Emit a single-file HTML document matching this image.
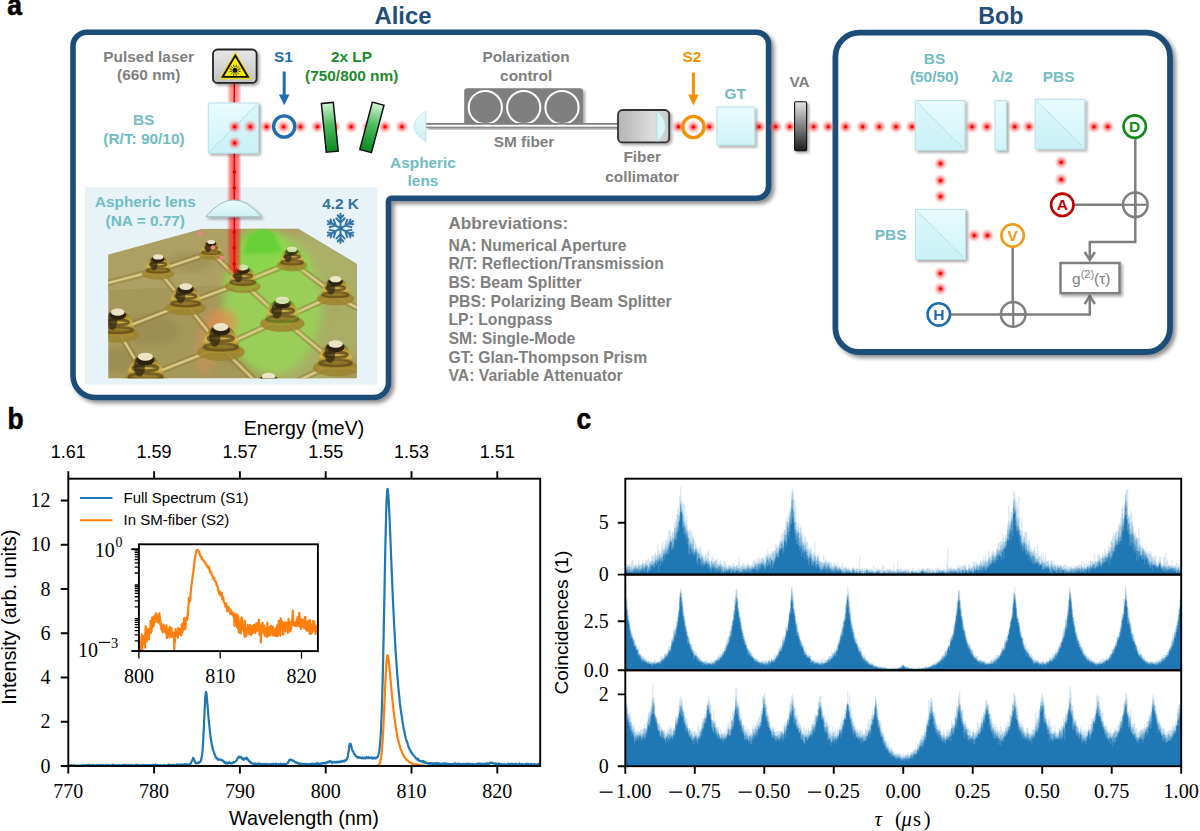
<!DOCTYPE html>
<html><head><meta charset="utf-8"><title>figure</title>
<style>html,body{margin:0;padding:0;background:#fff;overflow:hidden;}svg{display:block;}</style>
</head><body>
<svg width="1200" height="831" viewBox="0 0 1200 831">
<rect width="1200" height="831" fill="#fff"/>
<defs>
<filter id="sh" x="-20%" y="-20%" width="150%" height="150%">
  <feGaussianBlur in="SourceAlpha" stdDeviation="2.2"/>
  <feOffset dx="2.5" dy="3" result="ob"/>
  <feComponentTransfer><feFuncA type="linear" slope="0.45"/></feComponentTransfer>
  <feMerge><feMergeNode/><feMergeNode in="SourceGraphic"/></feMerge>
</filter>
<filter id="sh2" x="-30%" y="-30%" width="160%" height="160%">
  <feGaussianBlur in="SourceAlpha" stdDeviation="1.5"/>
  <feOffset dx="1.5" dy="2" result="ob"/>
  <feComponentTransfer><feFuncA type="linear" slope="0.35"/></feComponentTransfer>
  <feMerge><feMergeNode/><feMergeNode in="SourceGraphic"/></feMerge>
</filter>
<filter id="blur1"><feGaussianBlur stdDeviation="1.6"/></filter>
<filter id="blur3"><feGaussianBlur stdDeviation="3"/></filter>
<filter id="blur5"><feGaussianBlur stdDeviation="5"/></filter>
<radialGradient id="glow">
  <stop offset="0" stop-color="#ff0000" stop-opacity="0.85"/>
  <stop offset="0.35" stop-color="#ff2020" stop-opacity="0.6"/>
  <stop offset="0.65" stop-color="#ff4a4a" stop-opacity="0.28"/>
  <stop offset="1" stop-color="#ff7070" stop-opacity="0"/>
</radialGradient>
<linearGradient id="cube" x1="0" y1="0" x2="0" y2="1">
  <stop offset="0" stop-color="#e9fbfd"/><stop offset="1" stop-color="#cff4f8"/>
</linearGradient>
<linearGradient id="gfil" x1="0" y1="0" x2="0" y2="1">
  <stop offset="0" stop-color="#d2f3d6"/><stop offset="0.45" stop-color="#4dbb5c"/><stop offset="1" stop-color="#078a22"/>
</linearGradient>
<linearGradient id="lasbox" x1="0" y1="0" x2="0" y2="1">
  <stop offset="0" stop-color="#e8e8e8"/><stop offset="1" stop-color="#c2c2c2"/>
</linearGradient>
<linearGradient id="coll" x1="0" y1="0" x2="1" y2="0">
  <stop offset="0" stop-color="#b4b4b4"/><stop offset="0.7" stop-color="#dedede"/><stop offset="1" stop-color="#c8c8c8"/>
</linearGradient>
<linearGradient id="va" x1="0" y1="0" x2="0" y2="1">
  <stop offset="0" stop-color="#e4e4e4"/><stop offset="1" stop-color="#1e1e1e"/>
</linearGradient>
<linearGradient id="lensg" x1="0" y1="0" x2="0" y2="1">
  <stop offset="0" stop-color="#eafcfd"/><stop offset="1" stop-color="#cdeff3"/>
</linearGradient>
<linearGradient id="qdbase" x1="0" y1="0" x2="0" y2="1">
  <stop offset="0" stop-color="#a49455"/><stop offset="1" stop-color="#a39152"/>
</linearGradient>
<radialGradient id="greenglow" cx="0.5" cy="0.5" r="0.5">
  <stop offset="0" stop-color="#8fe04a" stop-opacity="0.95"/>
  <stop offset="0.6" stop-color="#8fdc50" stop-opacity="0.6"/>
  <stop offset="1" stop-color="#8fdc50" stop-opacity="0"/>
</radialGradient>
<radialGradient id="dome" cx="0.5" cy="0.35" r="0.6">
  <stop offset="0" stop-color="#f4ecc4"/>
  <stop offset="0.25" stop-color="#3b3218"/>
  <stop offset="0.45" stop-color="#c9a33a"/>
  <stop offset="0.7" stop-color="#6a5422"/>
  <stop offset="1" stop-color="#c2a64c" stop-opacity="0.2"/>
</radialGradient>
<linearGradient id="domeg" x1="0" y1="0" x2="0" y2="1">
  <stop offset="0" stop-color="#5e4c1c"/><stop offset="0.3" stop-color="#b49634"/><stop offset="0.55" stop-color="#d6b84c"/><stop offset="0.8" stop-color="#8c7226"/><stop offset="1" stop-color="#b09030"/>
</linearGradient>
<clipPath id="qdclip"><path d="M108.3,254.7 L201.6,229 L298.2,228.7 L356.9,264 L356.9,378.3 L108.3,378.3 Z"/></clipPath>
</defs>
<text transform="translate(7.3,15.2) scale(0.92,1)" font-family="Liberation Sans" font-weight="bold" font-size="28.7" fill="#000" stroke="#000" stroke-width="0.6">a</text>
<text x="403" y="24" font-family="Liberation Sans" font-weight="bold" font-size="23.8" fill="#1f4e79" text-anchor="middle" >Alice</text>
<text x="1000.8" y="23.7" font-family="Liberation Sans" font-weight="bold" font-size="23.2" fill="#1f4e79" text-anchor="middle" >Bob</text>
<path d="M73,46.2 A14,14 0 0 1 87,32.2 L756.6,32.2 A12,12 0 0 1 768.6,44.2 L768.6,186.3 A12,12 0 0 1 756.6,198.3 L391.5,198.3 A3,3 0 0 0 388.5,201.3 L388.5,382.5 A15,15 0 0 1 373.5,397.5 L95,397.5 A22,22 0 0 1 73,375.5 Z" fill="#fff" stroke="#1f4e79" stroke-width="5.6" filter="url(#sh)"/>
<rect x="835.4" y="32.7" width="334.6" height="319.3" rx="24" fill="#fff" stroke="#1f4e79" stroke-width="5.8" filter="url(#sh)"/>
<rect x="85" y="187.2" width="292.7" height="197.2" fill="#e7f3f7"/>
<g clip-path="url(#qdclip)">
<rect x="100" y="220" width="260" height="165" fill="#a6975a"/>
<path d="M108,254 L202,229 L298,229 L357,264 L357,280 L108,290Z" fill="#b2a468" opacity="0.7"/>
<ellipse cx="150" cy="330" rx="30" ry="16" fill="#8e8048" opacity="0.35" filter="url(#blur3)"/>
<ellipse cx="250" cy="355" rx="28" ry="14" fill="#8e8048" opacity="0.35" filter="url(#blur3)"/>
<ellipse cx="190" cy="262" rx="22" ry="10" fill="#8e8048" opacity="0.35" filter="url(#blur3)"/>
<ellipse cx="300" cy="330" rx="25" ry="14" fill="#8e8048" opacity="0.35" filter="url(#blur3)"/>
<ellipse cx="330" cy="310" rx="20" ry="12" fill="#8e8048" opacity="0.35" filter="url(#blur3)"/>
<ellipse cx="120" cy="360" rx="18" ry="12" fill="#8e8048" opacity="0.35" filter="url(#blur3)"/>
<ellipse cx="300" cy="310" rx="70" ry="75" fill="#aab46a" opacity="0.8" filter="url(#blur5)"/>
<ellipse cx="272" cy="305" rx="50" ry="70" fill="#98d458" opacity="0.85" filter="url(#blur5)"/>
<ellipse cx="262" cy="250" rx="26" ry="22" fill="#86d848" opacity="0.8" filter="url(#blur3)"/>
<path d="M248,236 L262,228 L274,233 L282,252 L244,254Z" fill="#5fcf30" opacity="0.8" filter="url(#blur1)"/>
<ellipse cx="222" cy="322" rx="16" ry="13" fill="#f08a50" opacity="0.6" filter="url(#blur3)"/>
<ellipse cx="205" cy="350" rx="10" ry="25" fill="#e8905a" opacity="0.35" filter="url(#blur3)"/>
<line x1="158.1" y1="270.4" x2="211.2" y2="252.5" stroke="#8a7434" stroke-width="6.5" opacity="0.45"/>
<line x1="158.1" y1="270.4" x2="211.2" y2="252.5" stroke="#d8c27a" stroke-width="3" opacity="0.75"/>
<line x1="158.1" y1="270.4" x2="211.2" y2="252.5" stroke="#f0e6b8" stroke-width="1" opacity="0.7"/>
<line x1="211.2" y1="252.5" x2="242.7" y2="282.5" stroke="#8a7434" stroke-width="6.5" opacity="0.45"/>
<line x1="211.2" y1="252.5" x2="242.7" y2="282.5" stroke="#d8c27a" stroke-width="3" opacity="0.75"/>
<line x1="211.2" y1="252.5" x2="242.7" y2="282.5" stroke="#f0e6b8" stroke-width="1" opacity="0.7"/>
<line x1="158.1" y1="270.4" x2="185.7" y2="303.6" stroke="#8a7434" stroke-width="6.5" opacity="0.45"/>
<line x1="158.1" y1="270.4" x2="185.7" y2="303.6" stroke="#d8c27a" stroke-width="3" opacity="0.75"/>
<line x1="158.1" y1="270.4" x2="185.7" y2="303.6" stroke="#f0e6b8" stroke-width="1" opacity="0.7"/>
<line x1="185.7" y1="303.6" x2="242.7" y2="282.5" stroke="#8a7434" stroke-width="6.5" opacity="0.45"/>
<line x1="185.7" y1="303.6" x2="242.7" y2="282.5" stroke="#d8c27a" stroke-width="3" opacity="0.75"/>
<line x1="185.7" y1="303.6" x2="242.7" y2="282.5" stroke="#f0e6b8" stroke-width="1" opacity="0.7"/>
<line x1="242.7" y1="282.5" x2="292" y2="262.4" stroke="#8a7434" stroke-width="6.5" opacity="0.45"/>
<line x1="242.7" y1="282.5" x2="292" y2="262.4" stroke="#d8c27a" stroke-width="3" opacity="0.75"/>
<line x1="242.7" y1="282.5" x2="292" y2="262.4" stroke="#f0e6b8" stroke-width="1" opacity="0.7"/>
<line x1="292" y1="262.4" x2="335.6" y2="294.7" stroke="#8a7434" stroke-width="6.5" opacity="0.45"/>
<line x1="292" y1="262.4" x2="335.6" y2="294.7" stroke="#d8c27a" stroke-width="3" opacity="0.75"/>
<line x1="292" y1="262.4" x2="335.6" y2="294.7" stroke="#f0e6b8" stroke-width="1" opacity="0.7"/>
<line x1="242.7" y1="282.5" x2="282.4" y2="318.9" stroke="#8a7434" stroke-width="6.5" opacity="0.45"/>
<line x1="242.7" y1="282.5" x2="282.4" y2="318.9" stroke="#d8c27a" stroke-width="3" opacity="0.75"/>
<line x1="242.7" y1="282.5" x2="282.4" y2="318.9" stroke="#f0e6b8" stroke-width="1" opacity="0.7"/>
<line x1="282.4" y1="318.9" x2="335.6" y2="294.7" stroke="#8a7434" stroke-width="6.5" opacity="0.45"/>
<line x1="282.4" y1="318.9" x2="335.6" y2="294.7" stroke="#d8c27a" stroke-width="3" opacity="0.75"/>
<line x1="282.4" y1="318.9" x2="335.6" y2="294.7" stroke="#f0e6b8" stroke-width="1" opacity="0.7"/>
<line x1="185.7" y1="303.6" x2="117.7" y2="330.1" stroke="#8a7434" stroke-width="6.5" opacity="0.45"/>
<line x1="185.7" y1="303.6" x2="117.7" y2="330.1" stroke="#d8c27a" stroke-width="3" opacity="0.75"/>
<line x1="185.7" y1="303.6" x2="117.7" y2="330.1" stroke="#f0e6b8" stroke-width="1" opacity="0.7"/>
<line x1="185.7" y1="303.6" x2="220.8" y2="347.0" stroke="#8a7434" stroke-width="6.5" opacity="0.45"/>
<line x1="185.7" y1="303.6" x2="220.8" y2="347.0" stroke="#d8c27a" stroke-width="3" opacity="0.75"/>
<line x1="185.7" y1="303.6" x2="220.8" y2="347.0" stroke="#f0e6b8" stroke-width="1" opacity="0.7"/>
<line x1="220.8" y1="347.0" x2="282.4" y2="318.9" stroke="#8a7434" stroke-width="6.5" opacity="0.45"/>
<line x1="220.8" y1="347.0" x2="282.4" y2="318.9" stroke="#d8c27a" stroke-width="3" opacity="0.75"/>
<line x1="220.8" y1="347.0" x2="282.4" y2="318.9" stroke="#f0e6b8" stroke-width="1" opacity="0.7"/>
<line x1="117.7" y1="330.1" x2="145.4" y2="376.7" stroke="#8a7434" stroke-width="6.5" opacity="0.45"/>
<line x1="117.7" y1="330.1" x2="145.4" y2="376.7" stroke="#d8c27a" stroke-width="3" opacity="0.75"/>
<line x1="117.7" y1="330.1" x2="145.4" y2="376.7" stroke="#f0e6b8" stroke-width="1" opacity="0.7"/>
<line x1="220.8" y1="347.0" x2="145.4" y2="376.7" stroke="#8a7434" stroke-width="6.5" opacity="0.45"/>
<line x1="220.8" y1="347.0" x2="145.4" y2="376.7" stroke="#d8c27a" stroke-width="3" opacity="0.75"/>
<line x1="220.8" y1="347.0" x2="145.4" y2="376.7" stroke="#f0e6b8" stroke-width="1" opacity="0.7"/>
<line x1="220.8" y1="347.0" x2="268.6" y2="394.3" stroke="#8a7434" stroke-width="6.5" opacity="0.45"/>
<line x1="220.8" y1="347.0" x2="268.6" y2="394.3" stroke="#d8c27a" stroke-width="3" opacity="0.75"/>
<line x1="220.8" y1="347.0" x2="268.6" y2="394.3" stroke="#f0e6b8" stroke-width="1" opacity="0.7"/>
<line x1="282.4" y1="318.9" x2="335.6" y2="363.0" stroke="#8a7434" stroke-width="6.5" opacity="0.45"/>
<line x1="282.4" y1="318.9" x2="335.6" y2="363.0" stroke="#d8c27a" stroke-width="3" opacity="0.75"/>
<line x1="282.4" y1="318.9" x2="335.6" y2="363.0" stroke="#f0e6b8" stroke-width="1" opacity="0.7"/>
<line x1="335.6" y1="363.0" x2="268.6" y2="394.3" stroke="#8a7434" stroke-width="6.5" opacity="0.45"/>
<line x1="335.6" y1="363.0" x2="268.6" y2="394.3" stroke="#d8c27a" stroke-width="3" opacity="0.75"/>
<line x1="335.6" y1="363.0" x2="268.6" y2="394.3" stroke="#f0e6b8" stroke-width="1" opacity="0.7"/>
<line x1="117.7" y1="330" x2="100" y2="318" stroke="#8a7434" stroke-width="6.5" opacity="0.45"/>
<line x1="117.7" y1="330" x2="100" y2="318" stroke="#d8c27a" stroke-width="3" opacity="0.75"/>
<line x1="117.7" y1="330" x2="100" y2="318" stroke="#f0e6b8" stroke-width="1" opacity="0.7"/>
<line x1="158.1" y1="270" x2="100" y2="285" stroke="#8a7434" stroke-width="6.5" opacity="0.45"/>
<line x1="158.1" y1="270" x2="100" y2="285" stroke="#d8c27a" stroke-width="3" opacity="0.75"/>
<line x1="158.1" y1="270" x2="100" y2="285" stroke="#f0e6b8" stroke-width="1" opacity="0.7"/>
<line x1="335.6" y1="297" x2="362" y2="310" stroke="#8a7434" stroke-width="6.5" opacity="0.45"/>
<line x1="335.6" y1="297" x2="362" y2="310" stroke="#d8c27a" stroke-width="3" opacity="0.75"/>
<line x1="335.6" y1="297" x2="362" y2="310" stroke="#f0e6b8" stroke-width="1" opacity="0.7"/>
<line x1="335.6" y1="362" x2="362" y2="372" stroke="#8a7434" stroke-width="6.5" opacity="0.45"/>
<line x1="335.6" y1="362" x2="362" y2="372" stroke="#d8c27a" stroke-width="3" opacity="0.75"/>
<line x1="335.6" y1="362" x2="362" y2="372" stroke="#f0e6b8" stroke-width="1" opacity="0.7"/>
<line x1="145.4" y1="376" x2="140" y2="390" stroke="#8a7434" stroke-width="6.5" opacity="0.45"/>
<line x1="145.4" y1="376" x2="140" y2="390" stroke="#d8c27a" stroke-width="3" opacity="0.75"/>
<line x1="145.4" y1="376" x2="140" y2="390" stroke="#f0e6b8" stroke-width="1" opacity="0.7"/>
<ellipse cx="211.2" cy="255.12" rx="12.6" ry="4.73" fill="#9c842e" opacity="0.85"/>
<path d="M201.22,255.65 C201.75,245.67 205.42,240.95 211.2,240.95 C216.97,240.95 220.65,245.67 221.17,255.65 Z" fill="url(#domeg)"/>
<ellipse cx="211.2" cy="247.98" rx="6.51" ry="1.47" fill="none" stroke="#3a2c10" stroke-width="1.68" opacity="0.6"/>
<ellipse cx="211.2" cy="252.5" rx="8.61" ry="1.68" fill="none" stroke="#4a3814" stroke-width="1.47" opacity="0.55"/>
<ellipse cx="208.05" cy="247.25" rx="2.94" ry="5.25" fill="#2a200c" opacity="0.65"/>
<ellipse cx="211.2" cy="243.78" rx="4.83" ry="2.73" fill="#2c2210"/>
<ellipse cx="211.2" cy="242" rx="3.99" ry="2.1" fill="#ebe5c6"/>
<ellipse cx="158.1" cy="273.77" rx="16.2" ry="6.08" fill="#9c842e" opacity="0.85"/>
<path d="M145.28,274.45 C145.95,261.62 150.67,255.55 158.1,255.55 C165.53,255.55 170.25,261.62 170.92,274.45 Z" fill="url(#domeg)"/>
<ellipse cx="158.1" cy="264.59" rx="8.37" ry="1.89" fill="none" stroke="#3a2c10" stroke-width="2.16" opacity="0.6"/>
<ellipse cx="158.1" cy="270.4" rx="11.07" ry="2.16" fill="none" stroke="#4a3814" stroke-width="1.89" opacity="0.55"/>
<ellipse cx="154.05" cy="263.65" rx="3.78" ry="6.75" fill="#2a200c" opacity="0.65"/>
<ellipse cx="158.1" cy="259.19" rx="6.21" ry="3.51" fill="#2c2210"/>
<ellipse cx="158.1" cy="256.9" rx="5.13" ry="2.7" fill="#ebe5c6"/>
<ellipse cx="242.7" cy="286.25" rx="18" ry="6.75" fill="#9c842e" opacity="0.85"/>
<path d="M228.45,287 C229.2,272.75 234.45,266 242.7,266 C250.95,266 256.2,272.75 256.95,287 Z" fill="url(#domeg)"/>
<ellipse cx="242.7" cy="276.05" rx="9.3" ry="2.1" fill="none" stroke="#3a2c10" stroke-width="2.4" opacity="0.6"/>
<ellipse cx="242.7" cy="282.5" rx="12.3" ry="2.4" fill="none" stroke="#4a3814" stroke-width="2.1" opacity="0.55"/>
<ellipse cx="238.2" cy="275" rx="4.2" ry="7.5" fill="#2a200c" opacity="0.65"/>
<ellipse cx="242.7" cy="270.05" rx="6.9" ry="3.9" fill="#2c2210"/>
<ellipse cx="242.7" cy="267.5" rx="5.7" ry="3" fill="#ebe5c6"/>
<ellipse cx="292" cy="265.65" rx="15.6" ry="5.85" fill="#9c842e" opacity="0.85"/>
<path d="M279.65,266.3 C280.3,253.95 284.85,248.1 292,248.1 C299.15,248.1 303.7,253.95 304.35,266.3 Z" fill="url(#domeg)"/>
<ellipse cx="292" cy="256.81" rx="8.06" ry="1.82" fill="none" stroke="#3a2c10" stroke-width="2.08" opacity="0.6"/>
<ellipse cx="292" cy="262.4" rx="10.66" ry="2.08" fill="none" stroke="#4a3814" stroke-width="1.82" opacity="0.55"/>
<ellipse cx="288.1" cy="255.9" rx="3.64" ry="6.5" fill="#2a200c" opacity="0.65"/>
<ellipse cx="292" cy="251.61" rx="5.98" ry="3.38" fill="#2c2210"/>
<ellipse cx="292" cy="249.4" rx="4.94" ry="2.6" fill="#ebe5c6"/>
<ellipse cx="335.6" cy="298.57" rx="18.6" ry="6.98" fill="#9c842e" opacity="0.85"/>
<path d="M320.88,299.35 C321.65,284.62 327.08,277.65 335.6,277.65 C344.12,277.65 349.55,284.62 350.33,299.35 Z" fill="url(#domeg)"/>
<ellipse cx="335.6" cy="288.04" rx="9.61" ry="2.17" fill="none" stroke="#3a2c10" stroke-width="2.48" opacity="0.6"/>
<ellipse cx="335.6" cy="294.7" rx="12.71" ry="2.48" fill="none" stroke="#4a3814" stroke-width="2.17" opacity="0.55"/>
<ellipse cx="330.95" cy="286.95" rx="4.34" ry="7.75" fill="#2a200c" opacity="0.65"/>
<ellipse cx="335.6" cy="281.84" rx="7.13" ry="4.03" fill="#2c2210"/>
<ellipse cx="335.6" cy="279.2" rx="5.89" ry="3.1" fill="#ebe5c6"/>
<ellipse cx="185.7" cy="307.85" rx="20.4" ry="7.65" fill="#9c842e" opacity="0.85"/>
<path d="M169.55,308.7 C170.4,292.55 176.35,284.9 185.7,284.9 C195.05,284.9 201,292.55 201.85,308.7 Z" fill="url(#domeg)"/>
<ellipse cx="185.7" cy="296.29" rx="10.54" ry="2.38" fill="none" stroke="#3a2c10" stroke-width="2.72" opacity="0.6"/>
<ellipse cx="185.7" cy="303.6" rx="13.94" ry="2.72" fill="none" stroke="#4a3814" stroke-width="2.38" opacity="0.55"/>
<ellipse cx="180.6" cy="295.1" rx="4.76" ry="8.5" fill="#2a200c" opacity="0.65"/>
<ellipse cx="185.7" cy="289.49" rx="7.82" ry="4.42" fill="#2c2210"/>
<ellipse cx="185.7" cy="286.6" rx="6.46" ry="3.4" fill="#ebe5c6"/>
<ellipse cx="117.7" cy="334.6" rx="21.6" ry="8.1" fill="#9c842e" opacity="0.85"/>
<path d="M100.6,335.5 C101.5,318.4 107.8,310.3 117.7,310.3 C127.6,310.3 133.9,318.4 134.8,335.5 Z" fill="url(#domeg)"/>
<ellipse cx="117.7" cy="322.36" rx="11.16" ry="2.52" fill="none" stroke="#3a2c10" stroke-width="2.88" opacity="0.6"/>
<ellipse cx="117.7" cy="330.1" rx="14.76" ry="2.88" fill="none" stroke="#4a3814" stroke-width="2.52" opacity="0.55"/>
<ellipse cx="112.3" cy="321.1" rx="5.04" ry="9" fill="#2a200c" opacity="0.65"/>
<ellipse cx="117.7" cy="315.16" rx="8.28" ry="4.68" fill="#2c2210"/>
<ellipse cx="117.7" cy="312.1" rx="6.84" ry="3.6" fill="#ebe5c6"/>
<ellipse cx="282.4" cy="323.52" rx="22.2" ry="8.33" fill="#9c842e" opacity="0.85"/>
<path d="M264.82,324.45 C265.75,306.87 272.22,298.55 282.4,298.55 C292.57,298.55 299.05,306.87 299.97,324.45 Z" fill="url(#domeg)"/>
<ellipse cx="282.4" cy="310.94" rx="11.47" ry="2.59" fill="none" stroke="#3a2c10" stroke-width="2.96" opacity="0.6"/>
<ellipse cx="282.4" cy="318.9" rx="15.17" ry="2.96" fill="none" stroke="#4a3814" stroke-width="2.59" opacity="0.55"/>
<ellipse cx="276.85" cy="309.65" rx="5.18" ry="9.25" fill="#2a200c" opacity="0.65"/>
<ellipse cx="282.4" cy="303.54" rx="8.51" ry="4.81" fill="#2c2210"/>
<ellipse cx="282.4" cy="300.4" rx="7.03" ry="3.7" fill="#ebe5c6"/>
<ellipse cx="220.8" cy="352" rx="24" ry="9" fill="#9c842e" opacity="0.85"/>
<path d="M201.8,353 C202.8,334 209.8,325 220.8,325 C231.8,325 238.8,334 239.8,353 Z" fill="url(#domeg)"/>
<ellipse cx="220.8" cy="338.4" rx="12.4" ry="2.8" fill="none" stroke="#3a2c10" stroke-width="3.2" opacity="0.6"/>
<ellipse cx="220.8" cy="347" rx="16.4" ry="3.2" fill="none" stroke="#4a3814" stroke-width="2.8" opacity="0.55"/>
<ellipse cx="214.8" cy="337" rx="5.6" ry="10" fill="#2a200c" opacity="0.65"/>
<ellipse cx="220.8" cy="330.4" rx="9.2" ry="5.2" fill="#2c2210"/>
<ellipse cx="220.8" cy="327" rx="7.6" ry="4" fill="#ebe5c6"/>
<ellipse cx="335.6" cy="367.75" rx="22.8" ry="8.55" fill="#9c842e" opacity="0.85"/>
<path d="M317.55,368.7 C318.5,350.65 325.15,342.1 335.6,342.1 C346.05,342.1 352.7,350.65 353.65,368.7 Z" fill="url(#domeg)"/>
<ellipse cx="335.6" cy="354.83" rx="11.78" ry="2.66" fill="none" stroke="#3a2c10" stroke-width="3.04" opacity="0.6"/>
<ellipse cx="335.6" cy="363" rx="15.58" ry="3.04" fill="none" stroke="#4a3814" stroke-width="2.66" opacity="0.55"/>
<ellipse cx="329.9" cy="353.5" rx="5.32" ry="9.5" fill="#2a200c" opacity="0.65"/>
<ellipse cx="335.6" cy="347.23" rx="8.74" ry="4.94" fill="#2c2210"/>
<ellipse cx="335.6" cy="344" rx="7.22" ry="3.8" fill="#ebe5c6"/>
<ellipse cx="145.4" cy="381.7" rx="24" ry="9" fill="#9c842e" opacity="0.85"/>
<path d="M126.4,382.7 C127.4,363.7 134.4,354.7 145.4,354.7 C156.4,354.7 163.4,363.7 164.4,382.7 Z" fill="url(#domeg)"/>
<ellipse cx="145.4" cy="368.1" rx="12.4" ry="2.8" fill="none" stroke="#3a2c10" stroke-width="3.2" opacity="0.6"/>
<ellipse cx="145.4" cy="376.7" rx="16.4" ry="3.2" fill="none" stroke="#4a3814" stroke-width="2.8" opacity="0.55"/>
<ellipse cx="139.4" cy="366.7" rx="5.6" ry="10" fill="#2a200c" opacity="0.65"/>
<ellipse cx="145.4" cy="360.1" rx="9.2" ry="5.2" fill="#2c2210"/>
<ellipse cx="145.4" cy="356.7" rx="7.6" ry="4" fill="#ebe5c6"/>
<ellipse cx="268.6" cy="398.8" rx="21.6" ry="8.1" fill="#9c842e" opacity="0.85"/>
<path d="M251.5,399.7 C252.4,382.6 258.7,374.5 268.6,374.5 C278.5,374.5 284.8,382.6 285.7,399.7 Z" fill="url(#domeg)"/>
<ellipse cx="268.6" cy="386.56" rx="11.16" ry="2.52" fill="none" stroke="#3a2c10" stroke-width="2.88" opacity="0.6"/>
<ellipse cx="268.6" cy="394.3" rx="14.76" ry="2.88" fill="none" stroke="#4a3814" stroke-width="2.52" opacity="0.55"/>
<ellipse cx="263.2" cy="385.3" rx="5.04" ry="9" fill="#2a200c" opacity="0.65"/>
<ellipse cx="268.6" cy="379.36" rx="8.28" ry="4.68" fill="#2c2210"/>
<ellipse cx="268.6" cy="376.3" rx="6.84" ry="3.6" fill="#ebe5c6"/>
<ellipse cx="243" cy="278" rx="17" ry="11" fill="none" stroke="#7fe040" stroke-width="2" opacity="0.6" filter="url(#blur1)"/>
<ellipse cx="282" cy="312" rx="17" ry="11" fill="none" stroke="#7fe040" stroke-width="2" opacity="0.6" filter="url(#blur1)"/>
<ellipse cx="292" cy="262" rx="17" ry="11" fill="none" stroke="#7fe040" stroke-width="2" opacity="0.6" filter="url(#blur1)"/>
<circle cx="200" cy="233.5" r="2.2" fill="#f58080"/>
<circle cx="213" cy="247.5" r="2.2" fill="#f58080"/>
<circle cx="221.5" cy="258" r="2.2" fill="#f58080"/>
</g>
<rect x="228.8" y="84" width="11" height="19" fill="#ff2828" opacity="0.5" filter="url(#blur1)"/>
<rect x="228.8" y="154" width="11" height="118" fill="#ff1818" opacity="0.6" filter="url(#blur1)"/>
<line x1="234.3" y1="83" x2="234.3" y2="103" stroke="#e80000" stroke-width="1.5"/>
<line x1="234.3" y1="153" x2="234.3" y2="273" stroke="#f00000" stroke-width="1.6"/>
<circle cx="234.3" cy="172" r="1.8" fill="#e00000"/>
<circle cx="234.3" cy="188" r="1.8" fill="#e00000"/>
<circle cx="234.3" cy="232" r="1.8" fill="#e00000"/>
<circle cx="234.3" cy="248" r="1.8" fill="#e00000"/>
<circle cx="234.3" cy="264" r="1.8" fill="#e00000"/>
<circle cx="266.7" cy="126.7" r="7" fill="url(#glow)"/><circle cx="266.7" cy="126.7" r="1.5" fill="#ff0000"/>
<circle cx="283.6" cy="126.7" r="7" fill="url(#glow)"/><circle cx="283.6" cy="126.7" r="1.5" fill="#ff0000"/>
<circle cx="300.5" cy="126.7" r="7" fill="url(#glow)"/><circle cx="300.5" cy="126.7" r="1.5" fill="#ff0000"/>
<circle cx="317.4" cy="126.7" r="7" fill="url(#glow)"/><circle cx="317.4" cy="126.7" r="1.5" fill="#ff0000"/>
<circle cx="334.3" cy="126.7" r="7" fill="url(#glow)"/><circle cx="334.3" cy="126.7" r="1.5" fill="#ff0000"/>
<circle cx="351.2" cy="126.7" r="7" fill="url(#glow)"/><circle cx="351.2" cy="126.7" r="1.5" fill="#ff0000"/>
<circle cx="368.1" cy="126.7" r="7" fill="url(#glow)"/><circle cx="368.1" cy="126.7" r="1.5" fill="#ff0000"/>
<circle cx="385" cy="126.7" r="7" fill="url(#glow)"/><circle cx="385" cy="126.7" r="1.5" fill="#ff0000"/>
<circle cx="401.9" cy="126.7" r="7" fill="url(#glow)"/><circle cx="401.9" cy="126.7" r="1.5" fill="#ff0000"/>
<circle cx="678.5" cy="126.7" r="7" fill="url(#glow)"/><circle cx="678.5" cy="126.7" r="1.5" fill="#ff0000"/>
<circle cx="709.3" cy="126.7" r="7" fill="url(#glow)"/><circle cx="709.3" cy="126.7" r="1.5" fill="#ff0000"/>
<circle cx="759.2" cy="126.7" r="7" fill="url(#glow)"/><circle cx="759.2" cy="126.7" r="1.5" fill="#ff0000"/>
<circle cx="775.6" cy="126.7" r="7" fill="url(#glow)"/><circle cx="775.6" cy="126.7" r="1.5" fill="#ff0000"/>
<circle cx="789.8" cy="126.7" r="7" fill="url(#glow)"/><circle cx="789.8" cy="126.7" r="1.5" fill="#ff0000"/>
<circle cx="813.6" cy="126.7" r="7" fill="url(#glow)"/><circle cx="813.6" cy="126.7" r="1.5" fill="#ff0000"/>
<circle cx="828.2" cy="126.7" r="7" fill="url(#glow)"/><circle cx="828.2" cy="126.7" r="1.5" fill="#ff0000"/>
<circle cx="845.6" cy="126.7" r="7" fill="url(#glow)"/><circle cx="845.6" cy="126.7" r="1.5" fill="#ff0000"/>
<circle cx="862.7" cy="126.7" r="7" fill="url(#glow)"/><circle cx="862.7" cy="126.7" r="1.5" fill="#ff0000"/>
<circle cx="879.3" cy="126.7" r="7" fill="url(#glow)"/><circle cx="879.3" cy="126.7" r="1.5" fill="#ff0000"/>
<circle cx="896" cy="126.7" r="7" fill="url(#glow)"/><circle cx="896" cy="126.7" r="1.5" fill="#ff0000"/>
<circle cx="912" cy="126.7" r="7" fill="url(#glow)"/><circle cx="912" cy="126.7" r="1.5" fill="#ff0000"/>
<circle cx="972" cy="126.7" r="7" fill="url(#glow)"/><circle cx="972" cy="126.7" r="1.5" fill="#ff0000"/>
<circle cx="987" cy="126.7" r="7" fill="url(#glow)"/><circle cx="987" cy="126.7" r="1.5" fill="#ff0000"/>
<circle cx="1014.8" cy="126.7" r="7" fill="url(#glow)"/><circle cx="1014.8" cy="126.7" r="1.5" fill="#ff0000"/>
<circle cx="1028.9" cy="126.7" r="7" fill="url(#glow)"/><circle cx="1028.9" cy="126.7" r="1.5" fill="#ff0000"/>
<circle cx="1094" cy="126.7" r="7" fill="url(#glow)"/><circle cx="1094" cy="126.7" r="1.5" fill="#ff0000"/>
<circle cx="1107.8" cy="126.7" r="7" fill="url(#glow)"/><circle cx="1107.8" cy="126.7" r="1.5" fill="#ff0000"/>
<circle cx="940.5" cy="163.6" r="7" fill="url(#glow)"/><circle cx="940.5" cy="163.6" r="1.5" fill="#ff0000"/>
<circle cx="940.5" cy="180.5" r="7" fill="url(#glow)"/><circle cx="940.5" cy="180.5" r="1.5" fill="#ff0000"/>
<circle cx="940.5" cy="196.5" r="7" fill="url(#glow)"/><circle cx="940.5" cy="196.5" r="1.5" fill="#ff0000"/>
<circle cx="940.5" cy="273.4" r="7" fill="url(#glow)"/><circle cx="940.5" cy="273.4" r="1.5" fill="#ff0000"/>
<circle cx="940.5" cy="288.8" r="7" fill="url(#glow)"/><circle cx="940.5" cy="288.8" r="1.5" fill="#ff0000"/>
<circle cx="974.2" cy="235.4" r="7" fill="url(#glow)"/><circle cx="974.2" cy="235.4" r="1.5" fill="#ff0000"/>
<circle cx="987.5" cy="235.4" r="7" fill="url(#glow)"/><circle cx="987.5" cy="235.4" r="1.5" fill="#ff0000"/>
<circle cx="1061.2" cy="162.2" r="7" fill="url(#glow)"/><circle cx="1061.2" cy="162.2" r="1.5" fill="#ff0000"/>
<circle cx="1061.2" cy="179.6" r="7" fill="url(#glow)"/><circle cx="1061.2" cy="179.6" r="1.5" fill="#ff0000"/>
<rect x="213" y="49.5" width="43.6" height="33.4" rx="4.5" fill="url(#lasbox)" stroke="#222" stroke-width="1.8" filter="url(#sh2)"/>
<polygon points="235.3,52.3 251,78.8 219.6,78.8" fill="#f0dc00" stroke="#f0dc00" stroke-width="0.8" stroke-linejoin="round"/>
<polygon points="235.3,55.6 248,76.9 222.6,76.9" fill="#ffec00" stroke="#111" stroke-width="1.9" stroke-linejoin="miter"/>
<circle cx="235" cy="70.2" r="2.5" fill="#111"/>
<line x1="238.09" y1="71.03" x2="240.41" y2="71.65" stroke="#222" stroke-width="0.9"/>
<line x1="237.26" y1="72.46" x2="238.96" y2="74.16" stroke="#222" stroke-width="0.9"/>
<line x1="235.83" y1="73.29" x2="236.45" y2="75.61" stroke="#222" stroke-width="0.9"/>
<line x1="234.17" y1="73.29" x2="233.55" y2="75.61" stroke="#222" stroke-width="0.9"/>
<line x1="232.74" y1="72.46" x2="231.04" y2="74.16" stroke="#222" stroke-width="0.9"/>
<line x1="231.91" y1="71.03" x2="229.59" y2="71.65" stroke="#222" stroke-width="0.9"/>
<line x1="231.91" y1="69.37" x2="229.59" y2="68.75" stroke="#222" stroke-width="0.9"/>
<line x1="232.74" y1="67.94" x2="231.04" y2="66.24" stroke="#222" stroke-width="0.9"/>
<line x1="234.17" y1="67.11" x2="233.55" y2="64.79" stroke="#222" stroke-width="0.9"/>
<line x1="235.83" y1="67.11" x2="236.45" y2="64.79" stroke="#222" stroke-width="0.9"/>
<line x1="237.26" y1="67.94" x2="238.96" y2="66.24" stroke="#222" stroke-width="0.9"/>
<line x1="238.09" y1="69.37" x2="240.41" y2="68.75" stroke="#222" stroke-width="0.9"/>
<text x="148.7" y="61.7" font-family="Liberation Sans" font-weight="bold" font-size="15.4" fill="#7f7f7f" text-anchor="middle" >Pulsed laser</text>
<text x="148.7" y="80.2" font-family="Liberation Sans" font-weight="bold" font-size="15.4" fill="#7f7f7f" text-anchor="middle" >(660 nm)</text>
<rect x="208.3" y="103" width="50" height="50" fill="url(#cube)" stroke="#b5e2e7" stroke-width="1" filter="url(#sh2)"/>
<line x1="210.3" y1="151" x2="256.3" y2="105" stroke="#a9cfd4" stroke-width="1.1" stroke-dasharray="1.6,1.6"/>
<path d="M257.3,104 L209.3,152 L257.3,152Z" fill="#c4eef3" opacity="0.35"/>
<circle cx="234.7" cy="126.7" r="7" fill="url(#glow)"/><circle cx="234.7" cy="126.7" r="1.5" fill="#ff0000"/>
<circle cx="250.3" cy="126.7" r="7" fill="url(#glow)"/><circle cx="250.3" cy="126.7" r="1.5" fill="#ff0000"/>
<circle cx="234.7" cy="143" r="7" fill="url(#glow)"/><circle cx="234.7" cy="143" r="1.5" fill="#ff0000"/>
<text x="143.7" y="124.7" font-family="Liberation Sans" font-weight="bold" font-size="15.4" fill="#6fbcc4" text-anchor="middle" >BS</text>
<text x="144" y="143.8" font-family="Liberation Sans" font-weight="bold" font-size="15.4" fill="#6fbcc4" text-anchor="middle" >(R/T: 90/10)</text>
<text x="283.5" y="62" font-family="Liberation Sans" font-weight="bold" font-size="15.4" fill="#1f6cb0" text-anchor="middle" >S1</text>
<line x1="284.2" y1="71.5" x2="284.2" y2="96" stroke="#1f6cb0" stroke-width="3"/>
<polygon points="278.9,94.5 289.5,94.5 284.2,105.3" fill="#1f6cb0"/>
<circle cx="284.2" cy="126.5" r="10.6" fill="none" stroke="#1f6cb0" stroke-width="3.4"/>
<rect x="-6" y="-24.5" width="12" height="49" fill="url(#gfil)" stroke="#111" stroke-width="1.5" transform="translate(329.8,127.3) rotate(-5.8)"/>
<rect x="-6" y="-24.5" width="12" height="49" fill="url(#gfil)" stroke="#111" stroke-width="1.5" transform="translate(371.9,127.4) rotate(14.8)"/>
<text x="351.5" y="62" font-family="Liberation Sans" font-weight="bold" font-size="15.4" fill="#1c8b2c" text-anchor="middle" >2x LP</text>
<text x="351.7" y="80.6" font-family="Liberation Sans" font-weight="bold" font-size="15.4" fill="#1c8b2c" text-anchor="middle" >(750/800 nm)</text>
<rect x="426" y="123" width="192" height="5" fill="#9a9a9a" filter="url(#sh2)"/>
<path d="M464.2,124 L464.2,91.5 Q464.2,88.3 467.4,88.3 L579.8,88.3 Q583,88.3 583,91.5 L583,124Z" fill="#7f7f7f" filter="url(#sh2)"/>
<circle cx="485.3" cy="107.5" r="16.6" fill="#7f7f7f" stroke="#fff" stroke-width="2"/>
<circle cx="523.7" cy="107.5" r="16.6" fill="#7f7f7f" stroke="#fff" stroke-width="2"/>
<circle cx="562" cy="107.5" r="16.6" fill="#7f7f7f" stroke="#fff" stroke-width="2"/>
<rect x="426" y="123" width="192" height="1.8" fill="#808080"/>
<rect x="426" y="124.8" width="192" height="2" fill="#ffffff"/>
<rect x="426" y="126.8" width="192" height="1.4" fill="#8a8a8a"/>
<path d="M425.8,111.3 Q402.2,126.5 425.8,141.7 Z" fill="url(#lensg)" stroke="#b8dfe4" stroke-width="0.8"/>
<text x="526" y="62" font-family="Liberation Sans" font-weight="bold" font-size="15.4" fill="#7f7f7f" text-anchor="middle" >Polarization</text>
<text x="526.2" y="80.5" font-family="Liberation Sans" font-weight="bold" font-size="15.4" fill="#7f7f7f" text-anchor="middle" >control</text>
<text x="524" y="146.7" font-family="Liberation Sans" font-weight="bold" font-size="15.4" fill="#7f7f7f" text-anchor="middle" >SM fiber</text>
<text x="423" y="168" font-family="Liberation Sans" font-weight="bold" font-size="15.4" fill="#6fbcc4" text-anchor="middle" >Aspheric</text>
<text x="423" y="185.5" font-family="Liberation Sans" font-weight="bold" font-size="15.4" fill="#6fbcc4" text-anchor="middle" >lens</text>
<rect x="618" y="110" width="51.2" height="32.4" rx="4.5" fill="url(#coll)" stroke="#333" stroke-width="1.8" filter="url(#sh2)"/>
<path d="M657,111 Q674,126.3 657,141.6 Z" fill="#d8f5f8" stroke="#a9d8de" stroke-width="0.6"/>
<text x="642.2" y="162.2" font-family="Liberation Sans" font-weight="bold" font-size="15.4" fill="#7f7f7f" text-anchor="middle" >Fiber</text>
<text x="642" y="181.5" font-family="Liberation Sans" font-weight="bold" font-size="15.4" fill="#7f7f7f" text-anchor="middle" >collimator</text>
<text x="692" y="62" font-family="Liberation Sans" font-weight="bold" font-size="15.4" fill="#f39200" text-anchor="middle" >S2</text>
<line x1="693.4" y1="72.5" x2="693.4" y2="96" stroke="#f39200" stroke-width="3"/>
<polygon points="688.1,94.5 698.7,94.5 693.4,105.4" fill="#f39200"/>
<circle cx="693.4" cy="127" r="7" fill="url(#glow)"/><circle cx="693.4" cy="127" r="1.5" fill="#ff0000"/>
<circle cx="693.4" cy="127" r="10.6" fill="none" stroke="#f39200" stroke-width="3.4"/>
<rect x="717" y="107" width="37.6" height="38" fill="url(#cube)" stroke="#b5e2e7" stroke-width="1" filter="url(#sh2)"/>
<text x="735.1" y="99.3" font-family="Liberation Sans" font-weight="bold" font-size="15.4" fill="#6fbcc4" text-anchor="middle" >GT</text>
<rect x="794.6" y="101.7" width="12" height="49" rx="1.2" fill="url(#va)" stroke="#111" stroke-width="1.1" filter="url(#sh2)"/>
<text x="799.5" y="87.2" font-family="Liberation Sans" font-weight="bold" font-size="15.4" fill="#7f7f7f" text-anchor="middle" >VA</text>
<rect x="915.3" y="100.6" width="49.5" height="49.5" fill="url(#cube)" stroke="#b5e2e7" stroke-width="1" filter="url(#sh2)"/>
<line x1="917.3" y1="102.6" x2="962.8" y2="148.1" stroke="#a9cfd4" stroke-width="1.1" stroke-dasharray="1.6,1.6"/>
<path d="M916.3,101.6 L963.8,149.1 L916.3,149.1Z" fill="#c4eef3" opacity="0.35"/>
<rect x="995" y="100.6" width="11.3" height="49.5" fill="url(#cube)" stroke="#b5e2e7" stroke-width="1" filter="url(#sh2)"/>
<rect x="1035.2" y="99.3" width="49.5" height="49.5" fill="url(#cube)" stroke="#b5e2e7" stroke-width="1" filter="url(#sh2)"/>
<line x1="1037.2" y1="101.3" x2="1082.7" y2="146.8" stroke="#a9cfd4" stroke-width="1.1" stroke-dasharray="1.6,1.6"/>
<path d="M1036.2,100.3 L1083.7,147.8 L1036.2,147.8Z" fill="#c4eef3" opacity="0.35"/>
<rect x="915.5" y="209.4" width="50" height="50" fill="url(#cube)" stroke="#b5e2e7" stroke-width="1" filter="url(#sh2)"/>
<line x1="917.5" y1="211.4" x2="963.5" y2="257.4" stroke="#a9cfd4" stroke-width="1.1" stroke-dasharray="1.6,1.6"/>
<path d="M916.5,210.4 L964.5,258.4 L916.5,258.4Z" fill="#c4eef3" opacity="0.35"/>
<text x="934.5" y="63.5" font-family="Liberation Sans" font-weight="bold" font-size="15.4" fill="#6fbcc4" text-anchor="middle" >BS</text>
<text x="934.3" y="82" font-family="Liberation Sans" font-weight="bold" font-size="15.4" fill="#6fbcc4" text-anchor="middle" >(50/50)</text>
<text x="1002.2" y="82" font-family="Liberation Sans" font-weight="bold" font-size="15.4" fill="#6fbcc4" text-anchor="middle" >λ/2</text>
<text x="1058.7" y="82.3" font-family="Liberation Sans" font-weight="bold" font-size="15.4" fill="#6fbcc4" text-anchor="middle" >PBS</text>
<text x="890.7" y="240.1" font-family="Liberation Sans" font-weight="bold" font-size="15.4" fill="#6fbcc4" text-anchor="middle" >PBS</text>
<path d="M1135.3,139 L1135.3,242 L1089.8,242 L1089.8,259" fill="none" stroke="#7f7f7f" stroke-width="2.5"/>
<path d="M1084.7,252 L1089.8,260 L1094.9,252" fill="none" stroke="#7f7f7f" stroke-width="2.5"/>
<line x1="1074" y1="204.8" x2="1124" y2="204.8" stroke="#7f7f7f" stroke-width="2.5"/>
<line x1="1012.7" y1="248" x2="1012.7" y2="304" stroke="#7f7f7f" stroke-width="2.5"/>
<path d="M951,314.4 L1089.8,314.4 L1089.8,297" fill="none" stroke="#7f7f7f" stroke-width="2.5"/>
<path d="M1084.7,304 L1089.8,296 L1094.9,304" fill="none" stroke="#7f7f7f" stroke-width="2.5"/>
<circle cx="1135.3" cy="204.8" r="12.3" fill="none" stroke="#7f7f7f" stroke-width="2.5"/>
<line x1="1123.0" y1="204.8" x2="1147.6" y2="204.8" stroke="#7f7f7f" stroke-width="2.2"/>
<line x1="1135.3" y1="192.5" x2="1135.3" y2="217.10000000000002" stroke="#7f7f7f" stroke-width="2.2"/>
<circle cx="1013.2" cy="314.4" r="12.3" fill="none" stroke="#7f7f7f" stroke-width="2.5"/>
<line x1="1000.9000000000001" y1="314.4" x2="1025.5" y2="314.4" stroke="#7f7f7f" stroke-width="2.2"/>
<line x1="1013.2" y1="302.09999999999997" x2="1013.2" y2="326.7" stroke="#7f7f7f" stroke-width="2.2"/>
<circle cx="1134.7" cy="126.6" r="11.2" fill="#fff" stroke="#118a17" stroke-width="2.6"/>
<text x="1134.7" y="132.2" font-family="Liberation Sans" font-weight="bold" font-size="15.5" fill="#118a17" text-anchor="middle" >D</text>
<circle cx="1062.3" cy="204.8" r="11.2" fill="#fff" stroke="#c00000" stroke-width="2.6"/>
<text x="1062.3" y="210.4" font-family="Liberation Sans" font-weight="bold" font-size="15.5" fill="#c00000" text-anchor="middle" >A</text>
<circle cx="1012.6" cy="235.5" r="11.2" fill="#fff" stroke="#f59a10" stroke-width="2.6"/>
<text x="1012.6" y="241.1" font-family="Liberation Sans" font-weight="bold" font-size="15.5" fill="#f59a10" text-anchor="middle" >V</text>
<circle cx="938.8" cy="314.4" r="11.2" fill="#fff" stroke="#1f6cb0" stroke-width="2.6"/>
<text x="938.8" y="320" font-family="Liberation Sans" font-weight="bold" font-size="15.5" fill="#1f6cb0" text-anchor="middle" >H</text>
<rect x="1060.5" y="263" width="59" height="30.2" fill="#fff" stroke="#7f7f7f" stroke-width="2.5" filter="url(#sh2)"/>
<text x="1072" y="284" font-family="Liberation Sans" font-size="15.5" fill="#7f7f7f">g<tspan dy="-6" font-size="11">(2)</tspan><tspan dy="6">(τ)</tspan></text>
<text x="145.3" y="207" font-family="Liberation Sans" font-weight="bold" font-size="15.4" fill="#6fbcc4" text-anchor="middle" >Aspheric lens</text>
<text x="145.3" y="225.6" font-family="Liberation Sans" font-weight="bold" font-size="15.4" fill="#6fbcc4" text-anchor="middle" >(NA = 0.77)</text>
<path d="M205.8,216.8 Q233.6,183 261.4,216.8 Z" fill="url(#lensg)" stroke="#9fb9bd" stroke-width="1" filter="url(#sh2)"/>
<text x="340.6" y="208.9" font-family="Liberation Sans" font-weight="bold" font-size="15.4" fill="#3472a3" text-anchor="middle" >4.2 K</text>
<path d="M340.5,228.4 L340.5,213.8 M340.5,222.85 L344.65,218.24 M340.5,222.85 L336.35,218.24 M340.5,218.47 L343.31,215.35 M340.5,218.47 L337.69,215.35 M340.5,228.4 L327.86,221.1 M335.7,225.63 L333.78,219.73 M335.7,225.63 L329.63,226.92 M331.9,223.44 L330.6,219.44 M331.9,223.44 L327.79,224.31 M340.5,228.4 L327.86,235.7 M335.7,231.17 L329.63,229.88 M335.7,231.17 L333.78,237.07 M331.9,233.36 L327.79,232.49 M331.9,233.36 L330.6,237.36 M340.5,228.4 L340.5,243 M340.5,233.95 L336.35,238.56 M340.5,233.95 L344.65,238.56 M340.5,238.33 L337.69,241.45 M340.5,238.33 L343.31,241.45 M340.5,228.4 L353.14,235.7 M345.3,231.17 L347.22,237.07 M345.3,231.17 L351.37,229.88 M349.1,233.36 L350.4,237.36 M349.1,233.36 L353.21,232.49 M340.5,228.4 L353.14,221.1 M345.3,225.63 L351.37,226.92 M345.3,225.63 L347.22,219.73 M349.1,223.44 L353.21,224.31 M349.1,223.44 L350.4,219.44" stroke="#3473a5" stroke-width="2" stroke-linecap="round" fill="none"/>
<circle cx="340.5" cy="228.4" r="2.2" fill="#3473a5"/>
<text x="448.5" y="228.7" font-family="Liberation Sans" font-weight="bold" font-size="17.1" fill="#7f7f7f">Abbreviations:</text>
<text x="448.5" y="250.7" font-family="Liberation Sans" font-weight="bold" font-size="15.75" fill="#7f7f7f">NA: Numerical Aperture</text>
<text x="448.5" y="269.37" font-family="Liberation Sans" font-weight="bold" font-size="15.75" fill="#7f7f7f">R/T: Reflection/Transmission</text>
<text x="448.5" y="288.04" font-family="Liberation Sans" font-weight="bold" font-size="15.75" fill="#7f7f7f">BS: Beam Splitter</text>
<text x="448.5" y="306.71" font-family="Liberation Sans" font-weight="bold" font-size="15.75" fill="#7f7f7f">PBS: Polarizing Beam Splitter</text>
<text x="448.5" y="325.38" font-family="Liberation Sans" font-weight="bold" font-size="15.75" fill="#7f7f7f">LP: Longpass</text>
<text x="448.5" y="344.05" font-family="Liberation Sans" font-weight="bold" font-size="15.75" fill="#7f7f7f">SM: Single-Mode</text>
<text x="448.5" y="362.72" font-family="Liberation Sans" font-weight="bold" font-size="15.75" fill="#7f7f7f">GT: Glan-Thompson Prism</text>
<text x="448.5" y="381.39" font-family="Liberation Sans" font-weight="bold" font-size="15.75" fill="#7f7f7f">VA: Variable Attenuator</text>
<text transform="translate(7.6,428.8) scale(0.92,1)" font-family="Liberation Sans" font-weight="bold" font-size="28.7" fill="#000" stroke="#000" stroke-width="0.6">b</text>
<clipPath id="clipb"><rect x="68.3" y="478.7" width="471.90000000000003" height="287.3"/></clipPath>
<g clip-path="url(#clipb)">
<path d="M68.3,765.56L68.73,765.44 69.16,765.66 69.59,765.91 70.02,765.73 70.44,765.95 70.87,765.53 71.3,765.02 71.73,765.75 72.16,765.8 72.59,765.35 73.02,765.4 73.45,765.5 73.88,765.92 74.31,765.56 74.73,765.27 75.16,766.08 75.59,765.72 76.02,766.3 76.45,766.05 76.88,766.27 77.31,765.63 77.74,766.04 78.17,765.43 78.6,765.47 79.02,765.61 79.45,766.53 79.88,765.74 80.31,765.55 80.74,765.48 81.17,766.14 81.6,765.72 82.03,765.92 82.46,765.85 82.89,765.1 83.31,765.84 83.74,765.53 84.17,765.17 84.6,765.75 85.03,765.56 85.46,765.47 85.89,765.49 86.32,766 86.75,765.48 87.18,764.97 87.6,766.13 88.03,765.17 88.46,765.46 88.89,765.76 89.32,764.71 89.75,765.2 90.18,765.98 90.61,765.48 91.04,765.27 91.47,765.58 91.89,765.23 92.32,765.53 92.75,765.23 93.18,764.93 93.61,765.77 94.04,765.42 94.47,765.68 94.9,765.44 95.33,765.97 95.76,765.72 96.18,765.57 96.61,765.13 97.04,765.03 97.47,766.02 97.9,765.8 98.33,765.23 98.76,766.28 99.19,765.67 99.62,765.52 100.05,764.98 100.47,765.21 100.9,765.61 101.33,765.63 101.76,765.58 102.19,764.87 102.62,765.65 103.05,765.6 103.48,765.33 103.91,765.52 104.34,765.55 104.76,765.92 105.19,765.48 105.62,765.65 106.05,765 106.48,765.21 106.91,765.48 107.34,765.2 107.77,765.6 108.2,765.05 108.63,765.47 109.05,765.23 109.48,765.98 109.91,765.32 110.34,766.13 110.77,766.27 111.2,765.58 111.63,765.81 112.06,765.39 112.49,764.56 112.92,765.78 113.34,765.7 113.77,765.37 114.2,765.25 114.63,765.52 115.06,765.53 115.49,765.17 115.92,765.24 116.35,765.86 116.78,765.48 117.21,765.43 117.63,765.86 118.06,765.34 118.49,765.78 118.92,765.05 119.35,765.36 119.78,765.4 120.21,765.67 120.64,765.48 121.07,766.23 121.5,765.88 121.92,765.29 122.35,766.28 122.78,765.09 123.21,766.12 123.64,765.13 124.07,765.76 124.5,765.12 124.93,765.37 125.36,766.04 125.79,764.93 126.21,764.85 126.64,765.45 127.07,765.53 127.5,765.48 127.93,765.81 128.36,764.98 128.79,765.63 129.22,765.44 129.65,765.73 130.08,765.66 130.5,765.92 130.93,764.91 131.36,765.47 131.79,765.02 132.22,765.4 132.65,765.68 133.08,765.54 133.51,765.63 133.94,765.4 134.37,765.55 134.79,765.52 135.22,765.95 135.65,765.72 136.08,764.74 136.51,765.66 136.94,765.82 137.37,765.26 137.8,764.83 138.23,765.97 138.66,765.48 139.08,765.64 139.51,766.09 139.94,765.1 140.37,765.4 140.8,765.36 141.23,765.69 141.66,765.2 142.09,765.6 142.52,765.44 142.95,765.82 143.37,765.87 143.8,764.85 144.23,765.58 144.66,765.26 145.09,765.39 145.52,765.55 145.95,765.58 146.38,765.12 146.81,765.49 147.24,765.43 147.66,765.36 148.09,764.9 148.52,765.1 148.95,765.22 149.38,765.59 149.81,765.92 150.24,764.99 150.67,764.98 151.1,765.42 151.53,765.15 151.95,765.05 152.38,765.03 152.81,764.99 153.24,765.54 153.67,764.75 154.1,765.85 154.53,765.01 154.96,765.16 155.39,765.01 155.82,764.6 156.24,764.76 156.67,765.81 157.1,766.02 157.53,765.02 157.96,765.75 158.39,765.35 158.82,765.01 159.25,766 159.68,766.18 160.11,765.24 160.53,765.32 160.96,765.44 161.39,765.32 161.82,765.68 162.25,765.94 162.68,765.4 163.11,765.71 163.54,765.97 163.97,765.1 164.4,765.32 164.82,765.12 165.25,765.66 165.68,765.52 166.11,765.65 166.54,765.59 166.97,765.15 167.4,765.53 167.83,765.06 168.26,765.06 168.69,764.38 169.11,765.73 169.54,764.81 169.97,765.18 170.4,765.14 170.83,765.7 171.26,765.3 171.69,764.81 172.12,765.13 172.55,765.05 172.98,765.19 173.4,764.6 173.83,765.06 174.26,765.91 174.69,765.3 175.12,765.8 175.55,766.3 175.98,765.2 176.41,764.45 176.84,764.95 177.27,765.43 177.69,765.32 178.12,764.49 178.55,764.86 178.98,764.9 179.41,764.93 179.84,764.88 180.27,764.56 180.7,764.65 181.13,764.77 181.56,765.26 181.98,764.64 182.41,765.1 182.84,764.38 183.27,765.31 183.7,764.85 184.13,764.79 184.56,765.3 184.99,764.08 185.42,764.17 185.85,764.92 186.27,764.42 186.7,764.57 187.13,765.75 187.56,764.59 187.99,764.71 188.42,764.63 188.85,765.05 189.28,764.66 189.71,764.52 190.14,763.78 190.56,763.75 190.99,763.25 191.42,761.69 191.85,761.3 192.28,759.97 192.71,759.55 193.14,757.79 193.57,758.33 194,759.22 194.43,760.47 194.85,761.79 195.28,762.57 195.71,763.25 196.14,763.46 196.57,763.41 197,762.78 197.43,763.05 197.86,763.16 198.29,763.2 198.72,763.05 199.14,761.94 199.57,762.11 200,761.92 200.43,761.56 200.86,761.06 201.29,759.35 201.72,756.96 202.15,754.41 202.58,749.93 203.01,743.91 203.43,736.12 203.86,727.76 204.29,717.46 204.72,708.19 205.15,699.42 205.58,694.59 206.01,691.99 206.44,692.91 206.87,697.36 207.3,702.52 207.72,707.69 208.15,713.19 208.58,718.7 209.01,722.83 209.44,726.48 209.87,731.23 210.3,734.7 210.73,738.17 211.16,740.43 211.59,743.56 212.01,745.74 212.44,746.79 212.87,749.45 213.3,750.25 213.73,751.51 214.16,753.28 214.59,754.3 215.02,754.74 215.45,756.47 215.88,757.39 216.3,758.34 216.73,758.33 217.16,758.18 217.59,758.71 218.02,759.7 218.45,759.81 218.88,759.74 219.31,759.46 219.74,759.68 220.17,759.55 220.59,759.59 221.02,759.96 221.45,760.05 221.88,760.2 222.31,760.63 222.74,760.73 223.17,760.54 223.6,761.38 224.03,761.9 224.46,762.86 224.88,762.26 225.31,763.37 225.74,763.29 226.17,762.48 226.6,762.61 227.03,763 227.46,763.65 227.89,763.14 228.32,763.28 228.75,762.76 229.17,762.11 229.6,762.92 230.03,763.31 230.46,763.45 230.89,762.99 231.32,763.01 231.75,763.37 232.18,762.82 232.61,763.27 233.04,762.28 233.46,762.18 233.89,762.01 234.32,762.41 234.75,761.73 235.18,761.63 235.61,761.29 236.04,760.75 236.47,760.54 236.9,759.96 237.33,758.42 237.75,758.18 238.18,757.46 238.61,756.7 239.04,757.49 239.47,756.97 239.9,756.62 240.33,756.72 240.76,757.34 241.19,757.16 241.62,757.91 242.04,758.86 242.47,759.08 242.9,758.61 243.33,758.86 243.76,759.81 244.19,758.44 244.62,758.61 245.05,758.17 245.48,758.74 245.91,758.65 246.33,759.02 246.76,757.7 247.19,759.04 247.62,758.68 248.05,760 248.48,760.14 248.91,761.36 249.34,761.32 249.77,761.23 250.2,762.51 250.62,761.93 251.05,762.52 251.48,763.3 251.91,763.28 252.34,763.41 252.77,763.37 253.2,763.66 253.63,763.86 254.06,763.72 254.49,764.07 254.91,764.24 255.34,763.79 255.77,763.47 256.2,764.48 256.63,763.91 257.06,764.22 257.49,764.37 257.92,763.67 258.35,764.24 258.78,763.46 259.2,764.39 259.63,763.94 260.06,764.21 260.49,764.43 260.92,763.91 261.35,764.22 261.78,763.93 262.21,764.2 262.64,764.63 263.07,764.25 263.49,764.19 263.92,763.84 264.35,764.59 264.78,764.25 265.21,764.93 265.64,763.99 266.07,764.68 266.5,764.98 266.93,764.28 267.36,763.82 267.78,764.87 268.21,764.7 268.64,764.57 269.07,764.73 269.5,764.13 269.93,764.6 270.36,764.57 270.79,764.05 271.22,764.59 271.65,764.12 272.07,764.68 272.5,764.78 272.93,765.03 273.36,763.56 273.79,764.43 274.22,764.21 274.65,764.32 275.08,764.24 275.51,764.29 275.94,763.55 276.36,764.73 276.79,764.94 277.22,764.72 277.65,764.85 278.08,764.02 278.51,764 278.94,764.71 279.37,764.88 279.8,764.47 280.23,763.78 280.65,765.45 281.08,764.12 281.51,764.76 281.94,763.92 282.37,764.77 282.8,764.45 283.23,764.94 283.66,764.72 284.09,763.77 284.52,763.97 284.94,764.41 285.37,764.53 285.8,764.83 286.23,764.08 286.66,763.71 287.09,763.43 287.52,763.05 287.95,762.98 288.38,762.02 288.81,761.43 289.23,760.32 289.66,759.56 290.09,759.93 290.52,759.91 290.95,759.54 291.38,759.85 291.81,760.13 292.24,760.15 292.67,760.84 293.1,760.47 293.52,761.03 293.95,761.16 294.38,761.57 294.81,762.02 295.24,762.31 295.67,762.23 296.1,762.53 296.53,762.39 296.96,762.63 297.39,763.32 297.81,762.88 298.24,763.56 298.67,763.38 299.1,763.36 299.53,764.16 299.96,763.39 300.39,763.44 300.82,763.64 301.25,763.82 301.68,763.86 302.1,764.16 302.53,763.93 302.96,764.09 303.39,763.88 303.82,764.44 304.25,763.91 304.68,763.98 305.11,764.13 305.54,764.28 305.97,763.91 306.39,764.82 306.82,764 307.25,764.11 307.68,764.11 308.11,764.09 308.54,764.52 308.97,764.35 309.4,763.98 309.83,764.05 310.26,764.12 310.68,764.79 311.11,763.96 311.54,763.69 311.97,763.73 312.4,764.02 312.83,764.71 313.26,763.7 313.69,764.11 314.12,765.04 314.55,763.86 314.97,764.58 315.4,764.48 315.83,764.19 316.26,763.41 316.69,764.04 317.12,763.76 317.55,763.14 317.98,763.18 318.41,763.83 318.84,763.86 319.26,764.24 319.69,763.99 320.12,763.52 320.55,763.5 320.98,763.59 321.41,763.21 321.84,763.88 322.27,763.57 322.7,763.22 323.13,763.23 323.55,762.99 323.98,763.19 324.41,763.39 324.84,763.01 325.27,763.41 325.7,763.5 326.13,762.41 326.56,762.43 326.99,762.03 327.42,762.58 327.84,761.82 328.27,761.73 328.7,761.69 329.13,762.18 329.56,761.41 329.99,760.98 330.42,761.31 330.85,761.86 331.28,761.8 331.71,761.66 332.13,763.23 332.56,762.31 332.99,762.15 333.42,762.17 333.85,761.81 334.28,762.06 334.71,762.39 335.14,762.38 335.57,762.16 336,762.66 336.42,762.43 336.85,762.02 337.28,761.57 337.71,762.38 338.14,762.29 338.57,762.16 339,761.59 339.43,762.03 339.86,761.32 340.29,762.18 340.71,761.76 341.14,761.65 341.57,761.15 342,760.94 342.43,761.84 342.86,761.5 343.29,760.89 343.72,761.17 344.15,761.41 344.58,760.27 345,760.37 345.43,760.23 345.86,760.43 346.29,759.53 346.72,759.53 347.15,758.14 347.58,757.53 348.01,755.45 348.44,752.32 348.87,749.6 349.29,746.1 349.72,744.09 350.15,743.69 350.58,743.84 351.01,745.44 351.44,746.6 351.87,748.82 352.3,750.17 352.73,750.75 353.16,751.38 353.58,752.35 354.01,753.85 354.44,754.38 354.87,754.33 355.3,755.49 355.73,756.25 356.16,756.17 356.59,756.33 357.02,757.09 357.45,757.62 357.87,757.71 358.3,757.02 358.73,757.71 359.16,757.57 359.59,757.51 360.02,757.42 360.45,757.86 360.88,757.58 361.31,758.17 361.74,758 362.16,758.29 362.59,757.46 363.02,757.94 363.45,758.24 363.88,758.1 364.31,758.06 364.74,757.71 365.17,758.63 365.6,758.41 366.03,758.16 366.45,757 366.88,757.63 367.31,758.06 367.74,757.74 368.17,757.21 368.6,758.12 369.03,758.17 369.46,757.55 369.89,757.83 370.32,757.76 370.74,758.23 371.17,757.27 371.6,757.35 372.03,757.81 372.46,757.76 372.89,758.84 373.32,757.77 373.75,758.1 374.18,757.84 374.61,757.72 375.03,758.09 375.46,758.57 375.89,757.65 376.32,757.93 376.75,757.51 377.18,757.23 377.61,756.69 378.04,756.76 378.47,754.22 378.9,752.9 379.32,750.11 379.75,746.36 380.18,742.51 380.61,737.14 381.04,728.92 381.47,719.2 381.9,706.88 382.33,692.29 382.76,676.44 383.19,656.67 383.61,636.73 384.04,613.99 384.47,591.48 384.9,569.08 385.33,547.65 385.76,528.62 386.19,512.39 386.62,500.52 387.05,492.21 387.48,488.88 387.9,490.29 388.33,494.74 388.76,501.49 389.19,510.31 389.62,518.98 390.05,529.87 390.48,540.57 390.91,551.48 391.34,562.1 391.77,572.87 392.19,583 392.62,593.32 393.05,602.56 393.48,610.61 393.91,620.23 394.34,628.56 394.77,636.1 395.2,643.46 395.63,651.22 396.06,657.51 396.48,663.34 396.91,669.53 397.34,675.18 397.77,679.88 398.2,685.74 398.63,690.12 399.06,694.76 399.49,698.11 399.92,703.39 400.35,706.55 400.77,709.95 401.2,712.72 401.63,715.8 402.06,718.36 402.49,722.25 402.92,723.86 403.35,726.67 403.78,729.06 404.21,730.69 404.64,733.26 405.06,735.58 405.49,736.66 405.92,738.75 406.35,739.96 406.78,741.01 407.21,742.4 407.64,743.18 408.07,745.1 408.5,746.77 408.93,747.53 409.35,748.6 409.78,749.66 410.21,749.89 410.64,751.16 411.07,752.47 411.5,752.15 411.93,753.17 412.36,753.63 412.79,754.35 413.22,754.72 413.64,755.5 414.07,755.54 414.5,756.34 414.93,756.81 415.36,757.23 415.79,758.38 416.22,758.25 416.65,758.64 417.08,758.8 417.51,759.74 417.93,758.85 418.36,759.74 418.79,760.53 419.22,760.99 419.65,760.66 420.08,760.81 420.51,761.25 420.94,761.11 421.37,761.57 421.8,761.26 422.22,761.91 422.65,761.78 423.08,761.51 423.51,761 423.94,762.54 424.37,762.44 424.8,762.69 425.23,762.14 425.66,763 426.09,762.83 426.51,762.73 426.94,763.18 427.37,763.25 427.8,763.12 428.23,763.83 428.66,763.63 429.09,763.28 429.52,763.11 429.95,763.3 430.38,763.98 430.8,763.5 431.23,763.04 431.66,763.18 432.09,763.47 432.52,763.83 432.95,763.26 433.38,763.77 433.81,764.04 434.24,763.92 434.67,763.06 435.09,763.57 435.52,763.22 435.95,763.9 436.38,763.36 436.81,763.99 437.24,763.84 437.67,762.81 438.1,763.51 438.53,764.03 438.96,763.88 439.38,763.74 439.81,763.4 440.24,764.09 440.67,764.61 441.1,764.04 441.53,763.94 441.96,763.91 442.39,763.44 442.82,763.85 443.25,763.67 443.67,764.44 444.1,763.67 444.53,763.19 444.96,763.73 445.39,763.94 445.82,763.99 446.25,763.35 446.68,764.44 447.11,764.13 447.54,763.91 447.96,763.8 448.39,764.28 448.82,763.99 449.25,764.24 449.68,764.09 450.11,764.19 450.54,764.6 450.97,764.16 451.4,763.81 451.83,764.56 452.25,764.27 452.68,763.92 453.11,764.62 453.54,764.13 453.97,764.63 454.4,763.76 454.83,763.29 455.26,763.41 455.69,764.31 456.12,763.93 456.54,764.17 456.97,764.18 457.4,763.61 457.83,764.75 458.26,763.81 458.69,764.25 459.12,763.67 459.55,764.16 459.98,764.5 460.41,764.13 460.83,763.95 461.26,764.23 461.69,764.05 462.12,764.45 462.55,765.1 462.98,763.89 463.41,763.97 463.84,764.19 464.27,764.22 464.7,763.84 465.12,764.44 465.55,764.54 465.98,764.33 466.41,763.78 466.84,764.81 467.27,763.79 467.7,764.52 468.13,764.7 468.56,763.76 468.99,764.3 469.41,764.78 469.84,764.41 470.27,763.9 470.7,763.8 471.13,764.44 471.56,764.11 471.99,763.99 472.42,764.53 472.85,764.14 473.28,764.29 473.7,764.49 474.13,764.48 474.56,764.25 474.99,764.27 475.42,764.51 475.85,764.45 476.28,763.84 476.71,764.2 477.14,763.94 477.57,763.81 477.99,764.06 478.42,763.39 478.85,764.62 479.28,763.97 479.71,764.42 480.14,763.55 480.57,763.61 481,765.06 481.43,764.66 481.86,764.01 482.28,763.95 482.71,763.95 483.14,764.25 483.57,764.02 484,763.91 484.43,764.16 484.86,763.67 485.29,764.92 485.72,763.7 486.15,764.29 486.57,763.42 487,763.8 487.43,763.96 487.86,763.36 488.29,763.78 488.72,763.68 489.15,763.85 489.58,763.16 490.01,762.89 490.44,762.63 490.86,763.06 491.29,762.58 491.72,763 492.15,763.08 492.58,762.86 493.01,762.74 493.44,763.38 493.87,763.43 494.3,763.49 494.73,763.5 495.15,763.99 495.58,763.32 496.01,763.98 496.44,763.72 496.87,764.31 497.3,763.91 497.73,763.96 498.16,764.33 498.59,763.4 499.02,764.09 499.44,763.56 499.87,763.91 500.3,764.57 500.73,764.47 501.16,764.16 501.59,764.31 502.02,764.32 502.45,764.46 502.88,765.07 503.31,764.44 503.73,765.24 504.16,764.21 504.59,764.65 505.02,764.65 505.45,764.45 505.88,764.25 506.31,764.93 506.74,765.06 507.17,764.79 507.6,765.18 508.02,764.75 508.45,763.74 508.88,764.79 509.31,764.11 509.74,764.92 510.17,764.26 510.6,764.5 511.03,764.4 511.46,764.15 511.89,763.68 512.31,764.3 512.74,764.33 513.17,764.77 513.6,764.15 514.03,764.48 514.46,764.05 514.89,764.4 515.32,763.69 515.75,765.18 516.18,764.51 516.6,764.04 517.03,764.53 517.46,764.71 517.89,764.5 518.32,764.94 518.75,764.35 519.18,763.43 519.61,763.94 520.04,764.84 520.47,764.75 520.89,764.56 521.32,764 521.75,764.73 522.18,764.68 522.61,764.05 523.04,764.06 523.47,764.56 523.9,764.85 524.33,765.03 524.76,764.69 525.18,765.3 525.61,764.12 526.04,764.67 526.47,764.22 526.9,763.67 527.33,763.95 527.76,764.88 528.19,764.07 528.62,763.96 529.05,764.72 529.47,764.8 529.9,764.47 530.33,765.06 530.76,763.84 531.19,765.39 531.62,764.87 532.05,764.54 532.48,764.52 532.91,764.37 533.34,764.33 533.76,764.52 534.19,763.98 534.62,765.29 535.05,764.44 535.48,764.72 535.91,764.39 536.34,764.35 536.77,764.81 537.2,764.7 537.63,764.13 538.05,764.31 538.48,764.72 538.91,763.64 539.34,763.53 539.77,765.03 540.2,764.33" fill="none" stroke="#1f77b4" stroke-width="2.2" stroke-linejoin="round"/>
<path d="M376.32,766L376.75,765.75 377.18,766 377.61,765.5 378.04,765.31 378.47,765.43 378.9,765.02 379.32,764.21 379.75,763.31 380.18,762.21 380.61,760.02 381.04,758.09 381.47,754.44 381.9,750.19 382.33,744.88 382.76,738.35 383.19,731.18 383.61,722.22 384.04,712.99 384.47,703.12 384.9,693.14 385.33,683.25 385.76,673.88 386.19,666.47 386.62,660.35 387.05,656.43 387.48,655.17 387.9,655.73 388.33,658.07 388.76,661.25 389.19,664.6 389.62,669.12 390.05,673.62 390.48,678.71 390.91,683.32 391.34,688.2 391.77,692.9 392.19,697.46 392.62,701.8 393.05,705.95 393.48,709.85 393.91,713.37 394.34,717.17 394.77,719.94 395.2,723.42 395.63,726.05 396.06,728.99 396.48,731.55 396.91,733.4 397.34,736.12 397.77,738.4 398.2,740.2 398.63,741.9 399.06,743.03 399.49,745.02 399.92,746.31 400.35,748.09 400.77,749.05 401.2,750.16 401.63,751 402.06,752.58 402.49,753.24 402.92,754.19 403.35,755.3 403.78,755.85 404.21,756.61 404.64,757.73 405.06,757.7 405.49,758.29 405.92,759.04 406.35,759.73 406.78,759.57 407.21,760.27 407.64,760.5 408.07,760.78 408.5,761.56 408.93,761.58 409.35,762.11 409.78,762.35 410.21,762.61 410.64,762.84 411.07,762.81 411.5,763.24 411.93,763.49 412.36,763.7 412.79,763.73 413.22,764.16 413.64,764.21 414.07,764.25 414.5,764.49 414.93,764.5 415.36,764.72 415.79,764.24 416.22,764.48 416.65,764.76 417.08,764.96 417.51,764.53 417.93,765.02 418.36,765.17 418.79,765.15 419.22,765.2 419.65,765.01 420.08,765.37 420.51,764.95 420.94,765.65 421.37,765.34 421.8,765.75 422.22,765.16 422.65,765.67 423.08,765.63 423.51,765.44 423.94,765.4 424.37,765.94 424.8,765.79 425.23,766" fill="none" stroke="#ff7f0e" stroke-width="2.2" stroke-linejoin="round"/>
</g>
<rect x="68.3" y="478.7" width="471.9" height="287.3" fill="none" stroke="#000" stroke-width="1.9"/>
<text x="68.3" y="797.5" font-family="Liberation Serif" font-size="20" text-anchor="middle">770</text>
<text x="154.1" y="797.5" font-family="Liberation Serif" font-size="20" text-anchor="middle">780</text>
<text x="239.9" y="797.5" font-family="Liberation Serif" font-size="20" text-anchor="middle">790</text>
<text x="325.7" y="797.5" font-family="Liberation Serif" font-size="20" text-anchor="middle">800</text>
<text x="411.5" y="797.5" font-family="Liberation Serif" font-size="20" text-anchor="middle">810</text>
<text x="497.3" y="797.5" font-family="Liberation Serif" font-size="20" text-anchor="middle">820</text>
<text x="50.5" y="772.6" font-family="Liberation Serif" font-size="20" text-anchor="end">0</text>
<text x="50.5" y="728.36" font-family="Liberation Serif" font-size="20" text-anchor="end">2</text>
<text x="50.5" y="684.12" font-family="Liberation Serif" font-size="20" text-anchor="end">4</text>
<text x="50.5" y="639.88" font-family="Liberation Serif" font-size="20" text-anchor="end">6</text>
<text x="50.5" y="595.64" font-family="Liberation Serif" font-size="20" text-anchor="end">8</text>
<text x="50.5" y="551.4" font-family="Liberation Serif" font-size="20" text-anchor="end">10</text>
<text x="50.5" y="507.16" font-family="Liberation Serif" font-size="20" text-anchor="end">12</text>
<text x="68.3" y="457.5" font-family="Liberation Sans" font-size="18" text-anchor="middle">1.61</text>
<text x="154.1" y="457.5" font-family="Liberation Sans" font-size="18" text-anchor="middle">1.59</text>
<text x="239.9" y="457.5" font-family="Liberation Sans" font-size="18" text-anchor="middle">1.57</text>
<text x="325.7" y="457.5" font-family="Liberation Sans" font-size="18" text-anchor="middle">1.55</text>
<text x="411.5" y="457.5" font-family="Liberation Sans" font-size="18" text-anchor="middle">1.53</text>
<text x="497.3" y="457.5" font-family="Liberation Sans" font-size="18" text-anchor="middle">1.51</text>
<path d="M68.3,766.0V773.5M154.1,766.0V773.5M239.9,766.0V773.5M325.7,766.0V773.5M411.5,766.0V773.5M497.3,766.0V773.5M68.3,766H60.8M68.3,721.76H60.8M68.3,677.52H60.8M68.3,633.28H60.8M68.3,589.04H60.8M68.3,544.8H60.8M68.3,500.56H60.8M68.3,478.7V471.2M154.1,478.7V471.2M239.9,478.7V471.2M325.7,478.7V471.2M411.5,478.7V471.2M497.3,478.7V471.2" stroke="#000" stroke-width="1.9" fill="none"/>
<text x="304" y="435" font-family="Liberation Sans" font-size="19.5" text-anchor="middle">Energy (meV)</text>
<text x="304" y="825.3" font-family="Liberation Sans" font-size="19.8" text-anchor="middle">Wavelength (nm)</text>
<text transform="translate(15.6,617.2) rotate(-90)" font-family="Liberation Sans" font-size="19.95" text-anchor="middle">Intensity (arb. units)</text>
<line x1="80" y1="498" x2="112.5" y2="498" stroke="#1f77b4" stroke-width="1.9"/>
<line x1="80" y1="520.3" x2="112.5" y2="520.3" stroke="#ff7f0e" stroke-width="1.9"/>
<text x="123.5" y="503.4" font-family="Liberation Sans" font-size="15">Full Spectrum (S1)</text>
<text x="123.5" y="525.4" font-family="Liberation Sans" font-size="15">In SM-fiber (S2)</text>
<clipPath id="clipi"><rect x="138.9" y="544.3" width="179" height="106.8"/></clipPath>
<rect x="138.9" y="544.3" width="179" height="106.8" fill="#fff"/>
<path d="M138.9,647.98L139.23,635.7 139.55,653.51 139.88,642.44 140.2,645.52 140.53,651.92 140.85,647.08 141.18,646.26 141.5,647.99 141.83,634.23 142.15,652.84 142.48,640.87 142.8,640.54 143.13,644.42 143.45,640.28 143.78,636.2 144.1,639.11 144.43,637.28 144.75,635.41 145.08,647.62 145.4,630.64 145.73,626.43 146.05,631.9 146.38,631.22 146.7,641.65 147.03,635.25 147.36,637.78 147.68,636.2 148.01,628.79 148.33,635.99 148.66,632.48 148.98,639.57 149.31,631.48 149.63,629.86 149.96,632.64 150.28,632.12 150.61,620.75 150.93,632.97 151.26,631.72 151.58,630.15 151.91,621.53 152.23,617.37 152.56,623.7 152.88,627.09 153.21,625.29 153.53,619.01 153.86,625.71 154.18,616.38 154.51,615.92 154.83,620.1 155.16,617.43 155.49,616.44 155.81,613.28 156.14,621.79 156.46,613.89 156.79,618.75 157.11,619.68 157.44,616.44 157.76,617.11 158.09,619.6 158.41,622.67 158.74,621.54 159.06,614.28 159.39,613.34 159.71,618.92 160.04,617.87 160.36,624.88 160.69,623.94 161.01,623.26 161.34,629.26 161.66,629.65 161.99,626.05 162.31,628.43 162.64,632.19 162.96,626.81 163.29,629.72 163.62,624.6 163.94,629.08 164.27,630.54 164.59,628.96 164.92,630.44 165.24,632.75 165.57,631.85 165.89,627.18 166.22,627.83 166.54,625.31 166.87,638.27 167.19,632.92 167.52,633.24 167.84,630.93 168.17,633.84 168.49,634.33 168.82,628.91 169.14,631.69 169.47,637.65 169.79,626.8 170.12,628.36 170.44,635.33 170.77,629.25 171.09,636.21 171.42,628.11 171.75,634.11 172.07,636.77 172.4,634.97 172.72,636.79 173.05,632.64 173.37,632.8 173.7,633.5 174.02,636.21 174.35,650.09 174.67,633.5 175,642.44 175.32,632.99 175.65,629.04 175.97,632.76 176.3,635.61 176.62,634.58 176.95,634.28 177.27,636.02 177.6,636.08 177.92,637.48 178.25,628.06 178.57,633.27 178.9,628.9 179.22,634.11 179.55,632.6 179.88,633.56 180.2,630.69 180.53,629.01 180.85,631.48 181.18,635.37 181.5,635.3 181.83,624.27 182.15,632.1 182.48,631.63 182.8,623.71 183.13,624.82 183.45,626.65 183.78,630.01 184.1,618.2 184.43,625.74 184.75,623.81 185.08,625.29 185.4,628.59 185.73,626.8 186.05,619.1 186.38,617.84 186.7,618.64 187.03,620 187.35,618.77 187.68,613.38 188.01,614.6 188.33,606.21 188.66,603.8 188.98,597.96 189.31,600.31 189.63,600.98 189.96,598.97 190.28,600.83 190.61,593.39 190.93,590.27 191.26,586.34 191.58,584.44 191.91,582.09 192.23,580.04 192.56,577.2 192.88,574.11 193.21,573.57 193.53,570.34 193.86,568.25 194.18,563.52 194.51,561.09 194.83,558.74 195.16,557.59 195.48,555.36 195.81,553.98 196.14,552.29 196.46,550.83 196.79,549.83 197.11,550.22 197.44,549.84 197.76,550.13 198.09,550.39 198.41,550.74 198.74,551.64 199.06,551.92 199.39,553.12 199.71,553.65 200.04,554.72 200.36,556 200.69,555.66 201.01,557.09 201.34,556.74 201.66,557.35 201.99,558.91 202.31,559.05 202.64,559.32 202.96,559.99 203.29,560.69 203.61,560.11 203.94,561.16 204.27,561.29 204.59,562.26 204.92,562.32 205.24,563.46 205.57,563.51 205.89,563.61 206.22,564.45 206.54,565.27 206.87,566.18 207.19,565.84 207.52,566.21 207.84,567.12 208.17,567.98 208.49,567.54 208.82,566.63 209.14,569.14 209.47,569.16 209.79,569.73 210.12,572.7 210.44,571.34 210.77,572.71 211.09,571.74 211.42,573.79 211.74,574.94 212.07,575.19 212.4,575.57 212.72,576.92 213.05,577.19 213.37,579.08 213.7,578.77 214.02,578.55 214.35,578.11 214.67,580.02 215,581.15 215.32,580.95 215.65,581.81 215.97,581.83 216.3,583.1 216.62,585.11 216.95,585.39 217.27,586.19 217.6,586.74 217.92,587.57 218.25,589.59 218.57,592.15 218.9,590.92 219.22,593.65 219.55,591.29 219.87,592.1 220.2,595.48 220.53,592.4 220.85,592.79 221.18,594.79 221.5,592.72 221.83,593 222.15,599.32 222.48,595.84 222.8,597.62 223.13,598.26 223.45,597.83 223.78,601.79 224.1,602.18 224.43,603.33 224.75,603.83 225.08,603.02 225.4,606.72 225.73,606.46 226.05,603.28 226.38,605.44 226.7,604.94 227.03,611.25 227.35,609.13 227.68,609.19 228,608.27 228.33,610.56 228.66,607.04 228.98,610.38 229.31,610.79 229.63,611.41 229.96,610 230.28,613.95 230.61,609.67 230.93,612.13 231.26,613.54 231.58,614.36 231.91,613.34 232.23,612.23 232.56,612.91 232.88,615.21 233.21,614.03 233.53,617.01 233.86,613.68 234.18,618.46 234.51,625.99 234.83,614.7 235.16,619.45 235.48,624.46 235.81,621.42 236.13,624.21 236.46,613.75 236.79,619.86 237.11,627.76 237.44,620.3 237.76,624.12 238.09,615.78 238.41,627.25 238.74,632.12 239.06,623.67 239.39,625.58 239.71,626.17 240.04,633.21 240.36,623.54 240.69,618.94 241.01,633.41 241.34,621.5 241.66,628.77 241.99,617.34 242.31,625.36 242.64,628.22 242.96,623.24 243.29,625.93 243.61,630.86 243.94,625.78 244.26,631.18 244.59,636.86 244.92,620.88 245.24,630.86 245.57,631.96 245.89,628 246.22,635.97 246.54,635.11 246.87,631.55 247.19,631.64 247.52,629.17 247.84,624.78 248.17,631.48 248.49,627.44 248.82,626.99 249.14,634.08 249.47,628.58 249.79,633.51 250.12,625.09 250.44,627.66 250.77,629.51 251.09,635.22 251.42,629.12 251.74,632.84 252.07,626.66 252.39,630.14 252.72,633.06 253.05,625.77 253.37,626.64 253.7,632.18 254.02,624.81 254.35,630.96 254.67,631.02 255,629.21 255.32,632.91 255.65,631.61 255.97,630.44 256.3,623.33 256.62,623.47 256.95,630.88 257.27,623.02 257.6,630 257.92,628.22 258.25,626.11 258.57,628.62 258.9,619.68 259.22,628.84 259.55,634.93 259.87,624.39 260.2,631.64 260.52,631.2 260.85,642.55 261.18,625.71 261.5,626.49 261.83,626.59 262.15,625.84 262.48,622.84 262.8,630.19 263.13,626.04 263.45,633.16 263.78,631.52 264.1,625.57 264.43,628.39 264.75,635.69 265.08,628.54 265.4,630.85 265.73,633.55 266.05,628.26 266.38,631.82 266.7,636.77 267.03,634.84 267.35,622.66 267.68,636.57 268,629.22 268.33,627.6 268.65,627.48 268.98,635.39 269.31,631.57 269.63,629.63 269.96,626.84 270.28,632.98 270.61,635.19 270.93,626.02 271.26,625.59 271.58,628.72 271.91,632.88 272.23,628.58 272.56,629.86 272.88,626.78 273.21,635.64 273.53,629.86 273.86,631.04 274.18,635.09 274.51,629.47 274.83,630.22 275.16,632.05 275.48,628.57 275.81,636.21 276.13,630.37 276.46,628.26 276.78,628.83 277.11,625.43 277.44,634.99 277.76,636.22 278.09,628.8 278.41,627.83 278.74,620.78 279.06,627.05 279.39,633.25 279.71,626.14 280.04,633.02 280.36,635.64 280.69,618.43 281.01,627.94 281.34,626.26 281.66,626.84 281.99,621.57 282.31,627.89 282.64,623.95 282.96,633.25 283.29,634.71 283.61,622.92 283.94,622.67 284.26,626.62 284.59,627.75 284.91,627.94 285.24,631.43 285.57,622.15 285.89,625.74 286.22,626.32 286.54,626.8 286.87,623.97 287.19,626.16 287.52,625.11 287.84,632.94 288.17,625.98 288.49,619.03 288.82,629.67 289.14,627.62 289.47,623.05 289.79,622.36 290.12,623.24 290.44,631.58 290.77,622.84 291.09,628.88 291.42,627.01 291.74,621.33 292.07,624.05 292.39,619.48 292.72,610.6 293.04,619.24 293.37,619.35 293.7,625.19 294.02,624.16 294.35,625.6 294.67,623.56 295,625.49 295.32,623.82 295.65,622.08 295.97,624.85 296.3,626.25 296.62,625.94 296.95,619.31 297.27,620.63 297.6,617.08 297.92,616.92 298.25,621.77 298.57,618.35 298.9,626.11 299.22,612.9 299.55,617 299.87,622.3 300.2,625.96 300.52,620.52 300.85,628.98 301.17,625.18 301.5,619.72 301.83,622.4 302.15,624.71 302.48,619.51 302.8,627.18 303.13,622.38 303.45,625.54 303.78,627.08 304.1,622.25 304.43,627.99 304.75,617.02 305.08,626.74 305.4,616.94 305.73,629.04 306.05,622.6 306.38,629.79 306.7,630.52 307.03,624.79 307.35,622.91 307.68,630.76 308,621.19 308.33,629.21 308.65,625.67 308.98,624.83 309.3,624.12 309.63,633.89 309.96,620.2 310.28,624.5 310.61,628.53 310.93,631 311.26,633.77 311.58,632.48 311.91,624.82 312.23,628.46 312.56,631.72 312.88,629.32 313.21,620.88 313.53,628.63 313.86,629.72 314.18,621.89 314.51,625.56 314.83,627.31 315.16,630.03 315.48,633.94 315.81,632.44 316.13,629.67 316.46,628.66 316.78,626.35 317.11,625.6 317.43,627 317.76,627.06 318.09,632.16 318.41,636.93 318.74,630.27 319.06,632.1 319.39,630.92 319.71,629.41 320.04,633.46" fill="none" stroke="#ff7f0e" stroke-width="2.2" stroke-linejoin="round" clip-path="url(#clipi)"/>
<rect x="138.9" y="544.3" width="179" height="106.8" fill="none" stroke="#000" stroke-width="1.9"/>
<text x="138.9" y="682.5" font-family="Liberation Serif" font-size="20" text-anchor="middle">800</text>
<text x="220.2" y="682.5" font-family="Liberation Serif" font-size="20" text-anchor="middle">810</text>
<text x="301.5" y="682.5" font-family="Liberation Serif" font-size="20" text-anchor="middle">820</text>
<path d="M138.9,651.1V658.6M220.2,651.1V658.6M301.5,651.1V658.6M138.9,549.3H131.4M138.9,651.09H131.4M138.9,640.88H134.70000000000002M138.9,634.9H134.70000000000002M138.9,630.66H134.70000000000002M138.9,627.37H134.70000000000002M138.9,624.69H134.70000000000002M138.9,622.42H134.70000000000002M138.9,620.45H134.70000000000002M138.9,618.71H134.70000000000002M138.9,606.95H134.70000000000002M138.9,600.97H134.70000000000002M138.9,596.73H134.70000000000002M138.9,593.44H134.70000000000002M138.9,590.76H134.70000000000002M138.9,588.49H134.70000000000002M138.9,586.52H134.70000000000002M138.9,584.78H134.70000000000002M138.9,573.02H134.70000000000002M138.9,567.04H134.70000000000002M138.9,562.8H134.70000000000002M138.9,559.51H134.70000000000002M138.9,556.83H134.70000000000002M138.9,554.56H134.70000000000002M138.9,552.59H134.70000000000002M138.9,550.85H134.70000000000002" stroke="#000" stroke-width="1.3" fill="none"/>
<path d="M138.9,549.3H131.4M138.9,651.09H131.4" stroke="#000" stroke-width="1.9"/>
<text x="114.7" y="556.8" font-family="Liberation Serif" font-size="20" text-anchor="end">10</text>
<text x="115.5" y="547" font-family="Liberation Serif" font-size="14">0</text>
<text x="98" y="657.2" font-family="Liberation Serif" font-size="20" text-anchor="end">10</text>
<rect x="99" y="641.8" width="11" height="1.2" fill="#000"/>
<text x="111" y="648" font-family="Liberation Serif" font-size="14.5">3</text>
<text transform="translate(576.6,428.9) scale(0.92,1)" font-family="Liberation Sans" font-weight="bold" font-size="28.7" fill="#000" stroke="#000" stroke-width="0.6">c</text>
<path d="M625.3,574.6V564.3h1V563.9h1V566.0h1V564.6h1V564.1h1V564.2h1V561.6h1V559.5h1V565.1h1V563.9h1V564.6h1V563.4h1V566.3h1V560.2h1V565.0h1V564.3h1V564.6h1V560.6h1V562.8h1V564.6h1V559.5h1V559.6h1V560.7h1V557.7h1V561.3h1V561.1h1V554.6h1V556.3h1V556.3h1V553.4h1V552.3h1V555.0h1V544.8h1V550.1h1V552.8h1V551.1h1V545.8h1V542.3h1V548.9h1V543.8h1V539.6h1V540.3h1V538.7h1V530.6h1V529.4h1V531.4h1V537.1h1V531.1h1V533.0h1V522.8h1V519.6h1V514.4h1V509.6h1V505.4h1V495.8h1V487.1h1V500.8h1V503.8h1V502.9h1V504.9h1V520.2h1V515.9h1V528.9h1V531.3h1V529.1h1V530.4h1V532.3h1V536.0h1V538.3h1V549.0h1V541.7h1V547.8h1V548.1h1V550.3h1V545.7h1V547.9h1V552.6h1V554.0h1V556.9h1V557.4h1V554.8h1V558.9h1V552.5h1V550.0h1V561.8h1V561.0h1V557.4h1V556.2h1V561.5h1V558.8h1V560.4h1V559.4h1V558.2h1V564.3h1V562.1h1V560.4h1V564.8h1V564.6h1V561.4h1V560.9h1V563.6h1V565.2h1V567.2h1V564.4h1V564.9h1V564.5h1V566.6h1V563.5h1V563.6h1V566.1h1V565.9h1V565.0h1V564.4h1V557.6h1V562.3h1V565.9h1V565.2h1V563.3h1V562.9h1V565.0h1V565.4h1V564.1h1V561.7h1V564.4h1V564.6h1V566.7h1V563.8h1V561.6h1V559.9h1V561.3h1V558.8h1V561.9h1V559.0h1V556.5h1V559.1h1V559.2h1V557.7h1V557.1h1V559.0h1V558.4h1V553.1h1V555.8h1V549.8h1V553.5h1V554.6h1V553.6h1V550.9h1V551.6h1V550.8h1V550.2h1V543.8h1V545.4h1V546.4h1V545.9h1V540.4h1V539.3h1V533.9h1V533.2h1V529.9h1V528.7h1V518.2h1V521.8h1V516.5h1V513.3h1V508.2h1V505.9h1V490.8h1V488.6h1V498.5h1V499.9h1V506.0h1V523.1h1V525.5h1V522.7h1V532.4h1V525.0h1V533.1h1V534.0h1V540.1h1V536.3h1V536.8h1V542.0h1V542.2h1V547.3h1V549.4h1V547.3h1V548.5h1V555.4h1V551.9h1V540.9h1V554.1h1V559.0h1V554.7h1V552.8h1V560.7h1V560.5h1V561.6h1V562.0h1V554.7h1V562.0h1V558.6h1V562.6h1V562.0h1V560.4h1V562.0h1V563.5h1V561.9h1V566.8h1V563.6h1V562.1h1V564.4h1V566.2h1V561.5h1V567.6h1V565.4h1V567.5h1V567.1h1V562.6h1V568.1h1V566.7h1V566.5h1V568.0h1V568.9h1V567.6h1V568.6h1V569.8h1V567.5h1V567.7h1V566.4h1V568.3h1V569.9h1V567.8h1V568.3h1V568.6h1V557.0h1V569.1h1V569.1h1V567.3h1V570.9h1V568.0h1V569.6h1V567.4h1V568.6h1V569.8h1V568.9h1V569.4h1V568.9h1V570.6h1V566.0h1V571.2h1V568.3h1V570.1h1V567.7h1V569.0h1V568.8h1V570.0h1V569.3h1V565.3h1V565.6h1V570.6h1V569.2h1V568.5h1V569.5h1V568.7h1V569.0h1V568.9h1V570.0h1V570.4h1V564.3h1V571.0h1V569.7h1V568.4h1V562.4h1V569.1h1V568.9h1V566.6h1V568.7h1V570.8h1V569.1h1V571.0h1V568.3h1V570.6h1V569.5h1V568.4h1V571.4h1V571.3h1V570.2h1V567.9h1V569.3h1V571.2h1V569.5h1V570.5h1V570.2h1V568.3h1V569.2h1V570.5h1V569.1h1V568.1h1V568.7h1V569.8h1V571.0h1V568.8h1V567.7h1V568.3h1V568.7h1V568.4h1V570.4h1V568.1h1V569.9h1V570.7h1V567.9h1V568.8h1V568.1h1V567.0h1V570.0h1V568.8h1V569.4h1V569.7h1V568.2h1V568.9h1V570.9h1V563.7h1V548.7h1V567.9h1V567.3h1V568.1h1V566.7h1V568.2h1V568.5h1V568.4h1V568.9h1V567.5h1V566.8h1V565.4h1V568.0h1V566.7h1V565.8h1V564.8h1V565.8h1V563.3h1V566.0h1V568.8h1V569.4h1V564.5h1V563.8h1V567.3h1V566.9h1V565.9h1V561.7h1V561.4h1V565.6h1V561.4h1V564.3h1V563.3h1V563.3h1V560.0h1V562.6h1V560.2h1V556.9h1V559.8h1V555.3h1V560.4h1V558.7h1V549.6h1V555.0h1V556.9h1V553.3h1V551.3h1V551.4h1V552.0h1V553.8h1V548.2h1V544.8h1V542.3h1V542.3h1V540.7h1V540.7h1V533.4h1V537.7h1V541.4h1V534.0h1V534.8h1V524.1h1V505.9h1V523.3h1V512.1h1V512.0h1V508.6h1V490.6h1V492.8h1V501.2h1V502.5h1V507.6h1V496.6h1V517.5h1V529.7h1V518.2h1V530.9h1V535.8h1V531.7h1V531.2h1V533.5h1V545.2h1V539.6h1V542.3h1V547.6h1V549.8h1V551.1h1V548.9h1V546.9h1V551.3h1V553.0h1V543.5h1V556.1h1V556.0h1V556.1h1V552.2h1V558.7h1V554.7h1V560.6h1V554.8h1V560.4h1V560.4h1V561.1h1V565.4h1V561.0h1V560.1h1V563.6h1V560.4h1V565.2h1V564.2h1V566.8h1V564.3h1V566.0h1V564.9h1V564.2h1V566.8h1V566.0h1V565.2h1V564.2h1V564.4h1V565.7h1V566.6h1V566.3h1V566.8h1V566.6h1V566.0h1V568.3h1V565.3h1V568.3h1V565.7h1V566.2h1V565.1h1V565.4h1V563.6h1V565.2h1V561.3h1V566.9h1V563.0h1V564.2h1V567.1h1V563.5h1V564.4h1V561.0h1V564.8h1V561.1h1V563.7h1V561.2h1V563.0h1V554.1h1V561.5h1V561.1h1V555.7h1V553.6h1V555.7h1V558.4h1V557.2h1V553.2h1V555.1h1V548.5h1V552.1h1V552.7h1V553.1h1V545.4h1V547.3h1V541.3h1V540.4h1V536.2h1V532.8h1V536.1h1V531.4h1V532.0h1V530.5h1V524.2h1V523.7h1V517.7h1V508.8h1V505.5h1V518.9h1V501.9h1V492.1h1V488.7h1V489.7h1V514.5h1V516.8h1V510.4h1V514.5h1V524.3h1V529.2h1V535.0h1V532.1h1V536.5h1V538.2h1V529.2h1V538.2h1V545.7h1V547.3h1V545.3h1V548.9h1V550.5h1V548.5h1V551.7h1V553.1h1V551.0h1V553.5h1V551.2h1V553.6h1V557.8h1V555.6h1V557.2h1V555.5h1V562.2h1V563.9h1V560.6h1V556.5h1V557.3h1V563.9h1V564.8h1V556.7h1V557.7h1V552.9h1V561.8h1V559.9h1V565.0h1V564.6h1V565.8h1V559.6h1V565.1h1V565.3h1V566.0h1V565.3h1V563.1h1V566.8h1V564.0h1V564.9h1V567.1h1V574.6Z" fill="#1f77b4" fill-opacity="0.200"/>
<path d="M625.3,574.6V569.4h1V565.7h1V566.5h1V567.1h1V566.6h1V569.0h1V567.1h1V568.5h1V567.0h1V567.5h1V565.9h1V566.6h1V568.1h1V563.7h1V565.7h1V567.7h1V564.8h1V563.3h1V564.2h1V565.8h1V562.7h1V564.7h1V564.9h1V566.7h1V563.0h1V561.5h1V560.5h1V561.4h1V560.6h1V561.6h1V556.2h1V559.5h1V555.4h1V555.8h1V554.0h1V557.4h1V553.0h1V550.8h1V549.2h1V549.0h1V545.7h1V547.1h1V543.7h1V542.4h1V538.9h1V535.9h1V540.7h1V532.7h1V537.4h1V527.3h1V530.8h1V521.2h1V514.6h1V515.7h1V511.7h1V501.0h1V508.4h1V514.3h1V516.9h1V522.5h1V527.2h1V524.5h1V531.1h1V537.5h1V537.7h1V541.3h1V543.7h1V538.6h1V540.0h1V551.0h1V544.5h1V549.3h1V552.1h1V552.6h1V556.1h1V554.3h1V555.9h1V556.4h1V559.3h1V560.4h1V555.8h1V560.3h1V558.4h1V560.7h1V564.5h1V564.2h1V561.1h1V563.7h1V562.4h1V561.0h1V561.3h1V563.5h1V564.6h1V565.4h1V564.2h1V563.5h1V565.6h1V567.1h1V566.4h1V567.0h1V566.4h1V567.7h1V569.9h1V566.2h1V567.6h1V566.8h1V568.0h1V567.1h1V567.0h1V566.4h1V568.4h1V566.1h1V568.3h1V567.3h1V568.0h1V568.4h1V566.1h1V566.8h1V567.4h1V567.1h1V568.5h1V566.3h1V565.5h1V565.6h1V566.3h1V568.2h1V566.5h1V566.8h1V566.3h1V564.2h1V562.9h1V564.3h1V562.8h1V563.4h1V562.4h1V562.7h1V561.1h1V558.7h1V560.8h1V562.1h1V562.9h1V556.6h1V555.2h1V558.2h1V556.8h1V554.7h1V557.6h1V552.9h1V552.2h1V554.4h1V550.3h1V548.0h1V551.9h1V548.4h1V543.8h1V541.9h1V540.9h1V540.7h1V539.1h1V530.4h1V534.2h1V525.4h1V521.3h1V524.3h1V515.7h1V511.4h1V496.7h1V492.6h1V511.0h1V522.3h1V521.6h1V530.2h1V531.4h1V528.6h1V538.0h1V528.2h1V538.1h1V542.6h1V543.5h1V545.4h1V542.7h1V550.1h1V549.8h1V556.2h1V550.4h1V552.6h1V554.2h1V559.2h1V555.1h1V556.4h1V556.3h1V560.4h1V556.5h1V560.3h1V562.7h1V561.4h1V563.2h1V563.1h1V563.8h1V562.5h1V560.5h1V563.6h1V563.7h1V563.0h1V565.3h1V567.0h1V566.3h1V567.1h1V566.9h1V566.3h1V565.3h1V567.4h1V567.2h1V567.8h1V567.6h1V569.1h1V569.7h1V570.4h1V569.7h1V568.5h1V567.5h1V568.7h1V569.7h1V569.4h1V570.1h1V571.2h1V571.2h1V568.9h1V569.0h1V569.3h1V570.9h1V568.7h1V571.6h1V570.5h1V569.0h1V571.1h1V571.3h1V570.6h1V573.2h1V570.3h1V572.0h1V569.5h1V570.0h1V570.6h1V570.7h1V571.5h1V569.8h1V571.2h1V571.0h1V573.0h1V571.3h1V570.9h1V570.6h1V569.9h1V570.7h1V572.2h1V571.4h1V571.3h1V571.0h1V571.3h1V570.8h1V571.9h1V570.8h1V570.8h1V569.5h1V570.7h1V571.3h1V571.6h1V570.8h1V571.9h1V571.4h1V572.1h1V570.1h1V571.4h1V570.8h1V572.0h1V570.3h1V571.5h1V570.9h1V571.4h1V569.9h1V572.5h1V571.0h1V570.9h1V572.8h1V571.7h1V570.8h1V571.0h1V571.7h1V572.3h1V571.7h1V571.5h1V572.3h1V572.3h1V571.2h1V571.1h1V569.3h1V569.8h1V571.0h1V570.2h1V571.7h1V569.4h1V571.1h1V571.7h1V570.1h1V572.5h1V571.5h1V571.1h1V571.2h1V572.8h1V572.0h1V569.9h1V570.9h1V569.7h1V570.3h1V571.1h1V570.6h1V569.8h1V571.1h1V571.0h1V572.3h1V569.8h1V570.6h1V569.1h1V570.4h1V569.2h1V569.4h1V570.4h1V569.0h1V569.5h1V570.6h1V569.1h1V570.1h1V567.9h1V569.1h1V569.6h1V569.8h1V568.5h1V569.2h1V566.9h1V567.5h1V570.1h1V569.8h1V568.0h1V568.8h1V569.5h1V568.0h1V568.8h1V566.7h1V565.3h1V569.3h1V563.9h1V566.0h1V565.6h1V565.2h1V561.9h1V563.4h1V565.4h1V561.5h1V562.2h1V561.3h1V562.3h1V560.8h1V558.4h1V557.3h1V559.8h1V556.3h1V554.0h1V555.3h1V556.7h1V555.3h1V549.6h1V549.5h1V551.2h1V549.0h1V545.1h1V544.9h1V544.3h1V542.0h1V542.5h1V538.2h1V538.0h1V527.0h1V520.4h1V524.5h1V520.9h1V517.1h1V513.3h1V499.1h1V499.8h1V509.1h1V516.6h1V517.7h1V519.4h1V529.3h1V534.5h1V538.5h1V541.7h1V539.1h1V537.0h1V543.3h1V542.2h1V548.2h1V544.2h1V549.5h1V551.7h1V551.7h1V552.7h1V551.5h1V554.9h1V557.0h1V558.5h1V558.9h1V557.3h1V561.6h1V563.5h1V560.3h1V561.6h1V562.6h1V563.3h1V561.6h1V564.8h1V562.0h1V563.4h1V568.0h1V565.2h1V562.6h1V566.4h1V566.3h1V565.6h1V565.1h1V568.6h1V564.8h1V566.9h1V566.7h1V565.8h1V567.9h1V566.4h1V568.9h1V568.3h1V567.9h1V569.5h1V569.8h1V567.8h1V569.6h1V568.1h1V568.0h1V569.5h1V568.0h1V569.6h1V567.0h1V566.9h1V567.8h1V567.7h1V567.6h1V568.8h1V565.5h1V567.7h1V568.3h1V567.0h1V568.4h1V567.1h1V566.0h1V566.6h1V565.1h1V561.3h1V565.8h1V562.0h1V563.7h1V561.5h1V561.8h1V561.9h1V561.2h1V559.9h1V557.6h1V561.5h1V559.1h1V556.4h1V557.9h1V555.4h1V555.5h1V556.8h1V553.7h1V550.8h1V552.4h1V547.6h1V541.9h1V543.4h1V545.6h1V538.8h1V533.5h1V539.2h1V538.0h1V528.6h1V526.5h1V525.7h1V522.8h1V513.9h1V521.4h1V505.5h1V494.9h1V502.3h1V518.5h1V517.1h1V522.8h1V529.1h1V521.5h1V526.1h1V533.8h1V536.8h1V539.5h1V537.8h1V542.0h1V546.5h1V544.5h1V548.7h1V553.8h1V547.9h1V550.7h1V551.9h1V552.8h1V553.8h1V555.3h1V559.2h1V554.6h1V561.0h1V557.0h1V560.4h1V561.8h1V560.1h1V562.4h1V564.8h1V566.2h1V562.6h1V561.9h1V561.9h1V566.8h1V566.6h1V564.1h1V564.5h1V565.9h1V565.8h1V567.2h1V565.6h1V566.1h1V566.6h1V566.2h1V567.3h1V567.6h1V566.8h1V565.9h1V568.2h1V567.8h1V567.3h1V570.5h1V569.4h1V574.6Z" fill="#1f77b4" fill-opacity="0.250"/>
<path d="M625.3,574.6V570.0h1V567.9h1V567.6h1V570.4h1V566.7h1V569.9h1V571.3h1V570.0h1V569.3h1V568.1h1V567.4h1V567.7h1V568.9h1V566.3h1V569.1h1V568.2h1V565.8h1V566.3h1V568.2h1V567.3h1V564.6h1V565.0h1V566.2h1V567.8h1V564.3h1V564.5h1V564.0h1V563.3h1V563.9h1V562.1h1V559.5h1V560.8h1V557.8h1V559.0h1V555.6h1V557.6h1V556.3h1V556.6h1V552.9h1V551.4h1V549.2h1V550.8h1V547.5h1V544.9h1V542.3h1V540.1h1V542.0h1V538.1h1V540.1h1V528.0h1V533.1h1V527.0h1V526.6h1V521.4h1V515.8h1V503.5h1V510.8h1V520.2h1V522.0h1V525.7h1V530.2h1V531.6h1V533.8h1V538.7h1V544.1h1V543.0h1V548.6h1V543.9h1V548.9h1V552.7h1V548.7h1V551.6h1V558.1h1V553.5h1V557.8h1V559.6h1V557.1h1V559.4h1V561.7h1V562.9h1V560.5h1V561.8h1V563.9h1V562.1h1V565.4h1V566.6h1V561.5h1V564.1h1V563.5h1V566.3h1V565.0h1V567.8h1V566.5h1V566.3h1V565.3h1V565.9h1V568.4h1V568.2h1V570.8h1V567.9h1V570.2h1V568.4h1V570.5h1V568.2h1V568.1h1V569.0h1V568.9h1V569.5h1V567.9h1V570.2h1V569.7h1V567.5h1V570.1h1V568.6h1V570.2h1V571.0h1V568.9h1V569.3h1V568.8h1V568.4h1V569.4h1V567.9h1V567.4h1V568.1h1V568.5h1V568.6h1V567.0h1V567.1h1V568.3h1V565.3h1V564.8h1V566.0h1V564.4h1V564.3h1V563.2h1V564.1h1V561.9h1V562.7h1V563.8h1V565.1h1V563.2h1V558.4h1V558.1h1V560.6h1V558.6h1V558.0h1V560.0h1V560.3h1V560.7h1V557.6h1V552.8h1V552.7h1V554.8h1V550.5h1V545.4h1V547.9h1V542.9h1V544.2h1V546.3h1V535.0h1V534.9h1V532.4h1V522.5h1V528.2h1V517.6h1V512.1h1V500.0h1V500.3h1V512.4h1V526.8h1V529.0h1V532.1h1V532.7h1V532.4h1V542.3h1V535.6h1V542.1h1V545.0h1V545.1h1V549.3h1V546.7h1V555.4h1V552.2h1V557.9h1V553.8h1V554.3h1V558.8h1V560.7h1V560.8h1V557.4h1V564.2h1V560.8h1V557.6h1V561.4h1V566.9h1V565.5h1V567.7h1V566.0h1V566.3h1V564.4h1V566.1h1V567.0h1V565.2h1V564.1h1V566.7h1V568.1h1V569.0h1V569.2h1V569.0h1V568.5h1V566.1h1V569.3h1V568.7h1V568.8h1V569.3h1V569.2h1V570.6h1V570.5h1V571.0h1V572.3h1V571.1h1V569.8h1V570.9h1V570.4h1V570.3h1V572.0h1V571.6h1V569.6h1V570.3h1V571.4h1V571.8h1V571.1h1V572.3h1V572.8h1V570.8h1V571.3h1V573.7h1V570.8h1V574.0h1V570.6h1V572.5h1V570.0h1V572.9h1V571.6h1V571.4h1V572.0h1V572.1h1V571.9h1V572.2h1V573.0h1V571.9h1V571.9h1V571.0h1V571.9h1V571.8h1V573.0h1V573.4h1V572.9h1V571.4h1V571.9h1V573.3h1V572.4h1V572.4h1V571.7h1V571.4h1V572.0h1V572.7h1V572.2h1V571.4h1V572.8h1V572.6h1V572.4h1V570.4h1V572.4h1V571.7h1V572.6h1V571.6h1V572.0h1V571.6h1V571.6h1V570.3h1V573.3h1V572.4h1V571.8h1V573.0h1V573.1h1V571.2h1V572.2h1V571.9h1V572.5h1V572.2h1V572.1h1V573.2h1V573.4h1V572.0h1V572.2h1V570.6h1V570.8h1V571.7h1V571.0h1V572.4h1V570.5h1V572.4h1V572.8h1V571.6h1V573.0h1V572.5h1V571.7h1V571.6h1V573.2h1V572.4h1V572.0h1V572.0h1V570.6h1V571.7h1V571.9h1V571.1h1V571.5h1V571.7h1V571.5h1V572.7h1V571.3h1V571.4h1V571.4h1V571.6h1V570.3h1V570.5h1V571.2h1V569.9h1V570.6h1V570.9h1V570.4h1V571.9h1V568.7h1V570.5h1V571.6h1V570.9h1V569.7h1V571.6h1V571.0h1V569.6h1V570.3h1V571.7h1V568.6h1V568.9h1V570.6h1V568.6h1V571.0h1V569.8h1V567.4h1V569.8h1V566.1h1V569.2h1V567.9h1V565.9h1V566.3h1V564.6h1V566.5h1V565.4h1V565.8h1V563.2h1V566.4h1V564.6h1V561.3h1V560.1h1V563.3h1V559.9h1V555.9h1V556.3h1V559.1h1V556.9h1V553.5h1V551.3h1V552.5h1V550.7h1V550.3h1V548.7h1V548.9h1V547.4h1V545.1h1V540.7h1V540.9h1V530.6h1V533.4h1V528.7h1V525.4h1V519.0h1V519.7h1V502.9h1V506.8h1V510.9h1V522.4h1V524.7h1V527.1h1V530.4h1V535.0h1V542.6h1V543.1h1V542.2h1V542.6h1V547.5h1V545.0h1V552.1h1V550.5h1V552.5h1V553.6h1V555.4h1V556.0h1V554.6h1V559.3h1V557.9h1V561.2h1V560.4h1V561.9h1V563.8h1V564.1h1V562.6h1V563.0h1V565.6h1V563.4h1V566.1h1V565.9h1V565.8h1V565.7h1V568.3h1V566.7h1V564.1h1V567.7h1V569.8h1V566.8h1V567.8h1V568.7h1V566.0h1V567.9h1V567.7h1V566.8h1V568.6h1V569.4h1V569.3h1V570.1h1V569.0h1V571.3h1V571.1h1V570.7h1V570.7h1V569.8h1V568.7h1V570.1h1V569.1h1V569.8h1V568.0h1V568.5h1V569.1h1V568.3h1V568.6h1V569.5h1V567.2h1V568.9h1V569.4h1V568.7h1V569.1h1V568.3h1V566.5h1V567.7h1V566.7h1V565.5h1V566.6h1V563.7h1V564.5h1V564.9h1V566.1h1V564.4h1V562.6h1V561.5h1V560.0h1V563.0h1V563.0h1V558.0h1V559.0h1V558.1h1V556.8h1V557.8h1V555.8h1V551.0h1V552.8h1V551.3h1V549.0h1V550.3h1V547.8h1V545.2h1V540.2h1V541.6h1V540.2h1V532.9h1V537.8h1V535.4h1V528.3h1V518.6h1V523.7h1V508.0h1V499.2h1V507.0h1V522.3h1V523.4h1V529.6h1V533.6h1V533.5h1V532.0h1V535.5h1V539.2h1V542.1h1V539.1h1V547.7h1V550.8h1V546.4h1V552.6h1V554.8h1V548.5h1V551.1h1V553.4h1V554.5h1V556.4h1V557.4h1V560.4h1V564.2h1V561.5h1V561.6h1V563.8h1V563.8h1V564.1h1V564.2h1V565.4h1V567.4h1V565.3h1V562.5h1V565.6h1V567.4h1V567.1h1V566.1h1V566.9h1V568.0h1V566.6h1V568.7h1V566.9h1V567.4h1V568.7h1V566.9h1V567.9h1V568.0h1V568.4h1V568.1h1V570.4h1V569.2h1V567.8h1V571.5h1V570.2h1V574.6Z" fill="#1f77b4" fill-opacity="0.333"/>
<path d="M625.3,574.6V571.6h1V569.5h1V570.2h1V571.7h1V569.7h1V571.5h1V571.6h1V571.2h1V570.4h1V569.0h1V570.9h1V569.5h1V570.2h1V570.7h1V569.4h1V570.3h1V569.5h1V567.7h1V568.7h1V569.2h1V566.2h1V567.6h1V572.1h1V569.6h1V567.5h1V565.7h1V564.9h1V564.6h1V566.2h1V562.9h1V559.6h1V564.0h1V560.5h1V560.8h1V558.5h1V560.2h1V558.1h1V560.2h1V554.5h1V553.8h1V553.6h1V552.7h1V549.8h1V549.4h1V544.8h1V541.1h1V548.6h1V546.2h1V544.6h1V538.0h1V535.5h1V532.4h1V529.2h1V523.8h1V519.7h1V505.6h1V511.9h1V523.8h1V526.4h1V527.6h1V532.8h1V534.7h1V537.9h1V548.4h1V545.9h1V545.8h1V551.6h1V549.7h1V551.9h1V553.6h1V549.4h1V553.9h1V560.2h1V554.3h1V558.8h1V561.5h1V558.8h1V564.1h1V562.7h1V564.0h1V562.3h1V562.2h1V564.6h1V563.3h1V567.3h1V568.1h1V567.5h1V566.1h1V565.7h1V568.6h1V568.1h1V568.1h1V568.9h1V567.7h1V567.0h1V567.4h1V571.6h1V570.0h1V571.8h1V570.3h1V570.7h1V569.3h1V571.0h1V569.8h1V569.1h1V570.8h1V571.7h1V570.0h1V570.1h1V572.6h1V570.1h1V570.5h1V570.9h1V570.3h1V571.0h1V571.9h1V570.9h1V572.0h1V569.3h1V570.0h1V570.8h1V569.3h1V569.9h1V568.6h1V570.1h1V569.4h1V569.2h1V567.9h1V569.1h1V567.1h1V566.9h1V569.2h1V567.4h1V564.8h1V567.0h1V564.7h1V563.4h1V564.2h1V565.4h1V569.1h1V564.8h1V560.6h1V560.2h1V563.2h1V561.5h1V563.5h1V560.2h1V566.8h1V562.7h1V559.9h1V557.6h1V553.6h1V557.2h1V553.1h1V547.9h1V549.3h1V544.3h1V548.3h1V547.2h1V539.1h1V542.0h1V540.6h1V527.0h1V532.1h1V522.8h1V520.5h1V508.0h1V508.8h1V518.8h1V530.1h1V534.9h1V536.2h1V534.6h1V538.4h1V545.6h1V545.6h1V546.6h1V549.7h1V549.7h1V551.9h1V550.0h1V556.2h1V555.2h1V558.4h1V557.4h1V557.3h1V563.7h1V561.6h1V563.0h1V560.5h1V565.0h1V564.7h1V564.1h1V564.5h1V568.2h1V568.9h1V569.5h1V570.0h1V567.2h1V565.2h1V567.4h1V568.9h1V565.9h1V568.5h1V567.7h1V569.4h1V570.1h1V571.1h1V570.0h1V569.4h1V568.1h1V570.2h1V570.5h1V570.8h1V569.6h1V570.6h1V571.3h1V572.4h1V572.4h1V572.7h1V571.5h1V571.0h1V571.7h1V571.9h1V571.9h1V573.1h1V572.3h1V569.9h1V570.6h1V572.7h1V573.0h1V571.5h1V572.7h1V573.6h1V571.4h1V571.7h1V573.9h1V573.9h1V574.4h1V572.5h1V573.5h1V570.2h1V573.2h1V572.3h1V572.3h1V572.3h1V572.5h1V572.2h1V573.3h1V574.1h1V573.0h1V572.0h1V572.0h1V572.4h1V572.6h1V573.3h1V574.6h1V574.6h1V572.1h1V573.0h1V573.9h1V573.1h1V573.6h1V572.5h1V573.2h1V573.7h1V573.2h1V574.6h1V573.3h1V573.6h1V573.5h1V573.2h1V572.0h1V573.5h1V572.7h1V572.9h1V572.7h1V572.6h1V572.6h1V574.6h1V572.2h1V574.5h1V573.0h1V573.4h1V573.4h1V574.0h1V572.6h1V572.4h1V572.2h1V573.5h1V573.8h1V572.4h1V573.7h1V574.4h1V572.7h1V573.1h1V570.9h1V571.3h1V573.2h1V572.6h1V572.9h1V573.2h1V573.4h1V573.6h1V572.5h1V573.0h1V574.2h1V573.1h1V572.4h1V574.0h1V572.8h1V572.6h1V573.3h1V572.2h1V572.1h1V572.5h1V571.6h1V571.8h1V572.1h1V573.2h1V573.1h1V572.7h1V573.0h1V572.0h1V572.3h1V571.1h1V571.1h1V572.0h1V571.7h1V572.2h1V571.0h1V572.1h1V572.9h1V571.5h1V571.6h1V572.7h1V572.8h1V570.1h1V572.5h1V572.7h1V570.2h1V571.9h1V573.2h1V571.1h1V570.0h1V571.0h1V571.1h1V573.7h1V571.4h1V569.1h1V570.1h1V567.4h1V570.0h1V571.1h1V566.8h1V569.1h1V567.4h1V569.3h1V566.4h1V567.4h1V569.0h1V566.6h1V566.1h1V565.7h1V563.1h1V564.3h1V562.2h1V558.9h1V560.2h1V560.1h1V557.8h1V555.5h1V555.4h1V553.9h1V555.6h1V555.5h1V551.7h1V551.3h1V548.7h1V547.3h1V545.9h1V541.3h1V537.7h1V540.0h1V530.5h1V529.0h1V521.1h1V524.7h1V507.7h1V511.4h1V520.2h1V529.5h1V526.8h1V531.3h1V537.0h1V536.1h1V543.8h1V549.1h1V544.9h1V543.9h1V550.2h1V550.0h1V553.4h1V551.6h1V555.3h1V558.3h1V557.7h1V556.4h1V555.6h1V561.4h1V562.0h1V561.4h1V562.1h1V563.2h1V565.1h1V564.7h1V564.1h1V566.7h1V569.4h1V566.0h1V567.6h1V566.2h1V568.0h1V567.1h1V570.2h1V570.4h1V567.2h1V567.9h1V571.5h1V569.3h1V571.2h1V572.6h1V569.5h1V568.7h1V569.4h1V570.3h1V570.1h1V570.0h1V570.1h1V572.1h1V570.6h1V571.6h1V571.8h1V571.4h1V572.4h1V570.9h1V571.6h1V572.7h1V570.7h1V571.2h1V571.7h1V569.9h1V570.9h1V568.9h1V570.1h1V571.0h1V568.8h1V571.5h1V570.1h1V568.7h1V569.9h1V569.0h1V566.9h1V569.8h1V568.1h1V567.1h1V567.7h1V566.3h1V564.8h1V567.1h1V568.3h1V566.2h1V565.1h1V563.0h1V561.9h1V565.4h1V563.7h1V562.0h1V561.2h1V561.3h1V557.3h1V558.3h1V558.4h1V553.8h1V556.3h1V556.5h1V556.9h1V551.2h1V551.4h1V547.7h1V542.8h1V544.4h1V543.8h1V536.7h1V540.8h1V536.9h1V532.4h1V526.1h1V526.1h1V515.0h1V504.9h1V514.2h1V528.7h1V524.2h1V534.6h1V537.2h1V534.3h1V535.2h1V544.3h1V544.7h1V547.1h1V550.0h1V551.3h1V551.9h1V551.0h1V555.4h1V555.5h1V551.4h1V554.9h1V556.8h1V555.4h1V557.8h1V559.7h1V563.1h1V566.3h1V564.3h1V564.4h1V565.5h1V564.9h1V565.5h1V566.2h1V565.9h1V568.0h1V565.8h1V564.1h1V566.3h1V568.2h1V569.7h1V568.1h1V567.3h1V569.3h1V569.2h1V569.9h1V569.1h1V568.4h1V569.6h1V568.3h1V569.9h1V568.5h1V569.7h1V570.6h1V572.2h1V570.2h1V570.0h1V572.7h1V572.2h1V574.6Z" fill="#1f77b4" fill-opacity="0.500"/>
<path d="M625.3,574.6V572.6h1V570.4h1V572.6h1V573.2h1V571.9h1V573.7h1V572.3h1V572.8h1V573.1h1V570.1h1V574.6h1V571.5h1V571.0h1V574.6h1V571.9h1V572.6h1V570.3h1V569.9h1V571.4h1V572.2h1V567.4h1V571.0h1V573.9h1V571.2h1V569.6h1V570.4h1V566.4h1V566.3h1V568.3h1V567.0h1V563.8h1V565.4h1V562.0h1V572.1h1V560.9h1V565.4h1V560.9h1V562.5h1V555.6h1V559.6h1V556.3h1V553.4h1V555.3h1V553.0h1V546.6h1V542.5h1V550.5h1V548.7h1V548.5h1V539.6h1V541.3h1V539.7h1V532.6h1V530.8h1V521.4h1V512.1h1V513.9h1V527.8h1V533.5h1V534.8h1V539.8h1V537.1h1V544.2h1V555.1h1V553.6h1V548.9h1V554.2h1V553.4h1V555.6h1V556.2h1V552.3h1V562.2h1V565.3h1V558.0h1V559.5h1V565.9h1V564.0h1V567.1h1V565.3h1V566.0h1V564.5h1V563.9h1V568.1h1V565.8h1V570.3h1V571.5h1V569.6h1V568.4h1V567.2h1V569.7h1V571.8h1V570.0h1V571.6h1V570.5h1V570.9h1V570.3h1V572.9h1V572.0h1V574.1h1V572.1h1V572.6h1V571.1h1V571.4h1V571.4h1V570.3h1V574.1h1V573.1h1V571.1h1V571.9h1V574.4h1V571.9h1V570.8h1V571.6h1V573.0h1V572.9h1V572.9h1V571.9h1V574.6h1V570.5h1V572.0h1V572.6h1V571.4h1V571.5h1V571.9h1V571.8h1V571.1h1V573.3h1V569.5h1V570.2h1V568.7h1V570.0h1V571.8h1V570.7h1V570.3h1V568.4h1V568.5h1V565.5h1V565.3h1V567.0h1V571.2h1V568.3h1V566.0h1V566.0h1V565.2h1V565.4h1V569.4h1V561.0h1V567.7h1V564.0h1V562.0h1V558.7h1V556.1h1V557.8h1V557.5h1V550.4h1V550.1h1V548.0h1V554.3h1V551.5h1V541.0h1V543.1h1V546.3h1V535.1h1V537.4h1V531.1h1V525.0h1V523.6h1V517.3h1V522.5h1V533.0h1V539.7h1V543.9h1V543.4h1V546.1h1V550.1h1V548.2h1V556.7h1V552.3h1V553.5h1V559.3h1V551.8h1V559.1h1V560.6h1V565.4h1V561.6h1V558.1h1V565.7h1V564.4h1V566.1h1V561.7h1V567.1h1V568.3h1V564.8h1V566.8h1V569.5h1V572.4h1V569.8h1V570.4h1V568.2h1V569.8h1V569.4h1V572.6h1V568.6h1V572.0h1V569.8h1V571.0h1V572.3h1V572.2h1V571.5h1V573.5h1V571.1h1V571.2h1V570.9h1V572.5h1V570.5h1V571.3h1V572.9h1V573.4h1V573.4h1V574.6h1V573.6h1V572.5h1V573.0h1V572.9h1V572.0h1V573.4h1V574.0h1V573.4h1V572.1h1V573.9h1V573.8h1V573.1h1V573.6h1V574.6h1V574.2h1V573.8h1V574.6h1V574.1h1V574.6h1V572.9h1V574.6h1V571.5h1V574.5h1V574.4h1V573.7h1V573.7h1V573.9h1V574.6h1V574.6h1V574.6h1V573.5h1V573.2h1V572.8h1V574.2h1V574.0h1V574.6h1V574.6h1V574.6h1V572.9h1V574.1h1V574.6h1V574.6h1V574.6h1V573.6h1V574.6h1V574.6h1V573.8h1V574.6h1V573.9h1V574.6h1V574.6h1V574.2h1V574.2h1V574.6h1V574.6h1V573.0h1V574.3h1V573.7h1V573.9h1V574.6h1V574.3h1V574.6h1V573.9h1V574.3h1V574.6h1V574.6h1V573.2h1V572.9h1V574.6h1V574.6h1V574.3h1V573.1h1V574.6h1V574.6h1V574.1h1V574.3h1V571.7h1V571.8h1V573.7h1V573.2h1V574.6h1V574.6h1V574.6h1V574.6h1V574.6h1V573.7h1V574.6h1V574.3h1V573.0h1V574.6h1V573.4h1V573.3h1V574.6h1V574.4h1V572.8h1V573.2h1V574.6h1V571.9h1V572.7h1V574.2h1V574.6h1V574.6h1V573.3h1V574.0h1V574.2h1V573.7h1V573.0h1V574.5h1V572.2h1V573.2h1V572.2h1V574.6h1V573.6h1V574.3h1V573.2h1V574.0h1V573.4h1V570.6h1V574.6h1V573.3h1V570.9h1V572.2h1V574.4h1V573.2h1V572.1h1V572.4h1V571.7h1V574.4h1V573.5h1V571.1h1V572.0h1V570.0h1V570.6h1V572.8h1V570.3h1V571.5h1V569.8h1V571.9h1V567.6h1V570.5h1V571.2h1V569.4h1V568.0h1V568.5h1V565.1h1V566.0h1V563.5h1V562.5h1V562.7h1V564.1h1V561.3h1V560.4h1V560.0h1V555.6h1V556.3h1V556.9h1V559.8h1V552.0h1V558.1h1V548.6h1V548.8h1V546.1h1V540.5h1V540.7h1V533.7h1V539.6h1V531.6h1V536.0h1V514.1h1V512.8h1V526.1h1V532.1h1V530.5h1V534.5h1V541.5h1V547.3h1V545.0h1V551.5h1V546.9h1V550.1h1V555.2h1V553.8h1V554.5h1V560.2h1V556.0h1V560.3h1V561.4h1V563.6h1V563.6h1V563.6h1V564.2h1V564.1h1V563.2h1V567.0h1V565.6h1V565.3h1V566.9h1V570.1h1V569.7h1V568.2h1V569.2h1V567.7h1V569.1h1V569.0h1V572.4h1V572.5h1V573.9h1V569.4h1V571.8h1V570.4h1V572.0h1V574.5h1V570.6h1V572.9h1V573.5h1V572.4h1V573.5h1V570.7h1V571.1h1V574.0h1V573.4h1V573.1h1V573.2h1V572.9h1V573.7h1V571.9h1V572.4h1V573.2h1V573.3h1V572.4h1V573.8h1V570.9h1V574.3h1V570.7h1V572.1h1V573.6h1V572.1h1V571.8h1V572.3h1V573.6h1V571.8h1V570.9h1V569.5h1V574.6h1V569.9h1V570.7h1V568.8h1V568.1h1V569.5h1V568.2h1V569.5h1V567.2h1V566.4h1V566.8h1V564.7h1V566.5h1V567.2h1V564.2h1V563.4h1V563.0h1V560.6h1V562.6h1V560.6h1V557.2h1V565.3h1V559.1h1V559.1h1V555.3h1V552.5h1V551.6h1V546.5h1V545.6h1V545.1h1V542.1h1V544.3h1V541.1h1V540.0h1V531.5h1V530.4h1V518.2h1V515.0h1V519.2h1V531.6h1V534.0h1V546.0h1V543.3h1V547.2h1V542.2h1V550.0h1V553.0h1V550.4h1V561.0h1V554.6h1V559.2h1V555.8h1V556.5h1V559.0h1V559.6h1V558.6h1V564.3h1V560.2h1V558.3h1V565.0h1V563.3h1V567.8h1V567.8h1V565.0h1V570.2h1V565.6h1V565.9h1V568.3h1V567.0h1V569.0h1V567.0h1V564.8h1V568.4h1V569.0h1V571.2h1V571.2h1V570.7h1V572.6h1V571.7h1V570.4h1V570.6h1V569.7h1V571.6h1V568.9h1V571.6h1V571.3h1V571.1h1V571.8h1V573.4h1V571.4h1V574.0h1V573.2h1V572.7h1V574.6Z" fill="#1f77b4"/>
<path d="M625.3,670.3V588.7h1V598.6h1V610.3h1V616.2h1V622.4h1V628.5h1V631.8h1V636.4h1V638.3h1V640.7h1V644.3h1V646.3h1V648.5h1V647.1h1V653.6h1V654.5h1V656.1h1V655.8h1V656.4h1V659.4h1V658.0h1V658.6h1V660.7h1V660.5h1V661.4h1V661.3h1V660.9h1V662.2h1V660.7h1V660.4h1V659.9h1V661.8h1V661.3h1V661.2h1V659.6h1V657.0h1V656.0h1V657.4h1V656.5h1V653.6h1V653.1h1V652.1h1V651.0h1V647.1h1V645.2h1V645.9h1V638.7h1V636.9h1V629.7h1V628.5h1V626.0h1V620.4h1V612.7h1V610.2h1V592.8h1V588.6h1V594.8h1V603.1h1V611.8h1V615.3h1V622.3h1V629.5h1V632.4h1V636.5h1V641.0h1V643.1h1V643.7h1V649.0h1V650.5h1V650.6h1V652.0h1V652.6h1V656.0h1V657.5h1V656.6h1V658.1h1V660.5h1V661.5h1V661.4h1V660.9h1V660.7h1V660.2h1V662.3h1V662.3h1V662.0h1V660.7h1V660.8h1V660.9h1V661.1h1V659.6h1V659.2h1V658.9h1V656.2h1V655.7h1V654.1h1V653.7h1V653.8h1V651.2h1V650.9h1V646.9h1V643.1h1V639.8h1V637.7h1V636.2h1V630.5h1V626.3h1V622.0h1V618.7h1V610.2h1V599.8h1V590.7h1V588.0h1V599.0h1V607.3h1V613.4h1V616.9h1V626.2h1V630.3h1V632.6h1V636.8h1V639.7h1V645.0h1V647.5h1V649.0h1V650.8h1V650.2h1V652.9h1V654.4h1V657.2h1V657.9h1V658.8h1V659.4h1V659.0h1V659.9h1V661.5h1V661.2h1V661.4h1V660.2h1V661.5h1V660.0h1V659.9h1V661.4h1V660.3h1V660.3h1V659.0h1V661.4h1V658.8h1V660.1h1V657.8h1V653.7h1V655.6h1V653.6h1V650.4h1V647.5h1V647.0h1V644.4h1V645.2h1V638.3h1V635.1h1V635.4h1V627.0h1V625.9h1V623.2h1V612.3h1V610.7h1V595.0h1V587.1h1V592.0h1V602.7h1V609.9h1V619.1h1V622.6h1V622.5h1V631.4h1V635.4h1V640.2h1V641.8h1V644.3h1V645.0h1V650.2h1V646.9h1V654.5h1V654.5h1V654.1h1V655.7h1V655.8h1V659.0h1V660.1h1V659.4h1V660.7h1V660.3h1V661.8h1V659.8h1V662.0h1V661.5h1V660.6h1V659.0h1V661.3h1V659.1h1V660.7h1V659.7h1V660.1h1V659.0h1V656.3h1V655.5h1V656.1h1V650.8h1V653.0h1V652.2h1V648.2h1V649.5h1V645.5h1V643.0h1V640.0h1V636.2h1V631.9h1V627.7h1V622.4h1V620.2h1V613.6h1V602.9h1V596.1h1V586.0h1V591.3h1V603.0h1V609.6h1V621.4h1V625.3h1V629.8h1V633.9h1V638.5h1V638.5h1V643.0h1V646.3h1V646.2h1V648.0h1V651.9h1V655.2h1V654.5h1V655.5h1V659.0h1V659.7h1V661.1h1V661.5h1V662.5h1V663.1h1V662.4h1V663.6h1V664.3h1V664.8h1V665.2h1V665.8h1V665.8h1V665.1h1V666.7h1V665.9h1V666.4h1V666.6h1V667.1h1V667.1h1V667.3h1V668.1h1V667.9h1V668.3h1V668.1h1V667.7h1V668.1h1V668.0h1V667.3h1V667.8h1V667.7h1V668.2h1V667.0h1V666.9h1V667.0h1V665.9h1V664.7h1V663.8h1V664.8h1V665.9h1V666.2h1V666.5h1V666.6h1V667.1h1V667.9h1V667.9h1V667.8h1V667.8h1V666.8h1V668.3h1V667.9h1V668.3h1V667.6h1V667.9h1V667.5h1V667.8h1V667.6h1V667.4h1V667.4h1V666.6h1V666.1h1V666.7h1V666.5h1V666.0h1V666.1h1V665.4h1V664.0h1V663.9h1V663.3h1V662.7h1V661.8h1V661.7h1V660.6h1V659.3h1V660.4h1V657.9h1V655.4h1V655.5h1V653.5h1V650.9h1V650.2h1V648.6h1V646.1h1V644.5h1V640.8h1V637.3h1V633.4h1V633.5h1V625.7h1V621.4h1V615.0h1V602.1h1V597.3h1V589.6h1V590.7h1V604.9h1V611.0h1V620.8h1V624.0h1V628.6h1V631.8h1V636.7h1V641.1h1V644.0h1V643.4h1V647.4h1V649.0h1V650.4h1V655.1h1V655.6h1V654.4h1V655.7h1V656.1h1V659.9h1V658.7h1V659.9h1V659.6h1V661.3h1V660.4h1V660.8h1V661.4h1V662.4h1V662.4h1V661.6h1V661.3h1V661.3h1V659.5h1V659.8h1V657.6h1V658.5h1V654.6h1V656.9h1V655.0h1V654.6h1V654.9h1V651.7h1V648.0h1V645.3h1V646.9h1V640.6h1V637.8h1V636.6h1V631.5h1V629.0h1V621.1h1V618.6h1V614.0h1V602.8h1V592.4h1V587.0h1V599.5h1V608.8h1V614.5h1V619.0h1V624.7h1V631.2h1V634.5h1V636.6h1V638.7h1V645.3h1V643.3h1V648.4h1V648.8h1V650.0h1V654.6h1V653.6h1V653.9h1V656.7h1V658.9h1V658.5h1V659.4h1V659.5h1V661.1h1V660.1h1V662.3h1V661.2h1V662.2h1V659.9h1V662.3h1V661.7h1V660.8h1V661.0h1V660.4h1V660.1h1V656.9h1V657.7h1V655.9h1V654.4h1V652.4h1V653.7h1V650.3h1V651.1h1V648.0h1V645.9h1V642.5h1V641.8h1V639.8h1V633.7h1V628.6h1V627.6h1V618.3h1V616.2h1V605.2h1V596.4h1V586.5h1V591.7h1V604.5h1V610.5h1V617.1h1V624.3h1V631.2h1V631.7h1V635.5h1V638.7h1V642.9h1V643.5h1V646.4h1V647.9h1V651.0h1V653.3h1V653.6h1V656.1h1V655.7h1V656.9h1V659.0h1V658.1h1V659.8h1V661.4h1V660.1h1V662.3h1V662.0h1V662.4h1V662.0h1V661.9h1V661.1h1V661.3h1V659.1h1V660.3h1V657.9h1V659.0h1V659.4h1V657.1h1V657.9h1V656.8h1V654.7h1V653.8h1V650.3h1V648.8h1V646.6h1V645.2h1V643.1h1V638.6h1V635.8h1V632.8h1V629.1h1V624.2h1V616.8h1V612.9h1V599.1h1V597.6h1V585.0h1V595.7h1V607.7h1V609.0h1V619.4h1V622.1h1V632.4h1V632.2h1V634.8h1V639.0h1V643.8h1V645.2h1V649.8h1V652.4h1V647.4h1V653.1h1V654.1h1V655.3h1V657.4h1V657.8h1V660.6h1V660.5h1V660.7h1V661.4h1V662.3h1V660.9h1V662.1h1V661.6h1V661.2h1V661.6h1V661.0h1V659.8h1V661.4h1V659.7h1V659.8h1V658.2h1V657.2h1V654.4h1V657.4h1V654.4h1V654.9h1V652.7h1V651.4h1V649.9h1V647.3h1V644.6h1V640.0h1V634.6h1V636.0h1V632.0h1V626.8h1V622.0h1V616.3h1V608.7h1V600.3h1V587.4h1V670.3Z" fill="#1f77b4" fill-opacity="0.200"/>
<path d="M625.3,670.3V596.7h1V602.0h1V614.5h1V621.3h1V625.3h1V632.1h1V634.3h1V638.8h1V639.6h1V644.1h1V644.8h1V648.9h1V648.9h1V652.9h1V654.0h1V655.0h1V657.1h1V658.0h1V657.6h1V659.8h1V659.7h1V660.7h1V662.0h1V661.2h1V662.2h1V662.4h1V662.2h1V663.0h1V662.3h1V661.3h1V663.0h1V662.5h1V662.0h1V661.7h1V661.4h1V660.7h1V658.9h1V658.3h1V658.1h1V654.4h1V655.2h1V654.0h1V653.4h1V649.3h1V650.1h1V646.6h1V640.2h1V638.3h1V632.0h1V630.0h1V628.3h1V621.1h1V617.5h1V611.0h1V596.5h1V590.4h1V598.3h1V607.0h1V616.0h1V620.4h1V625.4h1V631.4h1V635.5h1V637.5h1V643.4h1V644.5h1V647.6h1V649.9h1V654.0h1V653.7h1V654.8h1V655.5h1V657.3h1V658.3h1V659.2h1V660.4h1V660.9h1V662.0h1V661.9h1V661.5h1V661.6h1V663.1h1V662.8h1V662.5h1V662.9h1V662.7h1V663.2h1V662.6h1V661.9h1V660.8h1V659.9h1V659.6h1V658.8h1V657.2h1V656.9h1V655.8h1V654.6h1V652.7h1V651.9h1V649.8h1V645.8h1V645.5h1V641.9h1V636.7h1V635.8h1V630.7h1V626.1h1V619.4h1V611.8h1V605.4h1V595.5h1V590.2h1V602.2h1V611.5h1V616.0h1V621.4h1V629.4h1V633.2h1V635.8h1V640.9h1V643.2h1V647.4h1V649.2h1V650.8h1V651.5h1V652.6h1V656.0h1V656.5h1V658.5h1V658.3h1V659.1h1V659.6h1V660.8h1V661.1h1V662.0h1V662.0h1V661.5h1V661.8h1V663.2h1V662.4h1V661.2h1V662.4h1V662.5h1V660.7h1V660.7h1V662.0h1V658.9h1V660.4h1V659.4h1V658.3h1V656.9h1V655.6h1V654.7h1V652.1h1V649.2h1V647.3h1V646.6h1V639.5h1V640.1h1V638.2h1V631.2h1V628.4h1V626.4h1V618.6h1V611.0h1V600.5h1V588.6h1V594.9h1V607.7h1V613.0h1V621.3h1V624.4h1V630.6h1V633.7h1V638.0h1V640.6h1V644.5h1V645.7h1V650.0h1V651.9h1V652.1h1V655.0h1V655.8h1V655.7h1V656.1h1V659.2h1V660.0h1V660.9h1V660.2h1V662.1h1V661.9h1V662.1h1V661.6h1V662.5h1V662.8h1V662.9h1V661.9h1V662.4h1V663.0h1V662.4h1V660.4h1V661.0h1V659.3h1V658.1h1V657.0h1V656.4h1V655.9h1V653.4h1V653.6h1V651.7h1V652.1h1V649.6h1V645.6h1V641.5h1V639.1h1V634.6h1V630.1h1V626.5h1V621.1h1V616.5h1V605.3h1V599.2h1V593.4h1V601.9h1V612.0h1V618.5h1V623.6h1V628.4h1V632.8h1V636.4h1V639.2h1V643.2h1V646.2h1V647.7h1V649.8h1V650.9h1V654.1h1V656.2h1V657.8h1V656.9h1V659.5h1V660.1h1V662.3h1V661.9h1V663.7h1V664.3h1V664.0h1V663.8h1V666.0h1V665.4h1V665.5h1V666.3h1V666.8h1V667.2h1V667.1h1V667.3h1V667.3h1V668.0h1V667.4h1V668.0h1V667.7h1V668.2h1V668.4h1V668.5h1V668.4h1V668.6h1V668.4h1V668.6h1V668.7h1V668.3h1V668.4h1V668.3h1V667.4h1V667.5h1V667.4h1V666.8h1V665.8h1V664.9h1V665.2h1V666.6h1V666.7h1V667.0h1V667.6h1V668.0h1V668.0h1V668.2h1V668.0h1V668.8h1V668.5h1V668.3h1V668.7h1V668.9h1V668.2h1V668.0h1V668.0h1V668.2h1V668.0h1V667.9h1V668.1h1V667.5h1V667.0h1V667.1h1V666.9h1V666.8h1V666.7h1V666.2h1V665.2h1V665.0h1V664.2h1V663.9h1V663.9h1V662.7h1V662.0h1V661.6h1V660.7h1V659.0h1V658.2h1V656.1h1V655.6h1V654.6h1V651.4h1V651.4h1V648.0h1V645.1h1V645.3h1V638.5h1V637.3h1V634.0h1V630.3h1V624.6h1V616.4h1V608.4h1V601.3h1V591.2h1V599.6h1V607.9h1V615.9h1V623.5h1V627.4h1V631.6h1V636.9h1V640.7h1V642.7h1V644.9h1V644.4h1V649.2h1V649.9h1V652.1h1V656.2h1V656.5h1V656.9h1V658.2h1V660.0h1V660.5h1V660.3h1V660.3h1V661.8h1V661.5h1V661.3h1V662.1h1V663.2h1V663.2h1V662.8h1V663.3h1V662.6h1V663.2h1V660.1h1V662.3h1V659.9h1V659.6h1V658.1h1V658.1h1V655.4h1V655.0h1V655.8h1V652.5h1V648.7h1V648.9h1V648.0h1V642.3h1V641.3h1V639.8h1V635.7h1V633.2h1V627.0h1V621.3h1V615.6h1V607.4h1V593.5h1V593.6h1V602.6h1V611.9h1V617.7h1V622.1h1V627.3h1V631.4h1V637.2h1V642.5h1V643.3h1V647.6h1V648.7h1V650.6h1V652.1h1V652.6h1V656.0h1V655.7h1V657.3h1V659.9h1V660.3h1V660.7h1V660.4h1V661.0h1V661.3h1V662.3h1V663.2h1V662.3h1V663.6h1V661.8h1V662.9h1V662.9h1V663.1h1V661.7h1V661.5h1V661.0h1V659.0h1V659.0h1V659.5h1V657.5h1V656.9h1V655.5h1V653.3h1V652.7h1V648.9h1V648.8h1V645.8h1V643.7h1V641.3h1V636.1h1V631.3h1V629.0h1V619.4h1V619.7h1V610.8h1V601.6h1V589.4h1V594.7h1V605.5h1V617.1h1V620.5h1V625.7h1V632.6h1V634.8h1V639.2h1V640.8h1V644.1h1V646.5h1V648.0h1V648.9h1V653.5h1V654.3h1V655.4h1V657.1h1V658.4h1V658.8h1V660.4h1V660.0h1V661.0h1V661.5h1V661.8h1V662.5h1V662.5h1V662.7h1V663.3h1V662.8h1V662.1h1V662.5h1V662.3h1V662.1h1V660.8h1V660.4h1V659.9h1V659.0h1V658.6h1V658.8h1V656.0h1V654.0h1V653.3h1V650.1h1V649.1h1V647.2h1V643.3h1V640.9h1V636.6h1V637.4h1V632.0h1V626.8h1V620.3h1V614.9h1V610.5h1V601.1h1V588.4h1V600.2h1V611.9h1V617.2h1V622.4h1V624.7h1V633.4h1V633.4h1V639.1h1V641.2h1V645.0h1V646.8h1V650.1h1V654.3h1V654.0h1V654.3h1V656.1h1V658.0h1V659.7h1V658.8h1V660.9h1V661.4h1V662.1h1V662.8h1V662.6h1V661.5h1V662.2h1V662.0h1V662.4h1V663.3h1V662.7h1V662.4h1V662.1h1V660.9h1V661.4h1V660.1h1V659.0h1V657.8h1V658.2h1V655.0h1V656.8h1V654.8h1V652.1h1V650.8h1V648.4h1V646.1h1V642.6h1V638.7h1V638.6h1V634.1h1V629.2h1V624.9h1V620.2h1V614.1h1V606.1h1V593.2h1V670.3Z" fill="#1f77b4" fill-opacity="0.250"/>
<path d="M625.3,670.3V598.6h1V606.3h1V615.1h1V621.6h1V628.2h1V633.8h1V635.0h1V638.9h1V640.8h1V645.3h1V645.4h1V649.1h1V650.0h1V654.4h1V655.3h1V656.0h1V659.0h1V659.6h1V659.1h1V660.8h1V661.1h1V661.7h1V662.8h1V661.7h1V662.7h1V663.4h1V663.2h1V663.7h1V662.7h1V662.8h1V663.2h1V662.8h1V662.7h1V662.2h1V661.9h1V661.2h1V659.9h1V659.1h1V658.6h1V656.8h1V655.4h1V655.2h1V654.0h1V650.1h1V650.3h1V648.7h1V643.1h1V640.1h1V637.2h1V632.7h1V631.1h1V626.8h1V621.1h1V611.6h1V598.0h1V592.4h1V600.7h1V610.2h1V617.4h1V624.3h1V627.2h1V632.1h1V636.4h1V638.5h1V644.1h1V645.8h1V649.6h1V651.2h1V654.5h1V655.0h1V655.6h1V656.0h1V657.6h1V658.7h1V660.4h1V661.1h1V661.3h1V662.3h1V662.7h1V663.3h1V662.4h1V663.6h1V663.0h1V664.1h1V663.3h1V663.3h1V664.1h1V662.7h1V663.0h1V661.3h1V661.1h1V660.1h1V659.3h1V657.8h1V659.0h1V656.8h1V656.4h1V653.1h1V653.6h1V650.4h1V648.3h1V646.3h1V643.4h1V640.9h1V636.8h1V631.4h1V628.8h1V621.5h1V614.3h1V610.0h1V598.6h1V597.1h1V607.3h1V612.5h1V618.1h1V624.9h1V630.0h1V635.1h1V638.6h1V641.4h1V643.6h1V647.6h1V650.1h1V651.0h1V653.8h1V654.1h1V656.6h1V656.9h1V658.6h1V660.7h1V659.5h1V660.8h1V661.7h1V662.0h1V662.5h1V662.5h1V663.1h1V662.1h1V663.6h1V663.5h1V663.2h1V662.6h1V663.2h1V661.1h1V661.5h1V662.1h1V659.7h1V661.1h1V660.3h1V659.3h1V658.0h1V656.2h1V655.0h1V652.9h1V650.6h1V649.3h1V648.2h1V641.4h1V642.6h1V639.4h1V636.2h1V629.7h1V629.0h1V620.3h1V612.8h1V602.8h1V591.3h1V600.0h1V608.8h1V615.4h1V623.9h1V627.7h1V632.1h1V635.8h1V639.2h1V641.9h1V645.3h1V646.9h1V650.6h1V653.3h1V653.3h1V655.7h1V656.6h1V657.1h1V657.7h1V660.0h1V660.6h1V661.5h1V661.6h1V663.1h1V662.6h1V662.7h1V663.1h1V663.7h1V664.0h1V663.6h1V663.1h1V663.2h1V663.5h1V662.9h1V662.5h1V662.0h1V659.9h1V659.1h1V659.5h1V658.8h1V657.5h1V655.4h1V654.4h1V651.8h1V652.5h1V650.2h1V647.7h1V643.4h1V640.9h1V635.5h1V632.8h1V628.5h1V622.6h1V619.1h1V612.2h1V602.0h1V595.6h1V605.8h1V614.2h1V622.2h1V625.8h1V629.7h1V636.4h1V640.4h1V642.9h1V643.7h1V647.5h1V650.7h1V650.8h1V651.4h1V655.5h1V656.9h1V658.4h1V659.1h1V661.4h1V660.6h1V662.8h1V662.9h1V664.0h1V664.6h1V664.4h1V664.9h1V666.4h1V666.4h1V665.9h1V667.0h1V667.0h1V667.5h1V667.4h1V667.6h1V667.8h1V668.2h1V667.7h1V668.1h1V668.2h1V668.5h1V668.6h1V668.7h1V668.5h1V668.9h1V668.5h1V668.7h1V668.8h1V668.6h1V668.8h1V668.5h1V668.6h1V668.3h1V667.8h1V667.6h1V666.3h1V665.5h1V665.4h1V667.1h1V667.9h1V667.4h1V667.6h1V668.5h1V668.5h1V668.6h1V668.6h1V669.0h1V668.9h1V668.8h1V668.9h1V669.0h1V669.2h1V668.5h1V668.4h1V668.9h1V668.6h1V668.0h1V668.4h1V668.2h1V668.0h1V667.5h1V667.7h1V667.2h1V667.0h1V667.0h1V666.0h1V665.3h1V664.6h1V664.8h1V664.4h1V663.7h1V662.2h1V662.0h1V661.5h1V659.3h1V659.6h1V656.9h1V657.1h1V656.1h1V651.8h1V653.9h1V649.5h1V646.1h1V646.0h1V640.3h1V637.5h1V636.0h1V632.3h1V624.9h1V620.5h1V611.9h1V603.2h1V594.7h1V601.3h1V610.8h1V616.5h1V625.8h1V629.2h1V633.4h1V638.0h1V642.2h1V644.9h1V645.8h1V648.8h1V650.3h1V651.9h1V653.7h1V657.1h1V657.1h1V658.1h1V658.9h1V661.0h1V660.8h1V661.0h1V661.2h1V662.0h1V662.0h1V661.7h1V663.0h1V663.5h1V663.6h1V663.7h1V663.8h1V663.4h1V663.5h1V661.2h1V663.4h1V661.5h1V660.9h1V659.0h1V659.1h1V658.4h1V656.0h1V656.5h1V653.8h1V652.2h1V649.1h1V649.7h1V644.5h1V643.5h1V640.0h1V636.3h1V633.5h1V627.8h1V622.3h1V617.9h1V608.8h1V598.7h1V594.2h1V603.0h1V615.8h1V618.4h1V623.3h1V629.2h1V634.7h1V637.7h1V642.6h1V645.3h1V648.5h1V649.9h1V651.0h1V652.4h1V653.5h1V656.4h1V656.9h1V658.2h1V660.0h1V662.2h1V662.5h1V661.1h1V661.8h1V661.6h1V662.6h1V663.7h1V663.0h1V663.9h1V662.4h1V663.4h1V663.4h1V664.1h1V662.5h1V661.8h1V661.4h1V660.7h1V660.1h1V660.8h1V658.5h1V658.0h1V655.8h1V654.0h1V652.9h1V652.1h1V650.4h1V647.0h1V646.0h1V641.9h1V638.1h1V636.5h1V632.0h1V625.5h1V624.4h1V613.8h1V606.2h1V593.3h1V597.2h1V607.3h1V617.5h1V622.9h1V626.4h1V633.3h1V637.6h1V639.9h1V641.2h1V645.5h1V647.3h1V650.2h1V652.3h1V654.2h1V655.5h1V656.3h1V658.2h1V659.2h1V659.3h1V661.5h1V661.1h1V661.6h1V661.6h1V662.2h1V663.8h1V663.4h1V664.2h1V663.5h1V663.5h1V663.3h1V663.4h1V662.9h1V662.6h1V662.0h1V660.9h1V660.3h1V659.6h1V660.1h1V659.1h1V657.5h1V654.8h1V654.1h1V650.4h1V650.5h1V648.1h1V645.2h1V643.5h1V637.7h1V637.7h1V632.6h1V628.1h1V621.3h1V615.4h1V613.9h1V602.9h1V593.9h1V602.0h1V613.9h1V618.4h1V623.7h1V628.1h1V634.3h1V636.0h1V640.4h1V642.8h1V645.6h1V647.1h1V651.7h1V655.5h1V655.3h1V655.3h1V658.3h1V658.4h1V660.5h1V660.3h1V661.2h1V662.0h1V662.4h1V663.8h1V662.8h1V662.8h1V662.6h1V662.7h1V662.9h1V663.9h1V663.0h1V662.8h1V663.7h1V661.4h1V662.0h1V661.8h1V660.4h1V658.3h1V658.7h1V657.5h1V657.1h1V655.4h1V654.7h1V652.3h1V648.9h1V648.1h1V645.7h1V641.8h1V639.7h1V634.5h1V631.4h1V625.8h1V622.5h1V614.8h1V608.2h1V596.7h1V670.3Z" fill="#1f77b4" fill-opacity="0.333"/>
<path d="M625.3,670.3V600.6h1V608.9h1V618.7h1V623.0h1V630.3h1V634.2h1V637.2h1V639.8h1V642.5h1V646.5h1V646.8h1V649.7h1V651.6h1V654.5h1V656.4h1V657.7h1V659.3h1V660.6h1V660.2h1V661.1h1V661.3h1V662.2h1V663.5h1V662.7h1V664.1h1V663.7h1V665.3h1V664.6h1V663.2h1V664.0h1V664.1h1V663.1h1V662.9h1V662.5h1V662.8h1V662.3h1V660.3h1V659.6h1V659.6h1V657.8h1V656.8h1V656.1h1V654.7h1V651.8h1V650.8h1V649.5h1V643.7h1V641.8h1V639.9h1V634.6h1V634.4h1V628.3h1V622.7h1V615.0h1V602.7h1V593.1h1V602.5h1V612.8h1V619.3h1V626.2h1V629.8h1V635.5h1V642.3h1V640.7h1V644.9h1V646.8h1V650.6h1V651.5h1V655.4h1V655.6h1V656.1h1V657.3h1V659.8h1V659.3h1V661.0h1V661.8h1V661.4h1V663.0h1V663.0h1V663.9h1V663.8h1V664.5h1V663.6h1V664.4h1V663.5h1V664.5h1V664.5h1V663.3h1V663.4h1V662.4h1V661.5h1V660.7h1V659.9h1V660.9h1V659.9h1V657.5h1V656.9h1V655.1h1V654.2h1V650.9h1V651.3h1V647.0h1V644.3h1V642.7h1V638.3h1V633.8h1V630.4h1V623.8h1V619.7h1V610.6h1V603.3h1V598.9h1V607.8h1V616.4h1V621.5h1V625.3h1V632.2h1V635.9h1V639.5h1V644.1h1V644.8h1V649.0h1V651.5h1V652.3h1V655.0h1V656.1h1V657.5h1V658.2h1V658.9h1V661.3h1V660.9h1V661.1h1V663.0h1V662.1h1V663.6h1V662.8h1V663.4h1V663.5h1V663.6h1V664.2h1V664.2h1V664.0h1V664.0h1V661.6h1V662.3h1V663.0h1V660.7h1V662.0h1V661.3h1V660.0h1V659.0h1V656.6h1V656.0h1V654.1h1V651.6h1V650.7h1V648.8h1V645.4h1V643.3h1V640.4h1V636.6h1V630.9h1V630.9h1V622.2h1V613.4h1V608.1h1V597.4h1V602.8h1V612.2h1V616.2h1V624.2h1V632.1h1V633.0h1V636.8h1V640.8h1V643.0h1V645.4h1V647.1h1V651.1h1V655.4h1V654.8h1V657.3h1V657.0h1V657.6h1V657.9h1V662.6h1V662.2h1V661.7h1V662.6h1V663.4h1V663.3h1V663.0h1V663.9h1V663.7h1V664.2h1V664.8h1V663.7h1V663.7h1V663.7h1V663.3h1V663.1h1V662.1h1V661.4h1V659.7h1V660.7h1V659.4h1V658.1h1V657.6h1V655.5h1V653.9h1V654.1h1V650.4h1V649.9h1V644.9h1V642.8h1V637.0h1V634.7h1V631.2h1V625.9h1V620.7h1V614.3h1V604.9h1V596.9h1V606.6h1V615.9h1V624.2h1V628.1h1V632.0h1V637.4h1V640.9h1V643.1h1V645.2h1V648.1h1V651.7h1V652.4h1V652.4h1V656.5h1V658.6h1V659.1h1V660.1h1V661.7h1V661.3h1V663.8h1V664.3h1V664.5h1V664.9h1V665.0h1V665.4h1V666.7h1V667.2h1V666.7h1V667.3h1V667.9h1V667.9h1V668.4h1V668.0h1V668.3h1V668.4h1V668.2h1V668.9h1V669.1h1V669.0h1V668.9h1V669.0h1V668.9h1V669.4h1V668.9h1V668.8h1V669.2h1V668.8h1V669.0h1V669.1h1V668.9h1V669.0h1V668.0h1V667.9h1V667.4h1V665.9h1V665.9h1V667.3h1V668.4h1V668.1h1V667.9h1V668.6h1V668.6h1V668.7h1V668.8h1V669.2h1V669.2h1V669.2h1V669.0h1V669.2h1V669.7h1V668.6h1V669.2h1V669.0h1V668.9h1V668.2h1V668.8h1V668.5h1V668.5h1V667.9h1V668.2h1V667.9h1V667.3h1V667.2h1V666.2h1V666.0h1V665.0h1V665.0h1V664.9h1V664.3h1V663.2h1V662.5h1V661.7h1V660.0h1V660.0h1V657.8h1V658.2h1V656.7h1V653.5h1V655.2h1V649.8h1V646.7h1V647.0h1V641.2h1V639.6h1V636.7h1V634.4h1V627.4h1V620.9h1V614.8h1V606.6h1V599.2h1V601.8h1V614.9h1V618.2h1V626.9h1V630.5h1V635.0h1V639.5h1V642.6h1V646.1h1V647.5h1V649.4h1V651.5h1V654.7h1V654.0h1V657.8h1V657.5h1V659.5h1V659.5h1V662.2h1V661.3h1V662.1h1V661.6h1V662.2h1V662.6h1V662.6h1V664.2h1V664.3h1V664.2h1V664.3h1V664.1h1V663.7h1V664.0h1V662.8h1V663.9h1V662.2h1V661.3h1V660.5h1V660.2h1V658.8h1V657.9h1V657.0h1V654.6h1V653.1h1V650.4h1V650.3h1V648.5h1V644.4h1V640.9h1V640.0h1V634.6h1V629.1h1V622.5h1V618.8h1V612.4h1V602.6h1V596.3h1V605.7h1V617.9h1V622.1h1V624.7h1V632.2h1V636.3h1V638.2h1V644.6h1V647.2h1V649.2h1V650.8h1V652.0h1V653.8h1V655.3h1V657.6h1V658.3h1V660.1h1V660.1h1V662.9h1V663.2h1V662.6h1V663.4h1V662.7h1V662.9h1V665.1h1V664.1h1V664.5h1V662.6h1V663.9h1V663.9h1V664.9h1V663.0h1V662.5h1V662.8h1V661.6h1V660.5h1V661.0h1V659.3h1V658.5h1V656.2h1V654.6h1V656.0h1V653.6h1V651.6h1V647.7h1V646.5h1V642.2h1V640.0h1V638.0h1V633.7h1V627.6h1V627.3h1V615.8h1V609.6h1V594.5h1V599.0h1V609.1h1V618.3h1V624.2h1V630.3h1V634.4h1V638.6h1V641.2h1V642.9h1V646.9h1V649.7h1V650.6h1V653.8h1V655.6h1V656.0h1V657.5h1V659.0h1V660.4h1V660.6h1V662.5h1V661.6h1V662.2h1V662.7h1V663.4h1V664.0h1V665.0h1V664.7h1V664.0h1V664.4h1V664.3h1V664.0h1V663.8h1V663.5h1V662.5h1V662.4h1V661.2h1V660.8h1V660.6h1V659.8h1V657.6h1V657.0h1V654.4h1V652.8h1V651.9h1V648.6h1V646.0h1V644.7h1V640.2h1V638.0h1V636.1h1V630.3h1V625.7h1V619.0h1V615.2h1V605.1h1V598.9h1V606.1h1V618.0h1V620.7h1V626.0h1V629.5h1V635.7h1V641.3h1V641.3h1V643.7h1V648.6h1V649.4h1V652.3h1V655.6h1V655.9h1V656.7h1V659.0h1V658.8h1V660.9h1V661.2h1V662.9h1V662.4h1V662.5h1V664.5h1V663.2h1V663.9h1V663.5h1V663.7h1V664.1h1V664.2h1V663.7h1V663.5h1V663.9h1V662.5h1V662.3h1V662.0h1V661.1h1V659.0h1V660.2h1V659.0h1V657.9h1V655.6h1V656.4h1V653.9h1V649.5h1V650.2h1V646.4h1V642.8h1V642.0h1V635.8h1V633.0h1V629.1h1V626.0h1V618.9h1V610.0h1V598.9h1V670.3Z" fill="#1f77b4" fill-opacity="0.500"/>
<path d="M625.3,670.3V605.3h1V610.7h1V620.6h1V624.4h1V630.5h1V637.5h1V638.0h1V642.1h1V646.0h1V646.8h1V649.4h1V650.5h1V655.4h1V655.2h1V657.2h1V659.4h1V661.4h1V661.7h1V661.8h1V662.2h1V663.2h1V663.0h1V664.0h1V664.0h1V664.7h1V664.1h1V665.7h1V665.5h1V663.9h1V665.1h1V664.4h1V663.9h1V663.6h1V663.6h1V664.6h1V663.9h1V661.1h1V660.7h1V661.0h1V659.3h1V658.4h1V656.7h1V656.8h1V653.3h1V652.3h1V651.5h1V646.1h1V642.6h1V642.2h1V636.3h1V636.7h1V629.6h1V625.4h1V617.3h1V609.7h1V597.0h1V606.1h1V615.7h1V621.0h1V626.8h1V631.7h1V636.0h1V644.0h1V643.4h1V648.5h1V649.2h1V652.6h1V653.0h1V659.6h1V657.3h1V657.1h1V659.4h1V661.2h1V661.3h1V662.3h1V663.2h1V662.5h1V665.8h1V664.5h1V664.6h1V665.7h1V665.5h1V663.7h1V665.0h1V664.2h1V664.6h1V665.4h1V664.3h1V665.3h1V664.0h1V663.2h1V661.9h1V660.7h1V661.0h1V660.1h1V658.5h1V658.0h1V655.4h1V655.3h1V652.1h1V651.4h1V648.7h1V645.6h1V644.3h1V640.7h1V636.8h1V634.8h1V625.6h1V620.8h1V615.2h1V605.1h1V601.8h1V610.8h1V618.2h1V622.3h1V628.7h1V632.7h1V638.9h1V641.4h1V645.0h1V645.2h1V649.6h1V655.4h1V654.2h1V655.6h1V656.6h1V657.6h1V658.6h1V659.9h1V662.1h1V661.5h1V661.9h1V663.2h1V662.8h1V664.7h1V665.3h1V663.8h1V664.5h1V664.7h1V665.1h1V665.5h1V664.8h1V665.7h1V664.4h1V664.0h1V663.8h1V661.8h1V662.4h1V663.1h1V661.5h1V660.6h1V658.3h1V658.2h1V655.6h1V652.0h1V651.8h1V650.7h1V647.3h1V645.1h1V642.0h1V636.8h1V633.3h1V631.8h1V624.1h1V615.8h1V613.8h1V600.8h1V608.7h1V614.1h1V620.5h1V626.6h1V636.0h1V635.4h1V638.9h1V643.4h1V645.9h1V647.8h1V648.7h1V652.4h1V655.6h1V655.0h1V657.9h1V657.8h1V658.4h1V658.8h1V662.8h1V663.2h1V662.3h1V665.1h1V664.0h1V663.7h1V663.7h1V665.7h1V664.4h1V665.2h1V665.0h1V665.4h1V665.4h1V664.0h1V663.6h1V664.4h1V663.1h1V662.9h1V661.9h1V661.2h1V660.0h1V658.9h1V658.5h1V656.4h1V656.0h1V655.9h1V652.1h1V650.8h1V646.1h1V643.8h1V639.5h1V636.3h1V635.9h1V627.9h1V622.0h1V619.3h1V608.0h1V599.4h1V613.3h1V619.7h1V627.9h1V632.1h1V633.3h1V639.1h1V642.3h1V643.9h1V645.4h1V649.3h1V651.8h1V654.1h1V655.5h1V657.4h1V660.2h1V660.5h1V661.3h1V662.9h1V661.9h1V664.1h1V664.9h1V665.7h1V665.0h1V666.4h1V665.8h1V667.8h1V667.9h1V667.0h1V667.7h1V668.3h1V668.1h1V668.9h1V668.8h1V669.3h1V669.0h1V668.7h1V669.0h1V669.4h1V669.5h1V669.4h1V669.4h1V669.2h1V669.8h1V669.3h1V669.3h1V669.4h1V669.3h1V669.3h1V669.3h1V669.0h1V669.2h1V668.6h1V668.5h1V667.9h1V667.4h1V666.5h1V667.7h1V668.6h1V668.8h1V668.5h1V669.1h1V669.0h1V669.0h1V669.1h1V669.5h1V669.9h1V669.3h1V669.2h1V669.3h1V669.8h1V669.5h1V669.4h1V669.9h1V669.2h1V668.8h1V669.0h1V668.8h1V668.7h1V668.3h1V668.8h1V668.1h1V667.4h1V667.6h1V666.3h1V666.8h1V665.9h1V666.4h1V665.6h1V665.0h1V663.7h1V663.0h1V663.4h1V661.0h1V661.3h1V660.1h1V659.7h1V657.7h1V656.7h1V656.1h1V650.3h1V647.9h1V650.8h1V643.0h1V640.7h1V639.2h1V635.1h1V630.2h1V623.3h1V616.3h1V610.3h1V600.4h1V608.9h1V616.6h1V620.6h1V630.4h1V631.0h1V636.2h1V640.2h1V644.0h1V649.1h1V648.4h1V650.8h1V654.0h1V655.0h1V655.9h1V658.5h1V659.3h1V660.3h1V660.8h1V663.1h1V662.0h1V663.6h1V663.7h1V665.0h1V663.6h1V663.8h1V664.7h1V664.9h1V664.8h1V665.2h1V664.4h1V663.9h1V664.4h1V664.0h1V664.2h1V662.7h1V662.5h1V664.3h1V662.2h1V659.6h1V660.0h1V657.4h1V655.9h1V654.8h1V651.2h1V651.7h1V650.1h1V647.5h1V642.0h1V642.5h1V635.0h1V629.8h1V626.3h1V619.9h1V616.9h1V604.1h1V599.5h1V607.9h1V619.1h1V622.4h1V627.0h1V633.9h1V638.3h1V638.9h1V645.1h1V649.3h1V650.0h1V652.5h1V655.8h1V654.1h1V657.8h1V657.7h1V659.1h1V660.8h1V662.4h1V664.0h1V663.7h1V663.0h1V663.9h1V663.3h1V664.0h1V665.5h1V664.6h1V665.6h1V665.0h1V665.1h1V664.4h1V665.7h1V664.5h1V663.9h1V663.4h1V661.8h1V661.7h1V662.0h1V661.0h1V660.1h1V658.5h1V659.0h1V656.6h1V654.5h1V651.9h1V648.9h1V648.3h1V643.4h1V641.9h1V638.6h1V636.0h1V630.3h1V629.0h1V619.7h1V614.7h1V600.0h1V601.4h1V614.2h1V621.4h1V627.3h1V632.6h1V636.8h1V641.1h1V643.9h1V646.9h1V648.6h1V650.6h1V652.3h1V654.4h1V657.3h1V657.7h1V658.8h1V660.7h1V661.1h1V660.8h1V663.2h1V663.1h1V662.7h1V663.5h1V663.7h1V664.5h1V665.3h1V665.7h1V664.3h1V664.5h1V665.3h1V664.2h1V664.0h1V664.5h1V663.1h1V664.1h1V661.8h1V660.9h1V661.2h1V661.3h1V658.1h1V660.3h1V656.4h1V654.0h1V653.7h1V649.5h1V646.4h1V647.2h1V641.6h1V639.3h1V636.8h1V633.0h1V629.6h1V620.3h1V616.9h1V607.0h1V600.5h1V607.3h1V624.2h1V624.3h1V628.9h1V633.6h1V638.2h1V641.7h1V642.0h1V645.1h1V649.2h1V651.0h1V654.0h1V656.2h1V657.4h1V657.2h1V659.4h1V660.6h1V661.4h1V662.0h1V663.6h1V664.3h1V663.8h1V665.1h1V664.3h1V665.5h1V664.4h1V664.1h1V664.8h1V665.2h1V665.4h1V665.1h1V665.5h1V664.2h1V662.9h1V664.0h1V662.0h1V660.8h1V661.9h1V660.2h1V658.9h1V657.0h1V656.9h1V655.4h1V650.4h1V651.6h1V647.4h1V646.3h1V644.8h1V637.7h1V637.2h1V632.0h1V629.1h1V620.6h1V613.5h1V606.5h1V670.3Z" fill="#1f77b4"/>
<path d="M625.3,766.2V693.2h1V702.3h1V704.6h1V712.9h1V712.0h1V717.1h1V722.2h1V725.6h1V724.6h1V729.5h1V732.3h1V730.5h1V731.7h1V730.9h1V731.3h1V728.8h1V730.2h1V728.2h1V728.0h1V724.3h1V728.3h1V721.2h1V717.0h1V712.1h1V711.2h1V706.4h1V700.2h1V684.3h1V697.7h1V706.7h1V715.1h1V717.3h1V722.7h1V723.2h1V723.6h1V730.8h1V727.1h1V730.0h1V730.7h1V730.6h1V732.6h1V731.2h1V728.9h1V728.8h1V726.2h1V728.0h1V727.9h1V729.3h1V727.4h1V727.9h1V715.8h1V717.2h1V714.2h1V706.2h1V698.5h1V695.7h1V699.5h1V705.8h1V711.5h1V711.6h1V718.5h1V717.9h1V721.7h1V728.4h1V728.0h1V730.4h1V731.3h1V727.7h1V732.4h1V730.4h1V732.9h1V733.0h1V728.8h1V725.7h1V729.6h1V729.5h1V723.2h1V718.3h1V718.3h1V714.1h1V714.2h1V705.1h1V700.9h1V696.5h1V700.7h1V705.1h1V713.9h1V720.1h1V710.2h1V722.0h1V720.6h1V727.3h1V727.0h1V727.2h1V734.2h1V729.5h1V732.1h1V733.0h1V731.7h1V729.6h1V734.0h1V727.7h1V724.1h1V721.4h1V726.0h1V715.8h1V719.4h1V711.2h1V711.2h1V706.4h1V688.3h1V688.1h1V704.1h1V702.7h1V712.2h1V714.4h1V719.3h1V724.8h1V724.0h1V729.8h1V726.2h1V731.3h1V728.7h1V729.3h1V732.1h1V733.8h1V732.6h1V725.6h1V728.0h1V725.3h1V725.2h1V721.2h1V720.5h1V716.0h1V717.2h1V710.8h1V708.7h1V696.3h1V694.7h1V693.2h1V703.6h1V705.3h1V712.0h1V716.0h1V721.6h1V728.3h1V727.2h1V726.3h1V727.1h1V731.7h1V730.9h1V731.9h1V731.2h1V730.7h1V731.2h1V730.7h1V730.7h1V730.7h1V726.3h1V722.3h1V724.3h1V721.0h1V717.8h1V712.6h1V706.7h1V701.0h1V696.8h1V693.5h1V705.3h1V707.8h1V707.5h1V715.3h1V714.8h1V721.4h1V723.4h1V725.1h1V731.3h1V733.0h1V726.9h1V730.6h1V730.5h1V729.1h1V730.9h1V728.6h1V731.4h1V729.6h1V724.6h1V723.6h1V719.8h1V713.8h1V715.1h1V714.8h1V709.1h1V700.7h1V695.5h1V696.2h1V706.4h1V711.0h1V716.3h1V715.6h1V718.7h1V721.7h1V724.4h1V724.7h1V731.8h1V729.7h1V733.0h1V727.0h1V731.4h1V730.6h1V730.3h1V733.4h1V729.1h1V728.8h1V726.7h1V723.2h1V715.7h1V720.6h1V717.8h1V713.7h1V707.7h1V704.0h1V690.3h1V706.3h1V695.2h1V707.2h1V713.9h1V721.2h1V722.4h1V724.9h1V729.2h1V730.1h1V727.7h1V733.2h1V729.5h1V731.2h1V729.5h1V732.6h1V734.3h1V733.7h1V729.1h1V730.0h1V724.0h1V720.1h1V723.6h1V718.9h1V715.1h1V709.7h1V713.7h1V706.3h1V698.0h1V705.5h1V709.3h1V720.1h1V720.4h1V721.9h1V728.1h1V731.1h1V735.3h1V736.8h1V740.2h1V741.3h1V745.8h1V743.0h1V748.9h1V747.1h1V747.9h1V751.7h1V750.3h1V754.7h1V753.1h1V753.4h1V753.6h1V753.5h1V753.6h1V754.0h1V755.0h1V755.5h1V752.9h1V754.8h1V755.3h1V755.0h1V752.5h1V754.5h1V756.1h1V752.1h1V752.3h1V751.0h1V749.7h1V749.0h1V748.3h1V749.0h1V743.3h1V744.0h1V740.3h1V737.9h1V734.7h1V735.4h1V734.4h1V731.5h1V727.9h1V721.4h1V718.3h1V700.1h1V707.1h1V697.8h1V699.2h1V707.8h1V712.5h1V713.0h1V721.3h1V725.2h1V724.9h1V728.8h1V723.9h1V731.4h1V735.0h1V732.5h1V729.9h1V734.2h1V737.0h1V729.2h1V732.0h1V728.9h1V731.1h1V728.6h1V720.6h1V723.6h1V723.8h1V713.2h1V715.3h1V705.7h1V705.5h1V695.2h1V691.7h1V705.2h1V710.0h1V709.2h1V721.1h1V723.0h1V720.4h1V728.2h1V726.6h1V729.3h1V729.9h1V731.3h1V735.4h1V730.6h1V729.2h1V733.3h1V731.6h1V729.8h1V721.4h1V725.4h1V723.8h1V722.7h1V716.2h1V717.0h1V712.3h1V710.0h1V699.9h1V699.7h1V703.1h1V704.4h1V712.9h1V714.7h1V717.9h1V723.7h1V723.9h1V726.6h1V724.0h1V730.5h1V726.6h1V732.2h1V730.0h1V725.8h1V730.3h1V730.9h1V730.5h1V731.7h1V724.8h1V727.3h1V721.8h1V722.4h1V714.6h1V714.5h1V709.2h1V702.0h1V693.2h1V693.8h1V699.7h1V704.6h1V707.0h1V722.9h1V720.5h1V724.4h1V720.5h1V725.1h1V727.4h1V732.1h1V733.2h1V727.5h1V727.8h1V732.6h1V733.4h1V732.9h1V729.7h1V729.0h1V728.9h1V727.7h1V711.8h1V718.6h1V717.7h1V709.3h1V708.6h1V699.5h1V693.4h1V695.2h1V700.7h1V709.2h1V714.8h1V719.4h1V725.0h1V719.0h1V721.1h1V726.5h1V725.5h1V733.4h1V731.0h1V725.5h1V731.8h1V733.6h1V732.1h1V728.2h1V728.3h1V729.8h1V724.7h1V726.0h1V718.0h1V720.4h1V713.3h1V714.0h1V709.5h1V697.9h1V685.8h1V691.5h1V706.0h1V705.5h1V713.9h1V719.7h1V718.7h1V726.0h1V725.7h1V728.1h1V732.4h1V727.1h1V730.8h1V731.2h1V731.5h1V729.3h1V731.6h1V730.4h1V731.6h1V724.4h1V728.4h1V724.0h1V718.7h1V718.4h1V717.8h1V714.6h1V707.7h1V695.0h1V696.3h1V696.2h1V705.2h1V710.2h1V712.7h1V712.5h1V721.4h1V725.6h1V724.8h1V725.9h1V730.5h1V732.4h1V731.7h1V729.2h1V732.9h1V733.1h1V732.3h1V727.5h1V729.7h1V730.0h1V725.0h1V725.6h1V720.7h1V716.7h1V718.2h1V714.5h1V703.9h1V699.7h1V691.6h1V694.3h1V711.6h1V712.1h1V715.9h1V709.0h1V727.1h1V723.2h1V723.8h1V722.9h1V728.6h1V727.6h1V732.5h1V732.5h1V729.8h1V730.0h1V727.9h1V729.5h1V728.1h1V724.4h1V726.9h1V722.0h1V721.3h1V716.7h1V714.4h1V709.8h1V704.9h1V695.0h1V696.7h1V704.5h1V706.3h1V714.0h1V715.3h1V719.3h1V721.5h1V725.5h1V728.6h1V727.7h1V728.2h1V728.7h1V735.1h1V732.1h1V731.8h1V730.5h1V730.1h1V730.3h1V727.9h1V722.9h1V726.7h1V726.3h1V721.8h1V721.3h1V709.0h1V704.3h1V704.4h1V696.8h1V766.2Z" fill="#1f77b4" fill-opacity="0.200"/>
<path d="M625.3,766.2V698.0h1V707.2h1V713.6h1V718.0h1V716.4h1V721.8h1V726.8h1V729.4h1V726.9h1V732.0h1V733.1h1V734.9h1V733.3h1V733.8h1V732.8h1V733.4h1V733.4h1V734.0h1V729.7h1V728.0h1V729.7h1V728.2h1V722.2h1V714.3h1V717.1h1V711.3h1V705.8h1V696.9h1V700.1h1V713.3h1V716.7h1V719.3h1V724.5h1V724.6h1V726.4h1V732.3h1V729.0h1V730.7h1V731.5h1V734.4h1V736.0h1V735.6h1V733.2h1V734.6h1V731.4h1V729.2h1V733.6h1V734.8h1V730.4h1V728.3h1V720.1h1V719.3h1V717.3h1V713.1h1V703.7h1V705.2h1V701.1h1V709.3h1V713.6h1V716.8h1V724.1h1V724.0h1V727.8h1V731.3h1V728.7h1V732.5h1V733.5h1V735.7h1V736.4h1V731.4h1V735.0h1V734.7h1V735.9h1V735.7h1V732.1h1V729.8h1V727.0h1V722.3h1V720.3h1V717.4h1V717.5h1V710.1h1V704.2h1V702.9h1V709.1h1V712.2h1V719.8h1V720.9h1V720.7h1V723.5h1V727.2h1V729.1h1V730.4h1V732.7h1V737.1h1V734.6h1V734.2h1V735.9h1V734.6h1V734.2h1V735.1h1V732.5h1V729.4h1V728.6h1V728.2h1V729.0h1V720.5h1V718.2h1V714.6h1V709.5h1V697.0h1V701.3h1V706.2h1V706.7h1V720.0h1V718.2h1V723.8h1V727.4h1V725.7h1V731.9h1V730.2h1V732.9h1V733.4h1V736.2h1V735.0h1V735.2h1V735.1h1V729.5h1V730.6h1V729.2h1V727.1h1V728.7h1V724.7h1V724.5h1V723.0h1V720.7h1V714.6h1V707.3h1V697.3h1V699.4h1V705.5h1V714.4h1V715.1h1V721.0h1V726.3h1V729.4h1V734.2h1V729.6h1V729.4h1V732.5h1V735.4h1V735.6h1V734.7h1V734.5h1V734.2h1V731.3h1V731.9h1V732.4h1V733.0h1V725.5h1V728.9h1V723.4h1V719.5h1V718.8h1V711.3h1V703.7h1V703.4h1V699.2h1V707.7h1V715.0h1V717.2h1V719.2h1V723.1h1V724.9h1V728.1h1V728.6h1V733.4h1V733.8h1V734.0h1V735.8h1V733.7h1V735.1h1V734.6h1V730.9h1V733.5h1V731.1h1V727.2h1V724.1h1V726.0h1V724.2h1V717.0h1V715.4h1V713.9h1V703.5h1V702.1h1V703.0h1V708.3h1V714.9h1V719.6h1V722.6h1V726.2h1V723.1h1V726.6h1V732.4h1V735.5h1V733.9h1V736.0h1V733.0h1V732.8h1V735.7h1V735.2h1V736.6h1V732.5h1V734.5h1V729.7h1V728.7h1V727.7h1V723.3h1V719.8h1V716.0h1V710.0h1V705.5h1V702.7h1V707.4h1V710.2h1V717.8h1V718.1h1V722.3h1V727.7h1V726.5h1V730.2h1V732.4h1V732.2h1V735.5h1V732.2h1V736.8h1V735.3h1V734.7h1V736.3h1V734.8h1V730.6h1V734.1h1V730.8h1V729.6h1V728.2h1V726.3h1V718.6h1V715.5h1V714.8h1V706.5h1V699.8h1V709.3h1V713.4h1V720.7h1V725.6h1V730.5h1V733.2h1V733.7h1V739.5h1V740.5h1V743.0h1V743.7h1V747.1h1V747.4h1V750.6h1V751.2h1V749.2h1V752.4h1V752.9h1V755.4h1V754.0h1V755.0h1V754.5h1V755.1h1V754.4h1V757.0h1V757.4h1V756.7h1V756.8h1V756.7h1V756.5h1V755.1h1V755.3h1V755.0h1V756.4h1V753.7h1V753.3h1V752.7h1V751.5h1V750.5h1V751.1h1V749.9h1V745.5h1V747.4h1V742.4h1V740.2h1V739.1h1V739.4h1V736.2h1V732.8h1V731.9h1V723.8h1V720.8h1V715.9h1V711.5h1V702.6h1V702.0h1V711.8h1V716.4h1V714.5h1V723.4h1V726.6h1V729.9h1V729.9h1V729.7h1V731.8h1V736.1h1V735.7h1V734.9h1V736.1h1V738.5h1V735.9h1V734.5h1V735.4h1V732.8h1V729.8h1V726.8h1V726.1h1V725.9h1V724.6h1V717.3h1V708.1h1V709.1h1V698.5h1V702.4h1V709.7h1V712.5h1V719.5h1V724.6h1V723.9h1V724.1h1V729.2h1V729.1h1V734.9h1V734.8h1V736.2h1V735.9h1V732.2h1V732.9h1V735.3h1V734.2h1V733.0h1V731.0h1V729.2h1V728.4h1V727.2h1V719.6h1V722.4h1V714.2h1V713.6h1V707.4h1V704.0h1V705.8h1V713.1h1V714.3h1V719.8h1V722.3h1V728.3h1V727.3h1V731.2h1V730.0h1V732.0h1V731.3h1V735.8h1V733.4h1V735.0h1V734.1h1V733.6h1V734.6h1V732.1h1V728.2h1V729.7h1V726.7h1V725.9h1V725.3h1V717.3h1V715.4h1V703.7h1V704.5h1V696.2h1V705.8h1V711.5h1V715.0h1V725.9h1V723.0h1V727.2h1V727.0h1V731.1h1V730.0h1V732.7h1V734.7h1V732.0h1V731.3h1V733.9h1V736.9h1V734.3h1V735.0h1V733.5h1V729.9h1V730.5h1V722.9h1V723.0h1V719.9h1V716.8h1V710.0h1V702.8h1V701.8h1V698.1h1V705.2h1V714.3h1V718.5h1V722.7h1V725.3h1V725.4h1V727.5h1V731.2h1V732.5h1V734.0h1V731.5h1V732.3h1V733.3h1V736.2h1V733.6h1V734.6h1V729.3h1V731.0h1V727.6h1V727.2h1V723.6h1V722.0h1V718.5h1V715.3h1V711.3h1V707.7h1V701.5h1V697.6h1V710.1h1V710.4h1V719.2h1V721.5h1V721.8h1V726.1h1V728.8h1V730.6h1V733.8h1V729.0h1V735.0h1V734.5h1V735.0h1V735.7h1V736.2h1V735.4h1V732.4h1V729.2h1V730.6h1V730.1h1V724.2h1V721.9h1V719.7h1V717.3h1V713.3h1V707.3h1V701.4h1V701.5h1V709.6h1V714.3h1V721.0h1V720.7h1V727.3h1V726.7h1V730.0h1V728.9h1V730.9h1V734.0h1V733.4h1V734.1h1V736.5h1V735.4h1V733.2h1V730.7h1V730.9h1V731.1h1V731.5h1V729.7h1V724.1h1V721.2h1V720.9h1V714.7h1V709.4h1V702.4h1V700.5h1V699.1h1V712.4h1V715.5h1V716.9h1V720.4h1V727.6h1V726.4h1V729.3h1V730.6h1V732.7h1V736.6h1V737.0h1V736.4h1V731.3h1V733.6h1V729.9h1V732.0h1V729.7h1V728.8h1V728.9h1V725.9h1V726.4h1V720.3h1V717.6h1V715.1h1V711.8h1V699.8h1V700.3h1V706.2h1V710.6h1V717.1h1V721.2h1V723.6h1V723.5h1V727.0h1V733.3h1V732.4h1V730.9h1V733.9h1V735.6h1V734.5h1V735.0h1V733.5h1V733.6h1V735.4h1V731.3h1V730.5h1V729.9h1V727.6h1V724.4h1V724.9h1V713.2h1V711.8h1V705.5h1V701.8h1V766.2Z" fill="#1f77b4" fill-opacity="0.250"/>
<path d="M625.3,766.2V703.4h1V709.9h1V714.5h1V719.9h1V722.6h1V723.1h1V729.7h1V730.9h1V732.2h1V736.5h1V735.2h1V735.4h1V734.8h1V735.5h1V734.6h1V735.2h1V735.9h1V735.3h1V733.0h1V735.0h1V730.6h1V728.9h1V723.8h1V719.6h1V719.8h1V714.6h1V709.7h1V702.5h1V703.0h1V714.7h1V717.0h1V720.5h1V726.8h1V730.0h1V729.3h1V732.8h1V730.3h1V732.3h1V733.9h1V737.8h1V738.9h1V736.4h1V733.8h1V735.2h1V734.6h1V734.6h1V735.7h1V735.1h1V730.9h1V730.2h1V722.4h1V722.4h1V720.6h1V715.4h1V709.9h1V706.5h1V708.4h1V710.4h1V715.8h1V720.1h1V725.2h1V726.3h1V728.4h1V731.5h1V730.3h1V734.7h1V735.3h1V738.3h1V736.9h1V736.5h1V736.1h1V737.6h1V738.3h1V736.6h1V735.7h1V731.7h1V728.8h1V725.0h1V722.8h1V719.0h1V718.0h1V710.5h1V705.6h1V705.4h1V712.0h1V716.0h1V723.2h1V723.9h1V722.5h1V724.7h1V729.9h1V730.5h1V732.6h1V733.5h1V737.8h1V737.4h1V735.0h1V737.6h1V737.8h1V737.0h1V735.7h1V735.9h1V733.4h1V729.3h1V734.4h1V729.3h1V721.3h1V721.3h1V718.7h1V711.6h1V701.1h1V707.0h1V706.7h1V712.1h1V721.4h1V720.0h1V725.6h1V727.7h1V729.7h1V736.1h1V732.9h1V735.9h1V736.6h1V738.8h1V736.0h1V735.8h1V737.6h1V735.3h1V732.6h1V733.9h1V729.1h1V730.3h1V727.1h1V726.1h1V725.6h1V722.0h1V715.3h1V710.7h1V699.8h1V704.0h1V707.4h1V715.7h1V718.3h1V723.0h1V727.3h1V730.1h1V734.4h1V732.6h1V732.0h1V735.3h1V736.0h1V735.9h1V735.8h1V738.2h1V737.0h1V734.8h1V733.3h1V733.2h1V734.7h1V727.6h1V730.1h1V724.9h1V720.1h1V721.0h1V714.1h1V710.8h1V709.0h1V702.2h1V708.9h1V716.4h1V718.7h1V725.0h1V726.1h1V728.3h1V731.1h1V729.8h1V735.6h1V734.6h1V737.0h1V736.8h1V735.3h1V737.5h1V736.2h1V735.2h1V735.0h1V732.9h1V731.3h1V727.0h1V727.9h1V725.7h1V720.5h1V716.2h1V716.0h1V709.6h1V705.8h1V705.8h1V715.9h1V716.5h1V720.8h1V728.4h1V726.9h1V726.5h1V731.5h1V734.3h1V738.1h1V737.5h1V740.8h1V736.3h1V736.5h1V737.8h1V736.5h1V738.0h1V735.4h1V735.0h1V730.3h1V730.3h1V730.0h1V725.1h1V720.5h1V718.2h1V717.6h1V708.4h1V703.6h1V710.1h1V715.3h1V718.9h1V723.0h1V725.7h1V730.1h1V729.8h1V732.7h1V736.0h1V733.4h1V736.0h1V735.8h1V737.3h1V736.9h1V735.6h1V738.6h1V737.1h1V736.1h1V735.8h1V734.9h1V731.5h1V730.4h1V726.6h1V723.4h1V718.9h1V717.2h1V707.7h1V701.5h1V715.2h1V718.4h1V723.2h1V727.8h1V732.4h1V733.9h1V736.4h1V740.7h1V742.1h1V745.6h1V747.0h1V748.3h1V750.0h1V752.5h1V752.1h1V751.2h1V753.8h1V754.6h1V756.3h1V754.9h1V756.5h1V756.3h1V756.3h1V756.2h1V757.7h1V758.1h1V759.1h1V757.5h1V758.3h1V756.9h1V756.2h1V757.3h1V757.8h1V757.5h1V754.6h1V754.9h1V754.3h1V753.5h1V752.2h1V753.4h1V751.6h1V748.8h1V748.5h1V745.3h1V742.3h1V742.9h1V740.4h1V740.4h1V735.1h1V736.6h1V725.3h1V723.4h1V719.1h1V713.0h1V709.3h1V706.0h1V712.7h1V719.2h1V719.0h1V723.9h1V728.9h1V730.6h1V731.2h1V731.1h1V735.1h1V736.9h1V738.6h1V737.0h1V737.9h1V739.6h1V736.2h1V735.7h1V736.8h1V734.5h1V731.8h1V728.1h1V728.1h1V729.0h1V725.4h1V717.9h1V717.0h1V711.1h1V706.0h1V704.5h1V710.7h1V715.5h1V721.5h1V725.3h1V729.1h1V726.8h1V729.7h1V735.3h1V735.4h1V735.2h1V738.0h1V736.6h1V735.3h1V737.3h1V738.9h1V735.9h1V735.5h1V734.4h1V732.7h1V730.4h1V727.6h1V722.7h1V724.9h1V717.8h1V715.3h1V709.5h1V706.7h1V707.8h1V713.7h1V719.3h1V724.1h1V727.9h1V729.1h1V729.5h1V732.7h1V732.7h1V735.0h1V734.2h1V737.7h1V738.2h1V735.7h1V737.7h1V737.6h1V735.7h1V733.5h1V731.5h1V731.5h1V729.1h1V727.1h1V726.6h1V720.0h1V716.5h1V710.4h1V705.8h1V701.3h1V708.6h1V715.2h1V720.7h1V726.9h1V727.5h1V729.1h1V728.7h1V733.0h1V731.7h1V735.5h1V735.9h1V734.0h1V734.6h1V734.7h1V739.0h1V736.2h1V735.6h1V734.4h1V733.8h1V734.8h1V725.9h1V727.0h1V728.6h1V721.9h1V714.7h1V705.5h1V706.7h1V702.9h1V706.1h1V718.2h1V719.5h1V723.8h1V727.8h1V728.2h1V732.7h1V733.6h1V733.9h1V734.7h1V733.8h1V733.7h1V736.2h1V737.3h1V736.9h1V736.2h1V730.7h1V732.4h1V731.9h1V729.4h1V726.4h1V727.4h1V721.1h1V719.8h1V713.9h1V708.6h1V702.4h1V704.2h1V712.2h1V718.8h1V721.9h1V723.5h1V724.6h1V727.1h1V730.9h1V732.2h1V735.1h1V732.2h1V735.5h1V737.3h1V737.6h1V737.4h1V738.3h1V736.3h1V734.5h1V730.4h1V734.7h1V733.7h1V727.4h1V727.0h1V720.9h1V721.2h1V714.5h1V709.9h1V702.3h1V707.8h1V710.5h1V716.0h1V721.6h1V723.1h1V728.0h1V729.0h1V732.0h1V734.0h1V732.7h1V738.2h1V736.3h1V736.7h1V737.4h1V735.8h1V734.1h1V732.4h1V737.0h1V733.1h1V732.8h1V731.6h1V728.4h1V722.8h1V721.2h1V715.5h1V712.3h1V704.9h1V704.1h1V704.2h1V714.6h1V724.2h1V718.3h1V724.1h1V729.7h1V728.4h1V734.0h1V732.9h1V734.4h1V737.2h1V738.1h1V739.4h1V736.3h1V734.9h1V733.6h1V733.7h1V733.6h1V732.7h1V730.6h1V727.9h1V727.1h1V721.4h1V720.4h1V718.6h1V712.0h1V704.4h1V704.0h1V711.0h1V713.5h1V720.5h1V722.6h1V726.3h1V729.4h1V728.4h1V734.6h1V735.1h1V733.6h1V735.0h1V737.4h1V737.3h1V738.1h1V734.3h1V735.9h1V737.0h1V735.0h1V733.5h1V731.1h1V730.5h1V730.2h1V725.1h1V718.3h1V716.4h1V709.2h1V706.4h1V766.2Z" fill="#1f77b4" fill-opacity="0.333"/>
<path d="M625.3,766.2V707.2h1V715.6h1V718.3h1V721.8h1V725.8h1V726.0h1V731.6h1V732.7h1V735.8h1V741.4h1V737.1h1V738.6h1V735.8h1V738.4h1V735.9h1V736.9h1V739.2h1V737.1h1V733.4h1V738.2h1V732.5h1V732.8h1V726.0h1V724.4h1V724.1h1V716.0h1V713.5h1V708.6h1V704.9h1V716.3h1V718.3h1V723.1h1V728.7h1V730.5h1V735.1h1V736.6h1V731.4h1V733.9h1V737.9h1V739.1h1V741.0h1V737.0h1V739.4h1V737.9h1V735.5h1V737.8h1V736.5h1V737.7h1V732.5h1V733.9h1V725.2h1V724.1h1V722.2h1V717.5h1V711.2h1V707.1h1V710.8h1V712.0h1V722.0h1V721.4h1V730.0h1V727.5h1V731.0h1V734.2h1V736.5h1V735.8h1V739.6h1V739.3h1V740.5h1V737.2h1V736.8h1V739.1h1V740.8h1V738.0h1V737.4h1V732.4h1V732.1h1V728.0h1V726.8h1V722.5h1V718.5h1V715.9h1V706.6h1V709.8h1V713.1h1V719.2h1V726.7h1V729.4h1V731.5h1V726.9h1V733.1h1V732.9h1V735.5h1V734.2h1V738.3h1V738.4h1V737.7h1V739.8h1V738.7h1V738.3h1V739.1h1V736.8h1V734.1h1V730.1h1V735.6h1V732.2h1V727.2h1V725.2h1V723.1h1V713.9h1V706.3h1V708.7h1V709.4h1V716.7h1V722.0h1V721.4h1V728.9h1V732.1h1V734.4h1V739.0h1V735.2h1V738.7h1V738.5h1V741.8h1V736.9h1V741.3h1V739.0h1V736.3h1V734.0h1V735.1h1V732.4h1V731.9h1V730.3h1V727.3h1V728.6h1V725.2h1V718.3h1V712.9h1V703.9h1V708.8h1V716.1h1V720.5h1V721.1h1V724.9h1V728.2h1V731.1h1V734.8h1V736.6h1V735.0h1V735.9h1V738.5h1V738.4h1V737.0h1V739.1h1V737.8h1V735.5h1V733.8h1V735.8h1V735.0h1V730.9h1V734.6h1V726.9h1V721.9h1V723.5h1V716.6h1V713.3h1V711.8h1V705.7h1V716.0h1V719.3h1V720.0h1V727.4h1V727.7h1V732.1h1V732.7h1V731.2h1V738.3h1V735.4h1V741.2h1V742.6h1V736.4h1V737.6h1V739.9h1V737.4h1V735.7h1V733.3h1V735.0h1V729.6h1V730.1h1V726.6h1V724.8h1V718.1h1V717.2h1V709.8h1V707.7h1V709.8h1V718.5h1V717.8h1V721.7h1V728.6h1V731.2h1V728.3h1V734.8h1V739.2h1V738.3h1V742.9h1V741.7h1V738.6h1V739.0h1V739.5h1V738.7h1V740.0h1V736.5h1V735.5h1V731.3h1V732.7h1V732.1h1V726.2h1V724.2h1V718.7h1V718.9h1V710.9h1V703.9h1V710.5h1V716.6h1V719.7h1V725.4h1V727.5h1V734.7h1V730.9h1V734.1h1V736.9h1V738.2h1V738.7h1V737.9h1V738.1h1V738.0h1V738.3h1V740.3h1V740.5h1V739.5h1V735.9h1V736.1h1V732.6h1V730.8h1V730.9h1V724.1h1V720.1h1V718.7h1V712.4h1V704.7h1V716.9h1V720.6h1V724.7h1V729.4h1V736.0h1V735.7h1V737.8h1V743.2h1V743.5h1V749.1h1V747.5h1V749.8h1V751.4h1V753.0h1V753.5h1V753.9h1V755.7h1V755.5h1V757.0h1V758.1h1V757.9h1V757.1h1V757.9h1V757.9h1V758.9h1V758.7h1V760.3h1V758.2h1V758.9h1V757.8h1V758.8h1V759.0h1V758.7h1V757.9h1V755.3h1V756.0h1V756.4h1V755.4h1V754.0h1V753.9h1V752.9h1V749.3h1V750.3h1V746.2h1V745.4h1V744.8h1V742.6h1V742.6h1V737.5h1V737.4h1V728.9h1V725.9h1V720.6h1V714.4h1V712.7h1V711.3h1V715.2h1V723.1h1V727.2h1V729.0h1V730.4h1V733.0h1V733.2h1V734.9h1V735.4h1V740.4h1V739.6h1V738.0h1V740.0h1V740.3h1V738.3h1V738.7h1V737.5h1V736.4h1V734.9h1V728.7h1V732.4h1V731.5h1V727.3h1V719.6h1V721.8h1V715.1h1V708.6h1V705.8h1V717.2h1V721.5h1V724.2h1V726.9h1V733.5h1V729.2h1V733.4h1V736.1h1V739.8h1V738.0h1V738.1h1V738.7h1V738.0h1V739.7h1V739.9h1V738.2h1V737.2h1V734.8h1V732.9h1V733.6h1V731.7h1V723.5h1V726.4h1V719.5h1V719.0h1V714.4h1V709.8h1V710.3h1V714.6h1V723.6h1V725.4h1V730.5h1V731.1h1V733.2h1V733.9h1V735.8h1V735.8h1V736.6h1V739.3h1V738.6h1V741.1h1V739.8h1V740.4h1V736.7h1V736.7h1V735.3h1V732.8h1V731.4h1V729.1h1V726.8h1V722.8h1V717.1h1V711.4h1V710.3h1V706.0h1V712.6h1V719.3h1V721.6h1V727.3h1V729.7h1V730.2h1V732.6h1V733.9h1V734.7h1V736.6h1V737.9h1V737.7h1V736.9h1V736.2h1V740.6h1V738.6h1V737.0h1V737.2h1V736.3h1V735.3h1V730.9h1V730.4h1V729.8h1V726.4h1V719.1h1V706.1h1V708.2h1V705.8h1V716.4h1V720.6h1V722.4h1V726.0h1V730.3h1V729.9h1V736.8h1V733.9h1V737.9h1V740.0h1V735.6h1V736.5h1V738.7h1V737.8h1V738.7h1V737.0h1V732.5h1V735.1h1V737.3h1V734.7h1V727.6h1V732.4h1V722.7h1V722.4h1V714.8h1V709.8h1V704.6h1V712.6h1V715.7h1V725.0h1V725.6h1V724.1h1V730.0h1V735.1h1V733.1h1V732.5h1V735.7h1V733.3h1V738.7h1V739.7h1V739.9h1V739.8h1V742.2h1V737.7h1V735.8h1V731.7h1V738.8h1V734.2h1V731.4h1V729.9h1V721.9h1V722.6h1V716.5h1V710.5h1V706.2h1V714.8h1V716.1h1V718.8h1V723.2h1V724.7h1V729.1h1V732.0h1V733.0h1V734.9h1V737.1h1V739.7h1V738.4h1V737.1h1V738.3h1V741.7h1V737.4h1V738.1h1V737.4h1V736.1h1V734.7h1V732.3h1V729.6h1V725.7h1V725.3h1V717.2h1V714.6h1V710.3h1V705.4h1V712.8h1V715.6h1V725.7h1V722.1h1V729.4h1V732.1h1V733.9h1V734.4h1V734.5h1V738.0h1V740.4h1V739.3h1V739.7h1V737.4h1V737.0h1V738.5h1V736.3h1V737.9h1V734.1h1V731.7h1V729.5h1V731.3h1V727.1h1V724.0h1V721.0h1V715.4h1V706.0h1V706.0h1V712.5h1V714.5h1V722.4h1V724.9h1V728.7h1V730.5h1V732.6h1V735.7h1V740.4h1V735.3h1V738.9h1V738.3h1V742.4h1V739.9h1V740.0h1V736.6h1V740.1h1V736.8h1V735.9h1V732.8h1V732.5h1V731.2h1V725.7h1V720.6h1V719.9h1V713.3h1V709.4h1V766.2Z" fill="#1f77b4" fill-opacity="0.500"/>
<path d="M625.3,766.2V710.5h1V720.0h1V721.7h1V725.6h1V730.3h1V731.1h1V735.5h1V734.4h1V738.3h1V743.0h1V740.3h1V740.4h1V737.8h1V740.9h1V736.6h1V738.6h1V741.4h1V739.0h1V737.0h1V739.8h1V736.7h1V734.1h1V730.7h1V725.2h1V726.8h1V721.5h1V715.7h1V713.9h1V714.1h1V719.4h1V721.9h1V725.2h1V731.1h1V731.3h1V736.3h1V737.2h1V737.4h1V737.2h1V738.8h1V739.6h1V742.8h1V737.5h1V741.5h1V739.0h1V741.9h1V738.4h1V737.6h1V740.3h1V736.0h1V735.3h1V730.6h1V726.2h1V724.7h1V718.8h1V713.1h1V715.2h1V717.0h1V716.1h1V723.5h1V725.0h1V732.1h1V729.4h1V732.9h1V736.0h1V737.9h1V737.6h1V741.1h1V740.2h1V744.3h1V739.0h1V740.6h1V741.8h1V743.5h1V738.4h1V739.8h1V735.2h1V736.5h1V730.3h1V728.8h1V723.5h1V722.9h1V719.3h1V710.0h1V713.9h1V714.3h1V719.8h1V727.5h1V731.6h1V733.7h1V728.3h1V734.5h1V736.7h1V738.9h1V735.5h1V738.7h1V740.5h1V739.3h1V741.7h1V741.8h1V738.8h1V740.2h1V737.8h1V735.0h1V735.6h1V736.9h1V735.4h1V730.3h1V728.9h1V726.4h1V716.6h1V709.1h1V713.1h1V715.6h1V720.2h1V725.8h1V725.5h1V730.7h1V732.6h1V734.8h1V740.2h1V739.6h1V740.4h1V740.1h1V742.7h1V740.6h1V744.7h1V743.8h1V739.1h1V739.5h1V736.6h1V736.2h1V737.7h1V734.3h1V729.4h1V729.3h1V726.3h1V722.5h1V715.3h1V707.6h1V711.1h1V717.4h1V721.3h1V727.0h1V727.7h1V729.9h1V731.6h1V736.9h1V737.7h1V737.9h1V740.5h1V740.3h1V741.3h1V738.6h1V740.4h1V741.2h1V738.4h1V737.9h1V741.7h1V738.6h1V733.1h1V737.5h1V730.1h1V725.8h1V725.3h1V719.7h1V715.0h1V716.8h1V710.7h1V722.4h1V724.4h1V725.6h1V729.1h1V729.3h1V732.6h1V733.8h1V739.4h1V739.4h1V740.9h1V743.4h1V744.3h1V738.0h1V740.0h1V740.2h1V738.6h1V736.8h1V734.9h1V737.4h1V734.3h1V731.3h1V732.8h1V727.4h1V722.2h1V721.5h1V715.4h1V708.0h1V711.2h1V720.0h1V719.0h1V727.2h1V732.4h1V731.9h1V733.6h1V740.5h1V739.6h1V740.3h1V745.8h1V742.0h1V741.4h1V742.0h1V744.2h1V739.4h1V742.5h1V739.1h1V737.5h1V732.8h1V737.3h1V734.1h1V729.1h1V726.6h1V719.7h1V720.1h1V713.1h1V705.0h1V712.3h1V719.6h1V724.2h1V729.9h1V732.3h1V734.9h1V732.8h1V737.7h1V736.9h1V738.8h1V740.5h1V738.8h1V743.4h1V741.7h1V741.6h1V743.0h1V741.3h1V740.2h1V740.4h1V737.6h1V733.0h1V738.0h1V734.1h1V725.3h1V725.2h1V720.2h1V716.1h1V708.3h1V719.4h1V727.9h1V727.2h1V731.7h1V737.1h1V737.4h1V742.1h1V745.1h1V746.1h1V749.2h1V749.6h1V751.6h1V753.7h1V753.4h1V757.1h1V755.5h1V756.7h1V756.0h1V758.3h1V759.2h1V759.3h1V758.8h1V758.9h1V758.2h1V760.4h1V760.2h1V760.7h1V759.8h1V760.7h1V759.2h1V759.4h1V760.9h1V758.8h1V759.8h1V757.9h1V758.3h1V758.5h1V755.7h1V754.6h1V755.3h1V754.2h1V751.6h1V751.2h1V747.8h1V745.9h1V748.6h1V747.3h1V744.9h1V740.2h1V739.7h1V732.3h1V726.2h1V726.7h1V719.7h1V718.5h1V714.7h1V717.1h1V724.9h1V727.7h1V732.0h1V733.6h1V737.2h1V735.3h1V739.6h1V737.6h1V741.5h1V741.3h1V743.3h1V742.3h1V744.8h1V739.6h1V740.0h1V740.5h1V736.7h1V741.2h1V736.0h1V733.6h1V735.0h1V728.5h1V724.6h1V727.4h1V719.4h1V712.1h1V713.7h1V718.7h1V722.9h1V725.8h1V732.4h1V738.3h1V731.4h1V735.3h1V739.9h1V740.8h1V738.7h1V742.3h1V739.8h1V739.7h1V744.6h1V743.4h1V738.7h1V738.1h1V738.0h1V734.7h1V735.0h1V732.5h1V727.5h1V730.9h1V720.7h1V722.7h1V715.5h1V710.9h1V714.3h1V718.6h1V726.4h1V731.1h1V733.0h1V735.2h1V738.2h1V738.7h1V738.0h1V739.3h1V737.7h1V745.1h1V741.1h1V745.8h1V740.4h1V741.5h1V741.5h1V737.3h1V736.2h1V734.9h1V733.9h1V730.4h1V730.8h1V725.6h1V722.0h1V716.6h1V713.6h1V708.7h1V718.6h1V720.0h1V724.1h1V730.6h1V731.8h1V733.5h1V735.9h1V738.5h1V737.7h1V739.6h1V738.1h1V740.0h1V740.6h1V739.5h1V741.8h1V740.2h1V743.7h1V739.1h1V737.1h1V738.4h1V732.5h1V733.5h1V731.9h1V728.4h1V723.4h1V712.2h1V709.3h1V709.9h1V722.8h1V723.1h1V724.8h1V728.9h1V734.1h1V734.0h1V741.4h1V738.3h1V739.9h1V741.9h1V739.2h1V738.4h1V740.0h1V738.8h1V739.7h1V739.6h1V738.5h1V740.7h1V738.6h1V738.0h1V729.7h1V739.7h1V723.8h1V724.3h1V719.7h1V712.5h1V710.4h1V714.2h1V716.5h1V729.5h1V730.4h1V727.3h1V731.9h1V736.2h1V734.7h1V738.5h1V738.7h1V734.9h1V743.8h1V741.6h1V741.7h1V740.8h1V744.5h1V740.6h1V736.7h1V733.1h1V739.1h1V736.9h1V733.4h1V732.2h1V723.7h1V723.5h1V720.3h1V713.4h1V712.7h1V716.2h1V717.5h1V721.1h1V726.3h1V727.1h1V730.1h1V734.8h1V737.2h1V738.2h1V739.0h1V742.3h1V738.7h1V743.8h1V739.3h1V746.4h1V742.3h1V742.8h1V741.5h1V736.8h1V737.4h1V733.0h1V732.1h1V727.9h1V728.7h1V722.7h1V716.6h1V712.9h1V707.7h1V715.1h1V718.2h1V729.0h1V726.9h1V732.2h1V733.6h1V735.2h1V736.1h1V737.9h1V739.4h1V742.4h1V740.9h1V743.3h1V738.4h1V739.1h1V739.8h1V742.8h1V739.8h1V737.3h1V732.2h1V735.4h1V734.4h1V728.8h1V725.0h1V728.8h1V722.7h1V708.6h1V710.6h1V714.4h1V718.8h1V724.3h1V732.7h1V729.8h1V732.2h1V733.8h1V736.1h1V741.2h1V738.1h1V741.0h1V741.9h1V742.8h1V741.6h1V741.1h1V739.9h1V740.8h1V738.2h1V738.5h1V735.0h1V734.0h1V732.3h1V726.9h1V725.3h1V726.1h1V718.6h1V711.6h1V766.2Z" fill="#1f77b4"/>
<rect x="625.3" y="478.7" width="555.9" height="95.9" fill="none" stroke="#000" stroke-width="1.9"/>
<rect x="625.3" y="574.6" width="555.9" height="95.7" fill="none" stroke="#000" stroke-width="1.9"/>
<rect x="625.3" y="670.3" width="555.9" height="95.9" fill="none" stroke="#000" stroke-width="1.9"/>
<text x="608.8" y="581.2" font-family="Liberation Serif" font-size="20" text-anchor="end">0</text>
<text x="608.8" y="529.4" font-family="Liberation Serif" font-size="20" text-anchor="end">5</text>
<text x="608.8" y="676.9" font-family="Liberation Serif" font-size="20" text-anchor="end">0.0</text>
<text x="608.8" y="627.9" font-family="Liberation Serif" font-size="20" text-anchor="end">2.5</text>
<text x="608.8" y="772.8" font-family="Liberation Serif" font-size="20" text-anchor="end">0</text>
<text x="608.8" y="701" font-family="Liberation Serif" font-size="20" text-anchor="end">2</text>
<text x="633.7" y="797.8" font-family="Liberation Serif" font-size="20.3" text-anchor="middle">1.00</text>
<rect x="599.7" y="791.5" width="13" height="1.3" fill="#000"/>
<text x="703.19" y="797.8" font-family="Liberation Serif" font-size="20.3" text-anchor="middle">0.75</text>
<rect x="669.19" y="791.5" width="13" height="1.3" fill="#000"/>
<text x="772.67" y="797.8" font-family="Liberation Serif" font-size="20.3" text-anchor="middle">0.50</text>
<rect x="738.67" y="791.5" width="13" height="1.3" fill="#000"/>
<text x="842.16" y="797.8" font-family="Liberation Serif" font-size="20.3" text-anchor="middle">0.25</text>
<rect x="808.16" y="791.5" width="13" height="1.3" fill="#000"/>
<text x="903.25" y="797.8" font-family="Liberation Serif" font-size="20.3" text-anchor="middle">0.00</text>
<text x="972.74" y="797.8" font-family="Liberation Serif" font-size="20.3" text-anchor="middle">0.25</text>
<text x="1042.22" y="797.8" font-family="Liberation Serif" font-size="20.3" text-anchor="middle">0.50</text>
<text x="1111.71" y="797.8" font-family="Liberation Serif" font-size="20.3" text-anchor="middle">0.75</text>
<text x="1181.2" y="797.8" font-family="Liberation Serif" font-size="20.3" text-anchor="middle">1.00</text>
<path d="M625.3,574.6H617.8M625.3,522.8H617.8M625.3,670.3H617.8M625.3,621.3H617.8M625.3,766.2H617.8M625.3,694.4H617.8M625.3,766.2V773.7M694.79,766.2V773.7M764.27,766.2V773.7M833.76,766.2V773.7M903.25,766.2V773.7M972.74,766.2V773.7M1042.22,766.2V773.7M1111.71,766.2V773.7M1181.2,766.2V773.7" stroke="#000" stroke-width="1.9" fill="none"/>
<text transform="translate(568.3,622.6) rotate(-90)" font-family="Liberation Sans" font-size="19.2" text-anchor="middle">Coincidences (1)</text>
<g font-family="Liberation Serif" font-size="20.5"><text x="874.5" y="825.5" font-style="italic">τ</text><text x="895" y="825.5">(</text><text x="901.5" y="825.5" font-style="italic">μ</text><text x="913" y="825.5">s</text><text x="923.8" y="825.5">)</text></g>
</svg>
</body></html>
